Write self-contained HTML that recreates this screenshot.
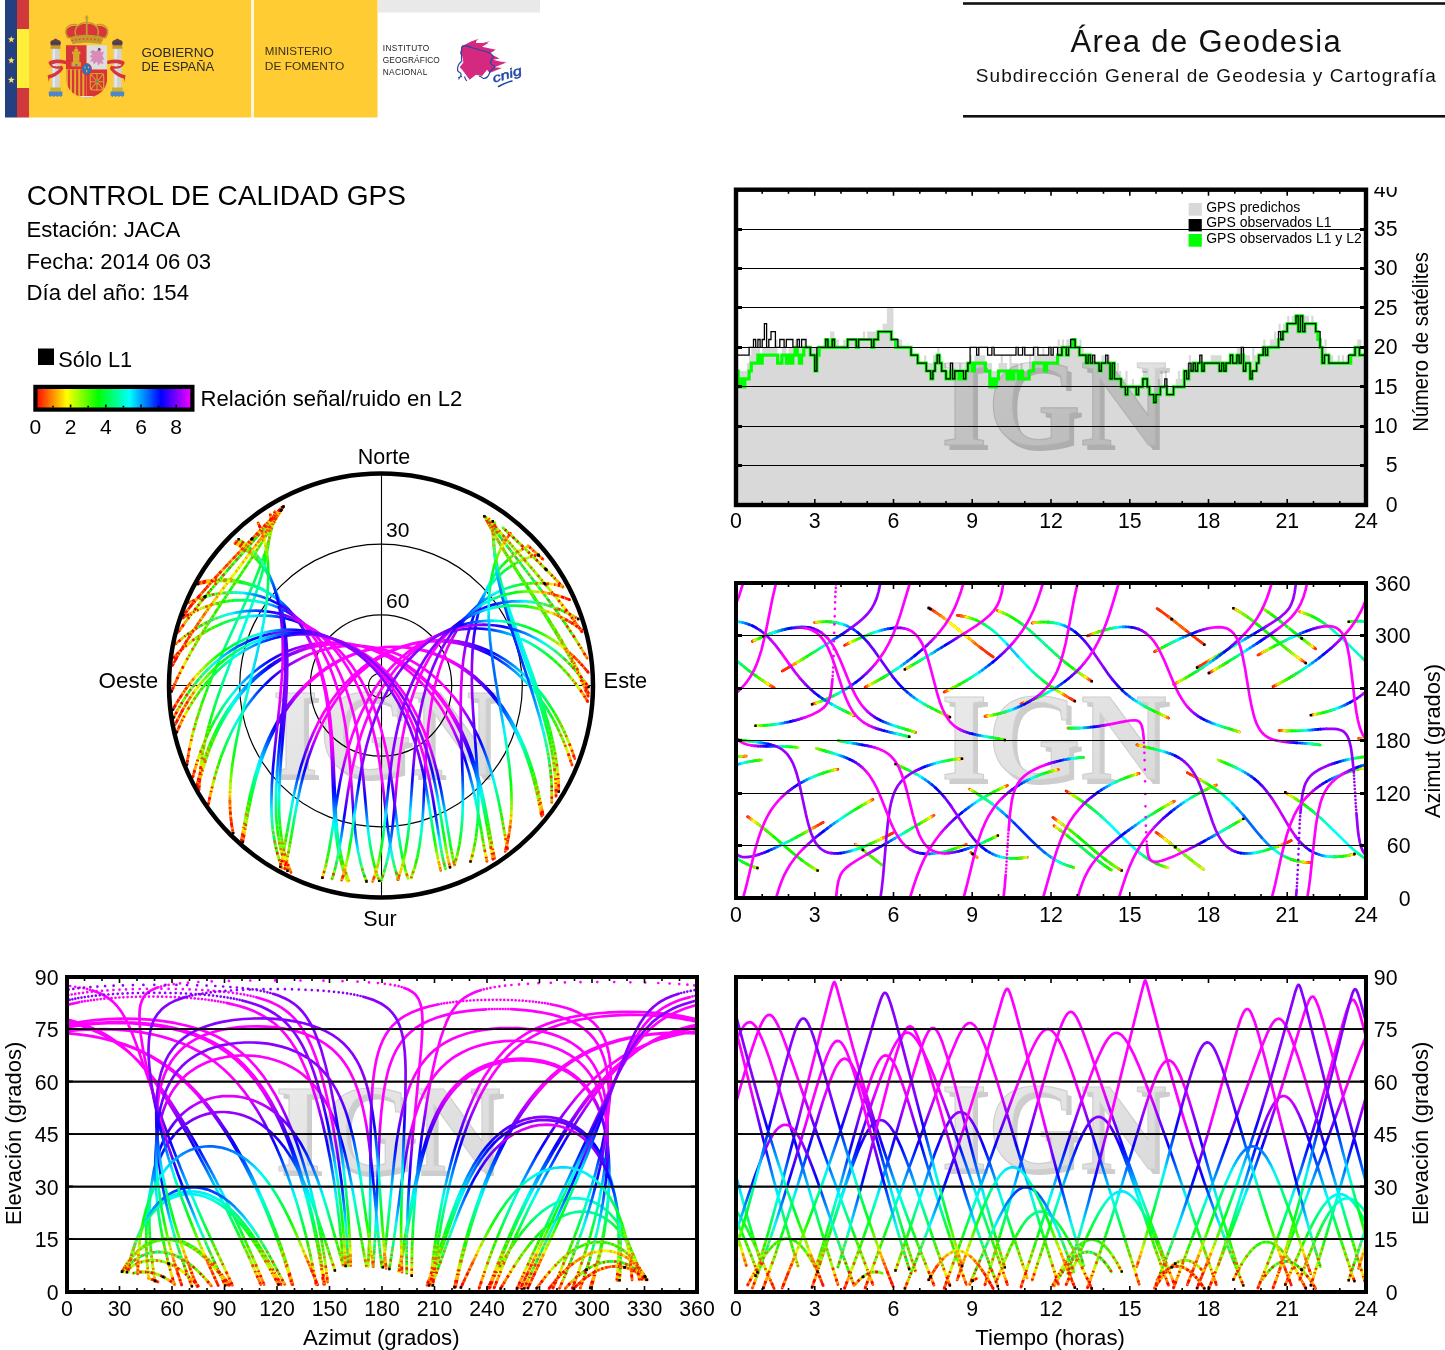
<!DOCTYPE html>
<html><head><meta charset="utf-8"><title>Control de calidad GPS</title>
<style>html,body{margin:0;padding:0;background:#fff}svg{display:block}text{font-family:"Liberation Sans",sans-serif}</style>
</head><body>
<svg width="1445" height="1350" viewBox="0 0 1445 1350">
<rect width="1445" height="1350" fill="#fff"/>
<defs>
<linearGradient id="wg" x1="0" x2="1" y1="0" y2="1"><stop offset="0" stop-color="#ececec"/><stop offset=".5" stop-color="#e2e2e2"/><stop offset="1" stop-color="#d8d8d8"/></linearGradient><g id="ign" font-size="124" font-weight="bold" text-anchor="middle"><text x="4.5" y="45.5" style="font-family:'Liberation Serif',serif;fill:#cdcdcd" textLength="226" lengthAdjust="spacingAndGlyphs">IGN</text><text x="0" y="40.5" style="font-family:'Liberation Serif',serif;fill:url(#wg)" stroke="#d0d0d0" stroke-width="1.2" textLength="226" lengthAdjust="spacingAndGlyphs">IGN</text></g>
<linearGradient id="cb" x1="0" x2="1" y1="0" y2="0"><stop offset="0.0000" stop-color="#ff0000"/><stop offset="0.0500" stop-color="#ff4000"/><stop offset="0.1000" stop-color="#ff8000"/><stop offset="0.1500" stop-color="#ffbf00"/><stop offset="0.2000" stop-color="#ffff00"/><stop offset="0.2500" stop-color="#bfff00"/><stop offset="0.3000" stop-color="#80ff00"/><stop offset="0.3500" stop-color="#40ff00"/><stop offset="0.4000" stop-color="#00ff00"/><stop offset="0.4500" stop-color="#00ff40"/><stop offset="0.5000" stop-color="#00ff80"/><stop offset="0.5500" stop-color="#00ffbf"/><stop offset="0.6000" stop-color="#00ffff"/><stop offset="0.6500" stop-color="#00bfff"/><stop offset="0.7000" stop-color="#0080ff"/><stop offset="0.7500" stop-color="#0040ff"/><stop offset="0.8000" stop-color="#0000ff"/><stop offset="0.8500" stop-color="#4000ff"/><stop offset="0.9000" stop-color="#8000ff"/><stop offset="0.9500" stop-color="#bf00ff"/><stop offset="1.0000" stop-color="#ff00ff"/></linearGradient>
</defs>
<rect x="5" y="0" width="12.5" height="117.5" fill="#24407f"/>
<rect x="17" y="0" width="12.5" height="117.5" fill="#d0383c"/>
<rect x="17" y="29" width="12.5" height="59" fill="#ffee3a"/>
<polygon points="11.3,35.9 12.2,38.3 14.7,38.4 12.7,40.0 13.4,42.4 11.3,41.0 9.2,42.4 9.9,40.0 7.9,38.4 10.4,38.3" fill="#ffe25a"/>
<polygon points="11.3,56.9 12.2,59.3 14.7,59.4 12.7,61.0 13.4,63.4 11.3,62.0 9.2,63.4 9.9,61.0 7.9,59.4 10.4,59.3" fill="#ffe25a"/>
<polygon points="11.3,76.4 12.2,78.8 14.7,78.9 12.7,80.5 13.4,82.9 11.3,81.5 9.2,82.9 9.9,80.5 7.9,78.9 10.4,78.8" fill="#ffe25a"/>
<rect x="29" y="0" width="222.3" height="117.5" fill="#ffcc33"/>
<rect x="254" y="0" width="123.5" height="117.5" fill="#ffcc33"/>
<rect x="251.3" y="0" width="2.7" height="117.5" fill="#fff6d8"/>
<rect x="378" y="0" width="162" height="12.5" fill="#e9e9e9"/>
<g>
<rect x="51.6" y="48" width="8" height="42" fill="#cfd3d6"/>
<rect x="52.8" y="48" width="2.2" height="42" fill="#e6e8ea"/>
<rect x="50.6" y="45.6" width="10" height="3.2" fill="#c39a2c"/>
<rect x="50.3" y="87.5" width="10.6" height="4.2" fill="#cbb02e"/>
<path d="M48.8 91.5h13.6v4l-1.7 1.6-1.7-1.4-1.7 1.4-1.7-1.4-1.7 1.4-1.7-1.4-1.7 1.4-1.7-1.6z" fill="#4f86c6"/>
<path d="M51.2 45.6c-1.6-2.6-1-5 1.8-5.6l2.6-1.6 2.6 1.6c2.8 .6 3.4 3 1.8 5.6z" fill="#6b3f3a"/>
<path d="M51.1 42.3h9v1.6h-9z" fill="#33406e"/>
<rect x="113.4" y="48" width="8" height="42" fill="#cfd3d6"/>
<rect x="114.6" y="48" width="2.2" height="42" fill="#e6e8ea"/>
<rect x="112.4" y="45.6" width="10" height="3.2" fill="#c39a2c"/>
<rect x="112.1" y="87.5" width="10.6" height="4.2" fill="#cbb02e"/>
<path d="M110.6 91.5h13.6v4l-1.7 1.6-1.7-1.4-1.7 1.4-1.7-1.4-1.7 1.4-1.7-1.4-1.7 1.4-1.7-1.6z" fill="#4f86c6"/>
<path d="M113.0 45.6c-1.6-2.6-1-5 1.8-5.6l2.6-1.6 2.6 1.6c2.8 .6 3.4 3 1.8 5.6z" fill="#6b3f3a"/>
<path d="M112.9 42.3h9v1.6h-9z" fill="#33406e"/>
<path d="M48.4 62.5c3-3.4 10-3.6 17.6-1.8v3.6c-7-1.6-12-1.2-14.6 .8 2.2 1.8 8 1.6 10.6 .4l1.4 3.2c-3.2 5-9 8.6-14 9.8l-.6 3.4-1.2-6.6c5-1 9.6-3.6 12.2-6.8-5 .8-9.600-.8-11.4-6z" fill="#d8353a"/>
<path d="M124.800 62.5c-3-3.4-10-3.6-17.600-1.800v3.600c7-1.600 12-1.200 14.600.8-2.200 1.800-8 1.600-10.600.4l-1.400 3.200c3.200 5 9 8.600 14 9.800l.6 3.400 1.200-6.600c-5-1-9.600-3.600-12.200-6.800 5 .8 9.600-.8 11.400-6z" fill="#d8353a"/>
<clipPath id="sh"><path d="M66 45.200h41.200v33c0 11-9 19.300-20.600 19.300s-20.600-8.300-20.600-19.300z"/></clipPath>
<g clip-path="url(#sh)">
<rect x="66" y="45" width="20.700" height="24.500" fill="#d8353a"/>
<rect x="86.700" y="45" width="20.600" height="24.500" fill="#dcdddf"/>
<rect x="66" y="69.500" width="20.700" height="29" fill="#e5a82c"/>
<rect x="67.9" y="69.500" width="2.1" height="29" fill="#d8353a"/>
<rect x="72.0" y="69.500" width="2.1" height="29" fill="#d8353a"/>
<rect x="76.1" y="69.500" width="2.1" height="29" fill="#d8353a"/>
<rect x="80.2" y="69.500" width="2.1" height="29" fill="#d8353a"/>
<rect x="84.3" y="69.500" width="2.1" height="29" fill="#d8353a"/>
<rect x="86.700" y="69.500" width="20.600" height="29" fill="#d8353a"/>
<path d="M80 96h13v2h-13z" fill="#e8e8e8"/>
</g>
<path d="M71.500 66.500v-4.500h1.500v-8h-1v-2.500h2.200v-2.600h1.300v-2.200h1.400v2.200h1.300v2.600h2.200v2.500h-1v8h1.500v4.500z" fill="#d8a52e"/>
<circle cx="76.400" cy="65" r="1.1" fill="#3f6fb5"/>
<path d="M90 52l3-2 3 1.500 3-3.500 2.500 1-1 3.500 3.500-1-1.500 4 2 4.500-2.500-.5 1.500 4.500-3-1-2.500 2.500-1-4-3.500 3-.5-3.500-3 1 2-4-2.500-2 3-1.500z" fill="#d98ab8"/>
<path d="M98.500 47.800l2 .8-.8 2.200-1.800-.8z" fill="#55406a"/>
<g stroke="#d8a52e" stroke-width="1.1" fill="none"><rect x="90.300" y="73.500" width="13.400" height="16.500" rx="3"/><path d="M90.300 73.500l13.400 16.500M103.700 73.500l-13.400 16.500M97 73v17.500M90 81.700h14"/></g>
<circle cx="97" cy="81.500" r="1.300" fill="#3aa04a"/>
<ellipse cx="86.700" cy="69.200" rx="4.800" ry="5.800" fill="#2f6fc0" stroke="#d8353a" stroke-width=".8"/>
<path d="M85 66.500v2M88.400 66.500v2M86.700 70v2.400" stroke="#e6c23a" stroke-width="1"/>
<path d="M67.500 38c-5-7 1-13.500 9.500-12 3-3 16.500-3 19.500 0 8.500-1.500 14.500 5 9.500 12-11-3.400-27-3.400-38 0z" fill="#d8353a"/>
<g fill="none" stroke="#c39a2c" stroke-width="1.500"><path d="M69 38.500c-7-8-1.500-15.500 8-13.800"/><path d="M104.500 38.500c7-8 1.500-15.500-8-13.800"/><path d="M76 36c-3-7 2-13 10.500-13.500"/><path d="M97.500 36c3-7-2-13-10.500-13.500"/><path d="M86.700 16v21" stroke-width="1.800"/></g>
<path d="M69.500 37.200c11-3.400 23.500-3.400 34.500 0l-3.200 7c-9-2-19.100-2-28.100 0z" fill="#c39a2c"/>
<path d="M71.500 40.800c10-2.600 20.500-2.600 30.500 0" stroke="#e04040" stroke-width="1.300" fill="none" stroke-dasharray="1.600 2.200"/>
<path d="M84.900 17.800h3.600M86.700 15.300v4.500" stroke="#c39a2c" stroke-width="1.200"/>
</g>
<g fill="#2b2a29">
<text x="141.500" y="56.500" font-size="13" textLength="72.500" lengthAdjust="spacingAndGlyphs">GOBIERNO</text>
<text x="141.500" y="71" font-size="13" textLength="72.500" lengthAdjust="spacingAndGlyphs">DE ESPAÑA</text>
<text x="264.800" y="55.300" font-size="11.600" textLength="67.500" lengthAdjust="spacingAndGlyphs" fill="#3a3020">MINISTERIO</text>
<text x="264.800" y="70.300" font-size="11.600" textLength="79.500" lengthAdjust="spacingAndGlyphs" fill="#3a3020">DE FOMENTO</text>
<text x="382.800" y="50.800" font-size="8.300" textLength="46.500" lengthAdjust="spacing" fill="#222">INSTITUTO</text>
<text x="382.800" y="62.600" font-size="8.300" textLength="57" lengthAdjust="spacing" fill="#222">GEOGRÁFICO</text>
<text x="382.800" y="74.500" font-size="8.300" textLength="44.500" lengthAdjust="spacing" fill="#222">NACIONAL</text>
</g>
<path d="M462.2 46.1L469.6 42.3 476.500 39.9 475.9 43 488.300 43 482.100 46.700 495.800 49.800 489.600 53.500 499.500 58.500 493.300 59.800 505.100 62.900 494.500 67.200 502 67.900 489.600 72.900 487.100 69.700 482.100 76 475.900 74.700 469.600 79.700 465.900 74.700 462.200 69.700 459.700 67.200 463.400 62.300 462.200 56 460.300 52.300Z" fill="#d5297f"/>
<path d="M470 42l8.500-3.200-5 4.500zM478 44.500l12-3.500-9 5.500zM492 61.500l15 .5-13 4z" fill="#d5297f"/>
<path d="M462.500 46c-2.500 2.500 .5 4.500-1.800 7 2.200 2.500-.3 5 1.200 8-3 2.500-4.800 5.500-4.300 9.500 .8 2.200 3.200 1.200 3.500 3.800 .4 2.200-2.800 3.400-2.200 5.200M464.500 76.500c1 2.200 .5 3.500 2.500 4.200M462.500 46c3.500-1.500 5.500 1 8.500 1.200 3 1.500 6 1.200 9 2.800 3 .4 6 1.800 9 2.600 2.500 1.400 4 2.400 4.500 4.200-1.500 2-3.500 4-3 6.500 1 2.200 4 1.200 4.200 3.800-1.500 2.400-4.500 2.600-5 5.400-.8 3-3.200 5.800-6.200 6-1.800-.6-2.400-2.600-4.600-2.200" fill="none" stroke="#2348a6" stroke-width="1.200" stroke-linejoin="round"/>
<path d="M458.200 77.300l1.200.5M461.200 76l.6 1.200" stroke="#2348a6" stroke-width="1.100"/>
<text transform="translate(494,82.800) rotate(-17)" font-size="12.500" font-style="italic" fill="#2348a6" stroke="#2348a6" stroke-width=".45" textLength="30" lengthAdjust="spacingAndGlyphs">cnig</text>
<path d="M498.500 86.500c4.500-2.600 8.500-4.400 13.500-5.600" stroke="#2348a6" stroke-width="1.500" fill="none" stroke-linecap="round"/>
<rect x="963" y="2.200" width="482" height="2.600" fill="#111"/>
<rect x="963" y="115" width="482" height="2.600" fill="#111"/>
<text x="1206.3" y="52" font-size="31" text-anchor="middle" letter-spacing="1.37" fill="#111">Área de Geodesia</text>
<text x="1206.3" y="82" font-size="19" text-anchor="middle" letter-spacing="1.09" fill="#111">Subdirección General de Geodesia y Cartografía</text>
<text x="26.8" y="205" font-size="28.05" text-anchor="start" >CONTROL DE CALIDAD GPS</text>
<text x="26.5" y="236.5" font-size="22.15" text-anchor="start" >Estación: JACA</text>
<text x="26.5" y="268.5" font-size="22.15" text-anchor="start" >Fecha: 2014 06 03</text>
<text x="26.5" y="299.5" font-size="22.15" text-anchor="start" >Día del año: 154</text>
<rect x="38" y="348.5" width="16" height="16.5" fill="#000"/>
<text x="58.3" y="366.5" font-size="21.8" text-anchor="start" >Sólo L1</text>
<rect x="35.4" y="386.9" width="157" height="22.7" fill="url(#cb)" stroke="#000" stroke-width="4.2"/>
<path d="M53.0 407.6v-1.8M70.6 407.6v-3M88.2 407.6v-1.8M105.8 407.6v-3M123.4 407.6v-1.8M141.0 407.6v-3M158.6 407.6v-1.8M176.2 407.6v-3" stroke="#000" stroke-width="1.6"/>
<text x="35.4" y="433.8" font-size="21" text-anchor="middle" >0</text>
<text x="70.6" y="433.8" font-size="21" text-anchor="middle" >2</text>
<text x="105.80000000000001" y="433.8" font-size="21" text-anchor="middle" >4</text>
<text x="141.0" y="433.8" font-size="21" text-anchor="middle" >6</text>
<text x="176.20000000000002" y="433.8" font-size="21" text-anchor="middle" >8</text>
<text x="200.6" y="405.6" font-size="22.1" text-anchor="start" >Relación señal/ruido en L2</text>
<defs><linearGradient id="gl0" gradientUnits="userSpaceOnUse" x1="0" x2="0" y1="1292" y2="977"><stop offset="0.0000" stop-color="#ff0000"/><stop offset="0.0222" stop-color="#ff3900"/><stop offset="0.0444" stop-color="#ff9f00"/><stop offset="0.0611" stop-color="#faff00"/><stop offset="0.0778" stop-color="#aaff00"/><stop offset="0.0944" stop-color="#80ff00"/><stop offset="0.1111" stop-color="#55ff00"/><stop offset="0.1278" stop-color="#35ff00"/><stop offset="0.1444" stop-color="#15ff00"/><stop offset="0.1667" stop-color="#00ff0b"/><stop offset="0.1889" stop-color="#00ff2a"/><stop offset="0.2167" stop-color="#00ff55"/><stop offset="0.2444" stop-color="#00ff80"/><stop offset="0.2722" stop-color="#00ffb5"/><stop offset="0.3000" stop-color="#00ffea"/><stop offset="0.3278" stop-color="#00dfff"/><stop offset="0.3556" stop-color="#00aaff"/><stop offset="0.3833" stop-color="#007bff"/><stop offset="0.4111" stop-color="#004cff"/><stop offset="0.4389" stop-color="#0022ff"/><stop offset="0.4667" stop-color="#0800ff"/><stop offset="0.4944" stop-color="#3100ff"/><stop offset="0.5222" stop-color="#5900ff"/><stop offset="0.5556" stop-color="#8700ff"/><stop offset="0.5889" stop-color="#b500ff"/><stop offset="0.6222" stop-color="#e100ff"/><stop offset="0.6556" stop-color="#ff00ff"/><stop offset="0.6889" stop-color="#ff00ff"/><stop offset="0.7222" stop-color="#ff00ff"/><stop offset="0.7500" stop-color="#ff00ff"/><stop offset="0.7778" stop-color="#ff00ff"/><stop offset="1.0000" stop-color="#ff00ff"/></linearGradient><linearGradient id="gl1" gradientUnits="userSpaceOnUse" x1="0" x2="0" y1="1292" y2="977"><stop offset="0.0000" stop-color="#ff0000"/><stop offset="0.0222" stop-color="#ff9000"/><stop offset="0.0444" stop-color="#99ff00"/><stop offset="0.0611" stop-color="#4bff00"/><stop offset="0.0778" stop-color="#10ff00"/><stop offset="0.0944" stop-color="#00ff1d"/><stop offset="0.1111" stop-color="#00ff4d"/><stop offset="0.1278" stop-color="#00ff66"/><stop offset="0.1444" stop-color="#00ff80"/><stop offset="0.1667" stop-color="#00ffaa"/><stop offset="0.1889" stop-color="#00ffd4"/><stop offset="0.2167" stop-color="#00f4ff"/><stop offset="0.2444" stop-color="#00bfff"/><stop offset="0.2722" stop-color="#008eff"/><stop offset="0.3000" stop-color="#005fff"/><stop offset="0.3278" stop-color="#0033ff"/><stop offset="0.3556" stop-color="#0008ff"/><stop offset="0.3833" stop-color="#2100ff"/><stop offset="0.4111" stop-color="#4900ff"/><stop offset="0.4389" stop-color="#7000ff"/><stop offset="0.4667" stop-color="#9600ff"/><stop offset="0.4944" stop-color="#bc00ff"/><stop offset="0.5222" stop-color="#e100ff"/><stop offset="0.5556" stop-color="#ff00ff"/><stop offset="0.5889" stop-color="#ff00ff"/><stop offset="0.6222" stop-color="#ff00ff"/><stop offset="0.6556" stop-color="#ff00ff"/><stop offset="0.6889" stop-color="#ff00ff"/><stop offset="0.7222" stop-color="#ff00ff"/><stop offset="0.7500" stop-color="#ff00ff"/><stop offset="0.7778" stop-color="#ff00ff"/><stop offset="1.0000" stop-color="#ff00ff"/></linearGradient><linearGradient id="gl2" gradientUnits="userSpaceOnUse" x1="0" x2="0" y1="1292" y2="977"><stop offset="0.0000" stop-color="#ff0000"/><stop offset="0.0222" stop-color="#ff1700"/><stop offset="0.0444" stop-color="#ff2d00"/><stop offset="0.0611" stop-color="#ff3e00"/><stop offset="0.0778" stop-color="#ff4f00"/><stop offset="0.0944" stop-color="#ff7300"/><stop offset="0.1111" stop-color="#ff9f00"/><stop offset="0.1278" stop-color="#faff00"/><stop offset="0.1444" stop-color="#aaff00"/><stop offset="0.1667" stop-color="#71ff00"/><stop offset="0.1889" stop-color="#40ff00"/><stop offset="0.2167" stop-color="#0dff00"/><stop offset="0.2444" stop-color="#00ff1b"/><stop offset="0.2722" stop-color="#00ff44"/><stop offset="0.3000" stop-color="#00ff6f"/><stop offset="0.3278" stop-color="#00ff9f"/><stop offset="0.3556" stop-color="#00ffd4"/><stop offset="0.3833" stop-color="#00f4ff"/><stop offset="0.4111" stop-color="#00bfff"/><stop offset="0.4389" stop-color="#008eff"/><stop offset="0.4667" stop-color="#005fff"/><stop offset="0.4944" stop-color="#0033ff"/><stop offset="0.5222" stop-color="#0008ff"/><stop offset="0.5556" stop-color="#2900ff"/><stop offset="0.5889" stop-color="#5900ff"/><stop offset="0.6222" stop-color="#8700ff"/><stop offset="0.6556" stop-color="#8800ff"/><stop offset="0.6889" stop-color="#8800ff"/><stop offset="0.7222" stop-color="#8800ff"/><stop offset="0.7500" stop-color="#8800ff"/><stop offset="0.7778" stop-color="#8800ff"/><stop offset="1.0000" stop-color="#8800ff"/></linearGradient><linearGradient id="nl0" gradientUnits="userSpaceOnUse" x1="0" x2="0" y1="1292" y2="977"><stop offset="0.0000" stop-color="#ff0000" stop-opacity="1"/><stop offset="0.0556" stop-color="#ff0000" stop-opacity="1"/><stop offset="0.0889" stop-color="#ff2000" stop-opacity="0.8"/><stop offset="0.1333" stop-color="#ff6000" stop-opacity="0.45"/><stop offset="0.1889" stop-color="#ffa000" stop-opacity="0"/><stop offset="1.0000" stop-color="#ffa000" stop-opacity="0"/></linearGradient><linearGradient id="nl1" gradientUnits="userSpaceOnUse" x1="0" x2="0" y1="1292" y2="977"><stop offset="0.0000" stop-color="#ff8000" stop-opacity="1"/><stop offset="0.0556" stop-color="#ffd000" stop-opacity="0.9"/><stop offset="0.1111" stop-color="#e0ff00" stop-opacity="0.7"/><stop offset="0.1778" stop-color="#a0ff00" stop-opacity="0.4"/><stop offset="0.2444" stop-color="#60ff00" stop-opacity="0"/><stop offset="1.0000" stop-color="#60ff00" stop-opacity="0"/></linearGradient><radialGradient id="gr0" gradientUnits="userSpaceOnUse" cx="381" cy="685.5" r="212"><stop offset="0.0000" stop-color="#ff00ff"/><stop offset="0.2222" stop-color="#ff00ff"/><stop offset="0.2500" stop-color="#ff00ff"/><stop offset="0.2778" stop-color="#ff00ff"/><stop offset="0.3111" stop-color="#ff00ff"/><stop offset="0.3444" stop-color="#ff00ff"/><stop offset="0.3778" stop-color="#e100ff"/><stop offset="0.4111" stop-color="#b500ff"/><stop offset="0.4444" stop-color="#8700ff"/><stop offset="0.4778" stop-color="#5900ff"/><stop offset="0.5056" stop-color="#3100ff"/><stop offset="0.5333" stop-color="#0800ff"/><stop offset="0.5611" stop-color="#0022ff"/><stop offset="0.5889" stop-color="#004cff"/><stop offset="0.6167" stop-color="#007bff"/><stop offset="0.6444" stop-color="#00aaff"/><stop offset="0.6722" stop-color="#00dfff"/><stop offset="0.7000" stop-color="#00ffea"/><stop offset="0.7278" stop-color="#00ffb5"/><stop offset="0.7556" stop-color="#00ff80"/><stop offset="0.7833" stop-color="#00ff55"/><stop offset="0.8111" stop-color="#00ff2a"/><stop offset="0.8333" stop-color="#00ff0b"/><stop offset="0.8556" stop-color="#15ff00"/><stop offset="0.8722" stop-color="#35ff00"/><stop offset="0.8889" stop-color="#55ff00"/><stop offset="0.9056" stop-color="#80ff00"/><stop offset="0.9222" stop-color="#aaff00"/><stop offset="0.9389" stop-color="#faff00"/><stop offset="0.9556" stop-color="#ff9f00"/><stop offset="0.9778" stop-color="#ff3900"/><stop offset="1.0000" stop-color="#ff0000"/></radialGradient><radialGradient id="gr1" gradientUnits="userSpaceOnUse" cx="381" cy="685.5" r="212"><stop offset="0.0000" stop-color="#ff00ff"/><stop offset="0.2222" stop-color="#ff00ff"/><stop offset="0.2500" stop-color="#ff00ff"/><stop offset="0.2778" stop-color="#ff00ff"/><stop offset="0.3111" stop-color="#ff00ff"/><stop offset="0.3444" stop-color="#ff00ff"/><stop offset="0.3778" stop-color="#ff00ff"/><stop offset="0.4111" stop-color="#ff00ff"/><stop offset="0.4444" stop-color="#ff00ff"/><stop offset="0.4778" stop-color="#e100ff"/><stop offset="0.5056" stop-color="#bc00ff"/><stop offset="0.5333" stop-color="#9600ff"/><stop offset="0.5611" stop-color="#7000ff"/><stop offset="0.5889" stop-color="#4900ff"/><stop offset="0.6167" stop-color="#2100ff"/><stop offset="0.6444" stop-color="#0008ff"/><stop offset="0.6722" stop-color="#0033ff"/><stop offset="0.7000" stop-color="#005fff"/><stop offset="0.7278" stop-color="#008eff"/><stop offset="0.7556" stop-color="#00bfff"/><stop offset="0.7833" stop-color="#00f4ff"/><stop offset="0.8111" stop-color="#00ffd4"/><stop offset="0.8333" stop-color="#00ffaa"/><stop offset="0.8556" stop-color="#00ff80"/><stop offset="0.8722" stop-color="#00ff66"/><stop offset="0.8889" stop-color="#00ff4d"/><stop offset="0.9056" stop-color="#00ff1d"/><stop offset="0.9222" stop-color="#10ff00"/><stop offset="0.9389" stop-color="#4bff00"/><stop offset="0.9556" stop-color="#99ff00"/><stop offset="0.9778" stop-color="#ff9000"/><stop offset="1.0000" stop-color="#ff0000"/></radialGradient><radialGradient id="gr2" gradientUnits="userSpaceOnUse" cx="381" cy="685.5" r="212"><stop offset="0.0000" stop-color="#8800ff"/><stop offset="0.2222" stop-color="#8800ff"/><stop offset="0.2500" stop-color="#8800ff"/><stop offset="0.2778" stop-color="#8800ff"/><stop offset="0.3111" stop-color="#8800ff"/><stop offset="0.3444" stop-color="#8800ff"/><stop offset="0.3778" stop-color="#8700ff"/><stop offset="0.4111" stop-color="#5900ff"/><stop offset="0.4444" stop-color="#2900ff"/><stop offset="0.4778" stop-color="#0008ff"/><stop offset="0.5056" stop-color="#0033ff"/><stop offset="0.5333" stop-color="#005fff"/><stop offset="0.5611" stop-color="#008eff"/><stop offset="0.5889" stop-color="#00bfff"/><stop offset="0.6167" stop-color="#00f4ff"/><stop offset="0.6444" stop-color="#00ffd4"/><stop offset="0.6722" stop-color="#00ff9f"/><stop offset="0.7000" stop-color="#00ff6f"/><stop offset="0.7278" stop-color="#00ff44"/><stop offset="0.7556" stop-color="#00ff1b"/><stop offset="0.7833" stop-color="#0dff00"/><stop offset="0.8111" stop-color="#40ff00"/><stop offset="0.8333" stop-color="#71ff00"/><stop offset="0.8556" stop-color="#aaff00"/><stop offset="0.8722" stop-color="#faff00"/><stop offset="0.8889" stop-color="#ff9f00"/><stop offset="0.9056" stop-color="#ff7300"/><stop offset="0.9222" stop-color="#ff4f00"/><stop offset="0.9389" stop-color="#ff3e00"/><stop offset="0.9556" stop-color="#ff2d00"/><stop offset="0.9778" stop-color="#ff1700"/><stop offset="1.0000" stop-color="#ff0000"/></radialGradient><radialGradient id="nr0" gradientUnits="userSpaceOnUse" cx="381" cy="685.5" r="212"><stop offset="0.0000" stop-color="#ffa000" stop-opacity="0"/><stop offset="0.8111" stop-color="#ffa000" stop-opacity="0"/><stop offset="0.8667" stop-color="#ff6000" stop-opacity="0.45"/><stop offset="0.9111" stop-color="#ff2000" stop-opacity="0.8"/><stop offset="0.9444" stop-color="#ff0000" stop-opacity="1"/><stop offset="1.0000" stop-color="#ff0000" stop-opacity="1"/></radialGradient><radialGradient id="nr1" gradientUnits="userSpaceOnUse" cx="381" cy="685.5" r="212"><stop offset="0.0000" stop-color="#60ff00" stop-opacity="0"/><stop offset="0.7556" stop-color="#60ff00" stop-opacity="0"/><stop offset="0.8222" stop-color="#a0ff00" stop-opacity="0.4"/><stop offset="0.8889" stop-color="#e0ff00" stop-opacity="0.7"/><stop offset="0.9444" stop-color="#ffd000" stop-opacity="0.9"/><stop offset="1.0000" stop-color="#ff8000" stop-opacity="1"/></radialGradient><clipPath id="k2"><rect x="736" y="583" width="630" height="315"/></clipPath><clipPath id="k3"><rect x="67" y="977" width="630" height="315"/></clipPath><clipPath id="k4"><rect x="736" y="977" width="630" height="315"/></clipPath><clipPath id="kp"><circle cx="381" cy="685.5" r="212"/></clipPath><path id="a0" d="M736 1040.4L739.9 1032.3 743.4 1026.6 745 1024.7 746.5 1023.3 748 1022.5 749.3 1022.2 750.7 1022.3 752.2 1023 753.7 1024.3 755.2 1026 756.8 1028.3 758.5 1031.4 762.2 1039.5 765.5 1047.8 769.5 1058.9 778.9 1088.1 788.5 1119.9 818.9 1222.8 828.8 1255.2 837.9 1284.5M1273 1288L1313.1 1179.1 1352.2 1071 1360.1 1050.4 1366 1036.7M736 1102.5L744.5 1073.1 751.1 1051.7 756.3 1036.2 760.5 1025.7 762.5 1021.6 764.2 1018.7 766 1016.5 767.5 1015.3 769 1014.9 770.6 1015.2 772.1 1016.2 773.8 1018.2 776 1021.6 778.7 1026.9 781.7 1034.1 785.2 1043.2 791.8 1061.5 813.7 1124.3 827.7 1163.4 846.5 1214.4 872.9 1284.5M1310.9 1285.3L1321.4 1251.3 1332.8 1213 1366 1096.5M755.5 1275.7L768.4 1232.2 781.9 1183.2 797.7 1122.8 829 998.5 832.5 985.7 833.6 982.8 834.2 982.1 834.7 982.3 835.3 983.5 837.1 989 852.8 1047.2 864.6 1088.6 874 1119.7 883.4 1149 894.4 1181.2 906.2 1214 919.1 1247.8 934 1285.2M763.3 1288L775.4 1254.2 787.4 1217.9 798.8 1181.4 819.6 1112 823.9 1098.2 827.7 1087.2 832.5 1074.6 834.7 1069.7 836.6 1066 838.6 1063 840.6 1060.7 842.5 1059.3 844.3 1058.7 846.2 1059 848.2 1060.2 850.2 1062.3 852.4 1065.6 854.6 1069.8 856.8 1074.7 859.2 1080.9 861.8 1088.4 865.9 1101.5 871 1118.5 890.4 1188.2 899.4 1219.4 907.7 1247 915.6 1271.5M1052.8 1285.3L1058.7 1274.3 1063.7 1265.5 1068.5 1258 1072.9 1252.1 1077 1247.4 1081.2 1243.7 1085.1 1241.3 1087.1 1240.4 1089.1 1239.9 1091 1239.7 1093 1239.7 1095 1240.1 1096.9 1240.7 1098.9 1241.6 1100.9 1242.8 1104.8 1246.1 1108.8 1250.5 1112.9 1256.2 1117.3 1263.3 1121.7 1271.5M816.1 1266.5L823.7 1242.3 831.8 1215.1 840.6 1184.3 859.6 1115.5 864.6 1098.3 868.8 1085.1 871.4 1077.5 873.8 1071.3 876 1066.3 878.2 1062.1 880.2 1059.1 882.1 1056.9 884.1 1055.7 886.1 1055.4 887.8 1056 889.8 1057.5 891.5 1059.6 893.5 1062.6 895.5 1066.4 897.7 1071.3 902.2 1083.5 906 1094.6 910.1 1107.8 930.7 1176.8 942.1 1213.5 954.1 1249.9 966.3 1284.4M1233.4 1279.6L1238.2 1270.1 1242.8 1262.1 1247.2 1255.5 1251.6 1250.1 1255.8 1246.2 1257.9 1244.7 1259.9 1243.6 1261.9 1242.8 1263.8 1242.2 1265.8 1242 1268 1242.1 1270 1242.5 1271.9 1243.1 1273.9 1244.1 1276.1 1245.4 1280.5 1249.1 1284.8 1253.9 1289.4 1260 1294.5 1267.8 1299.7 1276.8 1305.8 1288.3M812.1 1287.3L825.9 1245 862.7 1130.4 872.9 1099.8 881.2 1076.5 885.4 1065.7 889.3 1056.2 892.8 1048.7 895.9 1043 899 1038.3 901.8 1035.1 904.4 1033.3 905.8 1032.8 907.1 1032.6 908.4 1032.7 909.7 1033.2 912.3 1034.9 915.2 1037.9 918.2 1042.3 921.5 1048.1 925.2 1055.7 929.2 1064.6 933.8 1075.8 944 1102.8 957.6 1140.6 1007.5 1284.7M844.5 1288.4L853.2 1265.6 861.6 1242.7 869.7 1219.2 877.8 1194.5 890.4 1153.2 913.6 1072.6 917.6 1059.5 920.8 1049.3 924.3 1039.7 927.2 1033.6 928.5 1031.4 929.8 1029.7 931.1 1028.6 932.4 1028 934 1028.2 935.5 1029.2 937 1031 938.8 1034 940.5 1037.7 942.5 1042.8 946.9 1056.1 954.8 1084.3 974.4 1160.2 984.7 1198.6 995 1234.9 1004.8 1267.4M1156 1286.1L1159.5 1280.8 1162.8 1276.2 1166.1 1272.1 1169.1 1268.7 1172.2 1265.8 1175 1263.7 1178.1 1261.9 1180.9 1260.8 1183.8 1260.3 1186.6 1260.3 1189.5 1260.9 1192.3 1262 1195.2 1263.7 1198 1266 1200.8 1268.8 1203.7 1272.1M865.1 1288.1L904 1181.9 939.9 1082.9 950.4 1055 956.7 1039.9 959.3 1034.5 961.8 1030.1 963.9 1026.9 965.9 1024.8 967.9 1023.4 969.8 1023 970.9 1023.1 972 1023.5 974.2 1025.2 976.4 1028 978.8 1032 981.4 1037.4 984.3 1044.2 987.6 1052.9 991.1 1062.9 996.8 1080.3 1003.5 1102.2 1039.2 1222.1 1049.2 1255.1 1058.4 1284.3M944.2 1288.4L999.8 1132.5 1013.6 1094.8 1023.4 1069.2 1027.6 1059 1031.3 1050.5 1034.6 1043.8 1037.7 1038.2 1040.3 1034.3 1042.9 1031.4 1045.3 1029.7 1046.6 1029.3 1047.7 1029.1 1048.8 1029.2 1050.1 1029.6 1051.4 1030.4 1052.8 1031.5 1055.4 1034.6 1058 1038.7 1060.8 1044.2 1064.1 1051.5 1067.6 1060.2 1071.6 1070.8 1078.8 1091.8 1087.5 1118.9 1123 1233.3 1139.2 1284.3M984.9 1284.9L995.2 1251.5 1006.4 1213.7 1018 1173.1 1042.9 1084.1 1049 1063 1053.8 1047.1 1059.3 1030.7 1061.7 1024.4 1063.7 1019.9 1065.7 1016.2 1067.4 1013.7 1069.2 1012.2 1070.7 1011.8 1072 1012.1 1073.3 1013 1074.6 1014.4 1076.2 1016.7 1079.4 1023.2 1083.4 1032.9 1090.2 1051.8 1113.8 1121 1128 1161.1 1147.5 1213.8 1174.4 1284.5M1021 1287.1L1034.4 1246.2 1071.3 1131.5 1081.8 1100.3 1090.4 1076.6 1094.5 1065.8 1098.5 1056.5 1102 1049 1105.2 1042.9 1108.1 1038.6 1110.9 1035.4 1112.5 1034.2 1113.8 1033.5 1115.1 1033 1116.4 1032.9 1117.7 1033.1 1119 1033.5 1121.7 1035.2 1124.5 1038.3 1127.6 1042.7 1130.8 1048.6 1134.6 1056.2 1138.5 1065.1 1143.1 1076.4 1153.4 1103.4 1166.7 1140.6 1216.4 1284.7M747.6 1285.2L753.5 1274.1 758.8 1264.9 763.6 1257.3 767.9 1251.3 772.3 1246.3 776.5 1242.6 780.4 1240.1 782.4 1239.3 784.3 1238.8 786.3 1238.5 788.3 1238.6 790.2 1238.9 792.2 1239.5 794.2 1240.5 796.2 1241.7 800.3 1245.2 804.5 1249.9 808.6 1255.8 813 1263 817.6 1271.8M1087.5 1287.9L1099.3 1254.7 1111.2 1219 1122.3 1183.2 1142.9 1114.7 1147.5 1100.2 1151.2 1089.2 1156 1076.6 1158.2 1071.8 1160.4 1067.6 1162.3 1064.6 1164.3 1062.3 1166.3 1060.9 1168 1060.4 1170 1060.6 1172 1061.8 1173.9 1063.8 1176.1 1067 1178.3 1071.1 1180.7 1076.5 1185.8 1090.2 1190.1 1103.8 1195.2 1120.8 1214.4 1189.5 1223.4 1220.6 1231.5 1247.3 1239.3 1271.7M1173.5 1288L1216.2 1173.2 1231.5 1130.9 1254.2 1067 1262.1 1045.8 1267.3 1033.2 1269.5 1028.6 1271.5 1025 1273.5 1022.1 1275.2 1020.2 1277 1019 1278.5 1018.7 1279.4 1018.8 1280.5 1019.2 1282.4 1020.7 1284.6 1023.6 1286.8 1027.5 1289.2 1032.6 1291.8 1039.2 1298 1056.7 1303.7 1074.6 1310.7 1097.9 1347.6 1225 1356.6 1254.7 1365.1 1282.1M736 1176.1L749.1 1223.2 761.6 1265.6M1208.9 1288.5L1223.6 1251.4 1235.6 1220.2 1246.3 1191.5 1256.2 1164.1 1266.7 1133.5 1277 1102 1285.3 1075.5 1300.2 1026.3 1304.5 1012.4 1306.7 1006.1 1308.7 1001.2 1310.2 998.4 1311.5 997 1312.6 996.6 1313.7 997.1 1314.8 998.4 1315.9 1000.4 1318.8 1007.6 1322.5 1019.5 1331.2 1051.2 1354.4 1139.3 1366 1182.4M736 1030.3L742.1 1054.4 761.6 1133 773 1177.3 785.9 1224.7 792 1246 798.1 1266.4M970.7 1282L974 1279.8 977.1 1278.3M1257.9 1288.1L1269.8 1258.3 1280.5 1229.7 1290.5 1201.1 1300.4 1171.5 1308.2 1146.3 1316.1 1119.9 1325.5 1086.7 1342.8 1023.6 1346.3 1011.9 1348.9 1004.7 1350.7 1001.3 1351.6 1000.3 1352.2 999.9 1352.9 999.8 1353.8 1000.1 1354.6 1001 1355.5 1002.5 1357.5 1007 1359.7 1013.7 1362.5 1023.6 1366 1036.9M814.5 1280.6L845.8 1184.9 852.6 1165.4 858.5 1150 861.6 1142.9 864.6 1136.5 867.5 1131.3 870.3 1127 872.9 1123.9 875.6 1121.6 878.2 1120.3 880.6 1120 883 1120.5 885.4 1121.8 887.8 1123.9 890.4 1127 893.1 1130.9 895.7 1135.6 898.5 1141.4 901.6 1148.3 906.2 1159.9 911.2 1173.7 936.8 1249.3 943.6 1268.4 949.9 1285.4M1066.1 1284.7L1080.5 1251.1 1087.1 1236.4 1093.4 1223 1099.1 1212.4 1102 1207.7 1104.8 1203.5 1107.4 1200.1 1110.1 1197.2 1112.7 1194.9 1115.1 1193.2 1117.7 1192 1120.1 1191.4 1122.8 1191.4 1125.2 1192 1127.8 1193.3 1130.4 1195.1 1133 1197.6 1135.7 1200.7 1138.3 1204.4 1141.1 1208.9 1146.8 1219.5 1153.2 1233.5 1159.9 1250.3 1168 1272.1M736 1210.5L739.3 1215.3 742.8 1221.1 746.3 1227.5 750.2 1235.3 758.3 1252.7 774.1 1288.5M895.5 1270.5L906.6 1238.3 929.8 1167.8 935.3 1152.3 940.1 1139.9 942.9 1133.3 945.8 1127.4 948.4 1122.6 951 1118.6 953.7 1115.5 956.1 1113.5 958.5 1112.3 960.9 1112 963.3 1112.6 965.7 1114 968.1 1116.2 970.7 1119.5 973.3 1123.7 976.2 1129.1 979 1135.2 982.1 1142.5 987.6 1157 994.1 1176.1 1017.3 1248.1 1027.2 1277.9M1299.7 1279.9L1305.6 1264 1310.9 1250.6 1315.7 1239.1 1320.1 1229.4 1324.2 1221.2 1328.4 1214 1332.3 1208.3 1336 1204 1339.8 1200.9 1341.7 1199.7 1343.5 1198.9 1345.2 1198.5 1347 1198.3 1348.7 1198.3 1350.7 1198.8 1352.4 1199.4 1354.4 1200.5 1358.1 1203.4 1362.1 1207.6 1366 1212.9M736 1220.2L740.6 1229.8 745.6 1241.5 751.1 1255.3 757.4 1272.3M1032.2 1280.2L1064.6 1180.9 1071.3 1161.4 1077 1146.5 1080.1 1139.3 1083.2 1132.9 1086 1127.8 1088.6 1123.8 1091.2 1120.6 1093.9 1118.4 1096.5 1117.1 1098.9 1116.8 1101.3 1117.4 1103.7 1118.7 1106.1 1120.9 1108.8 1124.2 1111.4 1128.2 1114 1133 1116.8 1138.9 1119.7 1145.5 1124.1 1156.7 1129.1 1170.6 1154.9 1247.7 1161.9 1267.6 1168.5 1285.2M1285.3 1284.6L1303.2 1243.5 1308.7 1231.7 1313.5 1222.1 1318.3 1213.5 1322.9 1206.5 1327.1 1201.3 1329.2 1199.1 1331.2 1197.4 1333.4 1196 1335.6 1194.9 1337.8 1194.3 1339.8 1194.1 1341.7 1194.3 1343.9 1194.9 1345.9 1195.8 1348.1 1197.3 1350 1199 1352.2 1201.2 1356.6 1206.9 1361.2 1214.4 1366 1223.7M997 1279.8L1004 1262.2 1010.3 1247.6 1016.2 1235.7 1021.7 1226.5 1024.3 1222.7 1026.9 1219.5 1029.6 1216.8 1032 1214.8 1034.6 1213.1 1037 1212.1 1039.4 1211.6 1041.8 1211.6 1044.2 1212 1046.6 1213 1049 1214.4 1051.7 1216.5 1054.1 1218.8 1056.7 1221.8 1059.3 1225.2 1062.2 1229.4 1067.8 1238.9 1074 1250.6 1081 1265.2 1091.7 1288.5M1218.1 1265.6L1230.2 1229.2 1254.2 1152.3 1259.5 1136.6 1264.1 1124.1 1266.9 1117.1 1269.8 1110.9 1272.4 1106 1274.8 1102.2 1277.2 1099.3 1279.6 1097.2 1282 1096.2 1284.2 1096 1286.4 1096.7 1288.8 1098.4 1291 1100.7 1293.4 1104 1296 1108.5 1298.6 1113.8 1301.5 1120.4 1304.3 1127.6 1308.9 1140.2 1314.4 1156.6 1340 1237.5 1354.4 1281.1"/><path id="a1" d="M752.4 1288.1L759.8 1268.2 767.3 1247.4 774.5 1226.2 781.7 1204.1 794.8 1161.4 816.5 1087.4 823.3 1066 827.4 1054.8 830.9 1047.3 832.7 1044.5 834.2 1042.6 835.8 1041.4 837.3 1040.9 839 1041.1 840.8 1042.2 842.5 1044.2 844.5 1047.4 846.5 1051.5 848.4 1056.3 853.2 1070.3 857.2 1083.4 861.8 1099.8 881.2 1172.7 890.9 1207.7 900.3 1240.1 909.2 1269M1054.1 1285.9L1058.4 1278.5 1062.6 1272 1066.5 1266.5 1070.2 1262 1073.8 1258.5 1077.2 1255.6 1080.8 1253.5 1084 1252.3 1087.5 1251.9 1090.8 1252.3 1094.1 1253.4 1097.4 1255.4 1100.7 1258 1104.2 1261.7 1107.7 1266.1 1111.4 1271.7M837.9 1267.2L847.8 1234.7 858.3 1197.5 868.6 1159 888.2 1082.8 896.1 1054.5 900.5 1041 902.2 1036.5 904 1032.6 905.8 1029.5 907.3 1027.6 908.8 1026.6 910.3 1026.4 911.4 1026.7 912.8 1027.8 914.1 1029.4 915.4 1031.5 918.2 1037.6 921.7 1047.2 925 1057.4 928.9 1070.6 951.7 1149.9 964.6 1192 972.7 1216.8 980.8 1240.3 989.1 1263.2 997.8 1286.2M1262.3 1279.8L1265.8 1274.8 1269.1 1270.7 1272.4 1267.4 1275.4 1264.9 1278.7 1263 1281.8 1261.8 1284.8 1261.3 1288.1 1261.5 1291.2 1262.3 1294.5 1263.9 1297.8 1266.2 1301 1269.1 1304.5 1272.8 1308 1277.2 1311.8 1282.4 1315.7 1288.5M904.9 1288.4L919.8 1251 932.2 1218.6 943.6 1187.8 954.1 1157.8 965 1124.8 975.5 1091.2 984.7 1060.2 1002.2 999.1 1003.8 994.5 1005.1 991.3 1006.2 989.4 1007 988.8 1007.7 989 1008.3 989.7 1009.9 992.8 1011.8 998.7 1014.7 1008.5 1022.6 1038.3 1046.6 1132.3 1057.6 1173.8 1070.9 1222.3 1083.6 1265.7M1067.8 1273.6L1074.6 1251.1 1081.4 1227.7 1088.4 1202.5 1095.6 1175.6 1111.4 1114.2 1141.3 993 1144.2 982.4 1144.8 980.7 1145.3 980.4 1145.9 981.4 1147.2 985.7 1161.9 1041.7 1173.3 1082.9 1183.1 1116.5 1193.2 1148.8 1204.3 1182.4 1216.2 1215.6 1228.8 1249.1 1243.3 1285.4M855.2 1284.4L858.7 1280.5 862.2 1277.3 865.7 1274.8 869 1273.1 872.3 1272.1 875.6 1271.8 878.8 1272.2 882.1 1273.3M1154.5 1288.3L1163.7 1265 1172.4 1241.8 1180.7 1218.5 1188.6 1195.3 1198.2 1165.4 1208.1 1132.8 1217.2 1100.7 1232.6 1045.4 1237.6 1028.3 1240.4 1019.8 1242.8 1013.9 1243.9 1011.9 1245 1010.3 1246.1 1009.4 1247 1009 1248.1 1009.2 1249.4 1010.3 1250.5 1011.8 1251.8 1014.4 1254.7 1021.8 1258.4 1034 1265.2 1059.4 1285.5 1140.6 1297.1 1185.3 1308.9 1228.2 1320.3 1266.6M736 1232.8L747.6 1197.4 755.5 1174.5 762 1157.1 765.1 1149.9 767.9 1143.7 770.8 1138.3 773.4 1134 776 1130.4 778.7 1127.6 781.3 1125.8 783.7 1124.9 786.1 1124.8 788.5 1125.4 790.7 1126.8 793.1 1128.9 795.3 1131.5 797.7 1135 800.1 1139.1 802.7 1144.2 808.2 1156.5 812.3 1167 817.2 1180.2 841.4 1250.9 848 1269.2 854.1 1285.4M969.6 1284.6L985.4 1247.5 991.7 1233 998.1 1219.4 1003.8 1208.6 1006.6 1203.8 1009.4 1199.5 1012.1 1196.1 1014.7 1193.1 1017.3 1190.7 1019.7 1189.1 1022.3 1187.8 1024.8 1187.3 1027.4 1187.3 1029.8 1187.9 1032.4 1189.2 1035 1191.1 1037.7 1193.6 1040.3 1196.8 1043.1 1200.8 1046 1205.5 1048.8 1210.7 1051.9 1216.9 1058.2 1231.2 1065.2 1248.9 1073.8 1272.1M1348.7 1280.3L1366 1227.5"/><path id="a2" d="M736 1249.7L745 1218.8 754.6 1183.7 764.2 1146.8 783 1072.9 790.7 1044.8 794.8 1031.7 796.6 1027.1 798.1 1023.7 799.7 1021.1 801 1019.5 802.5 1018.5 803.8 1018.5 804.9 1019 806 1020 808.2 1023.4 810.8 1029.4 813.7 1037.3 820.2 1058.9 843 1139.2 850.2 1163.3 857.2 1185.8 865.7 1211.8 874.5 1237 883.4 1261.5 893.1 1286.5M1157.1 1279.9L1160.2 1276.1 1163 1273.1 1165.8 1270.7 1168.7 1268.7 1171.5 1267.3 1174.2 1266.5 1177 1266.2 1179.8 1266.4 1182.7 1267.2 1185.5 1268.5 1188.4 1270.3 1191.4 1272.7 1194.5 1275.7 1197.6 1279.2 1200.8 1283.4 1204.3 1288.4M1358.6 1268.4L1366 1243.9M782.2 1288.1L796.8 1251.2 808.8 1220 819.8 1190.5 829.8 1162.2 840.8 1129.9 851.3 1097.1 860 1068.4 874.5 1019.2 878.6 1005.6 880.6 999.8 882.1 996.1 883.4 993.8 884.1 993.1 884.8 992.8 885.6 993 886.5 993.8 887.4 995.2 888.5 997.6 890.9 1004.5 894.2 1015.6 901.6 1043.1 924.8 1132.4 937.2 1179.3 949.9 1225 962 1266M928.7 1279.8L932.9 1272.5 937 1266.1 941 1261 944.7 1257 948.4 1254 952.1 1252 954.1 1251.4 955.8 1251 957.6 1250.9 959.6 1251 963.3 1251.9 967 1253.8 970.9 1256.8 974.9 1260.8 979 1265.8 983.4 1272 988 1279.3 993.2 1288.5M1136.8 1266.6L1145.3 1239 1154.5 1207.4 1163.9 1173.2 1183.1 1101.4 1187.9 1084.3 1191.9 1071.3 1196.5 1058 1198.7 1052.8 1200.6 1048.8 1202.6 1045.7 1204.3 1043.7 1206.1 1042.7 1207.8 1042.4 1209.4 1043 1210.9 1044.2 1212.4 1046 1214.2 1048.8 1215.9 1052.2 1217.9 1056.7 1222.1 1067.9 1229.1 1089.9 1250.3 1162.4 1263 1203.7 1270 1225.2 1277 1245.8 1284 1265.6 1291.2 1285M736 1230.7L746.3 1265.7M1197.1 1288.1L1212.2 1250.3 1225.1 1216.6 1236.9 1184.2 1247.9 1152.4 1258.8 1118.6 1269.5 1083.4 1279.2 1049.9 1295.1 992.3 1297.1 986.6 1297.8 985.4 1298.4 984.8 1298.8 984.9 1299.5 985.6 1300.6 988.2 1304.3 1000.9 1343.2 1153.5 1355.1 1197.8 1366 1236.7M736 1015.6L748.5 1062.3 758.1 1096.9 767.7 1129.7 777.6 1161.2 787.8 1192.1 798.6 1222.3 810.2 1253.1 823.1 1285.5M1278.9 1272.1L1285.5 1250.4 1292.1 1227.6 1298.8 1203.2 1305.8 1177.1 1320.1 1121.6 1345.4 1018.6 1349.6 1002.7 1352.2 994 1353.5 990.8 1354.6 989.3 1355.1 989.2 1355.7 989.4 1356.8 990.9 1358.1 994.1 1359.9 999.6 1366 1022M957.2 1279.9L968.8 1246.2 977.1 1223.2 984.3 1205 990.6 1191 993.7 1185.2 996.8 1180 999.6 1175.9 1002.4 1172.6 1005.3 1170 1007.9 1168.4 1010.5 1167.4 1013.2 1167.3 1015.6 1167.7 1018.2 1168.9 1020.8 1170.8 1023.4 1173.4 1026.1 1176.6 1028.9 1180.7 1032 1185.8 1035 1191.5 1040.5 1202.9 1046.8 1217.6 1067.4 1269.3 1074.8 1287.5M1187.3 1284.8L1197.1 1259.4 1219.4 1199 1225.3 1184.2 1230.4 1172.7 1233.4 1166.5 1236.3 1161.3 1239.1 1156.7 1241.8 1153.1 1244.4 1150.3 1246.8 1148.3 1249.4 1146.9 1251.8 1146.3 1254.4 1146.5 1257.1 1147.5 1259.7 1149.3 1262.5 1152.1 1265.4 1155.8 1268.2 1160.3 1271.1 1165.5 1274.1 1171.8 1280.5 1186.7 1287.9 1206.6 1296.2 1230.6 1310.7 1273.9"/><path id="b0" d="M655.2 1040.4L665.1 1036.2 674.9 1032.7 685.7 1029.5 696 1027.2M67.5 1026.9L80.5 1024.7 92.6 1023.3 107.1 1022.4 120 1022.2 133 1022.5 147.5 1023.6 159.6 1025.2 172.5 1027.6 182.9 1030.2 193.8 1033.6 203.5 1037.4 212.3 1041.6 221.2 1046.6 229 1052 236.8 1058.2 243.8 1064.7 251.2 1072.8 257.8 1081 264.2 1090.2 270.3 1100.2 276.3 1111.1 281.9 1122.9 287.4 1135.5 292.9 1149.6 298 1164.5 302.9 1180.1 307.7 1197.2 311.9 1214.1 315.8 1231.5 319.3 1249.5 322.2 1267.1 324.6 1284.5M489.7 1288L498.2 1265.4 507.8 1242.3 518.5 1218.5 529.8 1195.2 542 1171.9 554.2 1150.2 566.2 1130.2 578.2 1112 588.4 1098.1 598.6 1085.3 603.9 1079.3 609 1074 613.8 1069.2 618.9 1064.6 624.3 1059.9 629.4 1056 634.9 1052 639.9 1048.8 646.2 1045.1 652 1042 658.2 1039 663.8 1036.7M477 1102.5L480.7 1094.9 484.4 1088.1 488.3 1081.3 492.1 1075.4 496.3 1069.5 500.2 1064.4 504.5 1059.4 509.1 1054.5 514.2 1049.7 519 1045.7 524.2 1041.8 529 1038.6 534.2 1035.6 539.8 1032.6 545.9 1029.8 552.5 1027.2 559.7 1024.7 567.6 1022.5 576.1 1020.4 583.5 1019 593.2 1017.5 601.3 1016.5 612 1015.6 620.8 1015.1 629.7 1014.9 640.9 1015 649.7 1015.3 660.4 1016 668.7 1016.8 678.6 1018.2 687.8 1019.8 696.4 1021.6M68 1022L74.3 1023.7 81.6 1025.9 88.3 1028.3 94.5 1030.9 100.3 1033.5 106.6 1036.8 112.4 1040.3 117.7 1043.8 123.4 1047.9 128.7 1052.2 133.5 1056.5 138.7 1061.5 144 1067.1 149 1072.8 154.2 1079.1 159.1 1085.4 165 1093.6 171 1102.5 177 1111.9 183.6 1122.5 197.5 1146.5 212.6 1174.2 227.4 1203.2 241.3 1231.9 253.3 1258.5 264.1 1284.5M432.8 1285.3L434.1 1272.7 435.7 1259.2 437.5 1246.3 439.6 1233.1 441.9 1219.8 444.6 1206.3 447.4 1193.4 450.5 1180.5 453.7 1168.2 457 1156.6 460.5 1145 464.2 1134.2 467.8 1124.1 471.8 1114.1 475.9 1104.9 479.9 1096.5M411.7 1275.7L412 1250.3 413.2 1223 415.3 1194.5 418.3 1164.2 422.2 1133 426.6 1103.8 431.2 1077.6 433.8 1065.4 436.2 1054.8 440.4 1039.1 444.6 1026.9 446.7 1021.6 449.1 1016.4 451.5 1012.1 453.8 1008.7 456.4 1005.2 458.7 1002.7 461.5 1000.1 464.7 997.6 468.8 995.1 472.1 993.5 476 991.8 480.8 990.2M483.7 989.4h0M486.9 988.7h0M490.5 987.9h0M494.7 987.1h0M499.4 986.4h0M505 985.7h0M511.4 985h0M519 984.4h0M528 983.8h0M538.5 983.2h0M550.8 982.8h0M564.9 982.4h0M580.5 982.2h0M597.3 982.1h0M614.2 982.1h0M630.4 982.3h0M645.2 982.6h0M658.3 983h0M669.6 983.5h0M679.2 984.1h0M687.4 984.7h0M694.3 985.4h0M70.2 986h0M75.3 986.8h0M79.7 987.5h0M83.6 988.2h0M87 989h0M90 989.8h0M92.6 990.5L99.2 992.9 104.1 995.3 109.2 998.6 113.1 1001.9 117 1006 120.8 1010.9 124.3 1016.6 128 1023.9 132.3 1033.6 137.1 1046.4 163.3 1122.5 172.1 1146.4 181 1169.2 191 1193.6 201.8 1218.7 213.5 1244.5 232.4 1285.2M590.2 1288L593.6 1276.6 596.7 1264.9 599.4 1253.6 601.8 1242 603.9 1230.8 605.7 1219.3 607.1 1208.3 608.1 1197.1 608.8 1186.4 609.1 1176.3 609.1 1166.1 608.7 1156.6 608 1147.8 606.9 1138.9 605.4 1130.9 603.6 1122.8 601.4 1115.6 599.1 1109.2 596.4 1102.9 593.1 1096.8 589.8 1091.6 586 1086.5 581.7 1081.7 577.4 1077.8 572.7 1074.1 567.6 1070.7 561.9 1067.6 555.8 1064.9 549.3 1062.7 543.4 1061.1 536.1 1059.8 529.7 1059.1 522.1 1058.7 515.6 1058.9 509.1 1059.4 502.7 1060.4 496.4 1061.8 490.4 1063.5 484.7 1065.6 478.4 1068.4 473.3 1071.2 467.8 1074.7 463.4 1078 458.7 1082.1 454.3 1086.5 450.4 1091.1 446.3 1096.5 442.5 1102.2 439.6 1107.3 436.5 1113.2 433.7 1119.2 431.1 1125.4 428.5 1132.4 426.2 1139.4 421.4 1156 417.8 1171 414.1 1188.2 402.8 1249.1 398.3 1271.5M228.3 1285.3L220.5 1275.1 213.5 1266.6 206.4 1259.3 199.5 1253.2 196 1250.5 192.4 1248.1 188.7 1245.9 185.4 1244.2 181.7 1242.6 178.3 1241.5 174.9 1240.6 171.6 1240 167.8 1239.7 164.4 1239.7 161.1 1240 157.8 1240.6 154.5 1241.5 151.3 1242.7 148.2 1244.2 144.7 1246.1 141.7 1248.2 138.5 1250.8 135.7 1253.4 132.7 1256.5 127.2 1263.3 122.1 1271.5M366.4 1266.5L362.5 1245.8 351.9 1185.9 348.3 1167.7 344.5 1151.8 342.1 1143 339.7 1135.1 337.4 1128 334.7 1120.9 332.1 1114.8 329.3 1108.7 326.1 1102.7 323.1 1097.6 319.2 1091.9 315.5 1087.1 311.4 1082.5 307 1078.1 302.1 1074 297.5 1070.7 291.7 1067.2 286.4 1064.5 279.8 1061.7 273.8 1059.7 267.5 1058 260.9 1056.7 254.2 1055.9 247.4 1055.5 240.6 1055.5 233.9 1055.9 227.2 1056.7 219.8 1058.2 213.7 1059.9 207.1 1062.3 201.8 1064.7 196 1067.8 190.8 1071.3 186 1075.1 181.8 1079.2 178 1083.5 174.1 1088.6 170.8 1093.9 167.9 1099.4 165.1 1105.7 162.8 1112.1 160.6 1119.4 158.8 1127.5 157.4 1135.6 156.3 1144.5 155.6 1153.3 155.2 1162.9 155.2 1172.4 155.5 1182.5 156.3 1193.2 157.4 1204.5 158.8 1215.5 160.6 1227 162.7 1238.3 165.2 1249.9 167.9 1261.3 171 1273 174.4 1284.4M646.4 1279.6L643.8 1274.7 641.3 1270.5 638.7 1266.5 635.9 1262.8 633.1 1259.3 630.1 1256.1 627 1253.2 623.8 1250.6 620.4 1248.3 617 1246.4 613.5 1244.8 610.3 1243.7 607.1 1242.8 603.4 1242.2 599.7 1242 596 1242.1 592.7 1242.5 588.9 1243.3 585.2 1244.4 581.5 1245.9 577.8 1247.6 574.2 1249.7 570.6 1252 567.1 1254.7 559.8 1260.9 552.4 1268.5 544.7 1277.6 536.7 1288.3M454.5 1287.3L457.9 1271.3 461.6 1255.8 465.7 1240.2 470.3 1224.5 475.2 1209.5 480.2 1195.1 485.7 1180.6 491.4 1167 497.3 1154 503.3 1141.8 509.5 1130.4 515.8 1119.8 522.2 1110 529.2 1100.4 535.8 1092.2 542.9 1084.2 550.2 1077.1 557.4 1070.7 565.4 1064.6 573.2 1059.3 581.8 1054.3 590.3 1050 599.5 1046.1 608.3 1043 619 1039.9 629.1 1037.5 639.9 1035.5 651.2 1034.1 662.8 1033.1 673.2 1032.7 685.1 1032.7 697 1033.3M68.4 1033.4L78.5 1034.3 88.2 1035.7 97.5 1037.3 107.6 1039.6 116 1041.9 124.9 1044.9 133.2 1048.1 141 1051.6 149.1 1055.7 156.6 1060.1 163.6 1064.6 170.8 1069.9 177.5 1075.3 184.3 1081.4 191.2 1088.2 197.7 1095.2 204.7 1103.4 211.3 1111.8 218.3 1121.5 224.9 1131.3 231.5 1141.8 238 1153 244.2 1164.3 250.3 1176.3 256.4 1188.9 262.4 1202.2 268 1215.6 273.4 1228.9 278.5 1242.9 283.4 1256.9 287.8 1270.8 292 1284.7M572.3 1288.4L577.5 1274.9 582.2 1261.4 586.5 1248.2 590.5 1235.2 593.9 1222.5 597.2 1209.3 599.9 1196.6 602.2 1184.1 604.1 1172.1 605.7 1159.8 606.7 1148.1 607.3 1136.8 607.5 1126.2 607.2 1116.3 606.4 1107 605.1 1097.8 603.6 1090.1 601.7 1083.2 599.3 1076.3 596.6 1070.4 593.4 1064.5 589.9 1059.5 585.9 1054.6 581.2 1049.9 576.4 1046.1 571 1042.5 564.9 1039.2 558 1036.2 550.3 1033.6 543.2 1031.7 535.6 1030.2 527.6 1029.1 517.5 1028.2 508.9 1028 500.2 1028.2 491.7 1028.8 483.4 1029.9 474 1031.7 466.7 1033.5 458.7 1036.2 452.5 1038.8 445.9 1042.2 440 1045.9 434.8 1049.8 430.2 1054 425.5 1059.1 421.4 1064.3 417.8 1069.8 414.7 1075.4 412 1081 409.3 1087.6 406.9 1094.3 404.6 1101.9 402.6 1109.5 400.8 1118 399 1127.3 396.4 1143.4 394 1162.7 386.6 1236.4 382.9 1267.4M198.4 1286.1L193.6 1281.1 188.6 1276.5 183.6 1272.3 178.8 1268.9 174 1266 169.4 1263.8 164.4 1262 159.8 1260.9 155.2 1260.3 150.6 1260.3 146.1 1260.8 141.6 1261.9 137.2 1263.6 132.9 1265.8 128.7 1268.6 124.4 1272.1M488.6 1288.1L493.4 1275 498.5 1261.9 503.8 1248.8 509.7 1235.1 515.9 1221.3 522.1 1208.2 528.9 1194.4 535.6 1181.3 542.7 1168 549.8 1155.4 556.9 1143.3 563.9 1131.8 571 1120.9 577.6 1111.2 584.2 1102.1 590.7 1093.7 596.7 1086.5 602.6 1079.9 608.2 1073.9 614.3 1068.1 620.2 1062.9 625.9 1058.3 632 1053.9 638.6 1049.5 644.8 1045.9 651.6 1042.3 658.9 1038.9 665.7 1036.2 673 1033.6 680.9 1031.2 689.4 1029.1 696.8 1027.5M68.4 1027.2L81.3 1025.2 93.3 1023.9 107.6 1023.1 120.4 1023 133.1 1023.4 147.2 1024.6 159 1026.2 171.7 1028.6 181.9 1031.2 192.5 1034.6 202.1 1038.4 210.8 1042.6 219.5 1047.6 227.3 1052.9 235.1 1059.1 242.7 1066.2 250 1074.2 256.6 1082.4 263 1091.5 269.1 1101.5 275 1112.3 280.7 1124 286.2 1136.6 291.7 1150.6 296.9 1165.5 301.8 1181 306.7 1198 310.9 1214.8 314.8 1232.2 318.3 1249.4 321.3 1267 323.7 1284.3M479.1 1288.4L483.5 1274.9 488.2 1261.4 493.2 1247.8 498.6 1234.3 504.3 1220.7 510.3 1207.2 516.4 1194.2 522.8 1181.3 529.3 1169.1 536 1156.8 542.8 1145.3 549.6 1134.3 556.4 1124 563.2 1114.4 570 1105.5 576.7 1097.2 582.9 1090.2 589.5 1083.2 595.9 1077 602.2 1071.4 609 1065.9 615.6 1061.1 622.6 1056.5 629.4 1052.5 636.8 1048.7 644.7 1045.1 652.1 1042.1 660.1 1039.3 668.6 1036.9 677.7 1034.6 687.4 1032.7 696.1 1031.4M67.6 1031.2L79.7 1030 92.3 1029.3 105.1 1029.2 116.3 1029.6 128.8 1030.6 140.8 1032.2 152.2 1034.3 162.9 1036.9 172.7 1039.9 181.9 1043.3 191.3 1047.5 199.9 1052 207.7 1056.8 215.5 1062.5 223.4 1069 230.5 1075.8 237.5 1083.4 244.4 1091.8 251.1 1101.2 257.3 1110.6 263.7 1121.7 269.5 1132.8 275.5 1145.5 281 1158.2 286.5 1172.4 291.8 1187.4 296.9 1203 301.4 1218.6 305.7 1234.7 309.6 1251.5 313.1 1268 316 1284.3M430.4 1284.9L432.1 1266.6 434.4 1247.9 437.2 1228.7 440.6 1209.2 444.4 1190.1 448.7 1171.6 453.2 1154.4 458.1 1138 463.1 1123 468.2 1109.7 473.6 1097.2 479.3 1085.7 485 1075.7 491 1066.7 497.2 1058.6 504.4 1050.6 511.2 1044.3 519 1038.3 527.1 1033.1 536.4 1028.3 545.8 1024.4 556.5 1020.8 568.8 1017.7 580.5 1015.5 595.7 1013.5 609.6 1012.4 624.1 1011.8 641.1 1012 655.3 1012.8 670.8 1014.4 683 1016.3 695.8 1019M67.5 1019.5L74 1021.3 81.4 1023.7 86.9 1025.7 93.3 1028.4 99.1 1031.2 104.4 1034 109.3 1037 114.8 1040.6 119.7 1044.3 125.1 1048.7 130 1053.1 134.5 1057.5 139.3 1062.7 144.3 1068.5 149 1074.3 153.9 1080.8 159.3 1088.5 164.9 1096.9 177.1 1116.6 190.9 1140.9 206.3 1169.5 222.4 1201 236.8 1230.6 249.5 1258.2 260.7 1284.5M455.5 1287.1L458.9 1271.1 462.7 1255.7 466.9 1240.2 471.5 1224.5 476.4 1209.5 481.5 1195.2 487.1 1180.8 492.8 1167.2 498.7 1154.3 504.8 1142.2 511 1130.9 517.3 1120.3 523.7 1110.6 530.7 1101 537.3 1092.8 544.4 1084.9 551.6 1077.7 558.8 1071.4 566.7 1065.3 574.5 1060 583 1055 591.4 1050.8 600.4 1046.9 609.1 1043.7 619.7 1040.5 629.7 1038.1 640.3 1036.1 651.4 1034.5 663 1033.5 674.8 1033 685.2 1032.9 696.9 1033.4M68.4 1033.5L78.5 1034.4 88.2 1035.6 97.6 1037.2 107.8 1039.5 116.2 1041.7 125.2 1044.6 133.6 1047.7 142.4 1051.6 150.6 1055.7 158.1 1060.1 165.1 1064.6 172.3 1069.9 179 1075.3 185.9 1081.4 192.8 1088.2 199.3 1095.2 206.4 1103.4 212.9 1111.8 219.5 1120.9 226.1 1130.7 232.7 1141.3 238.9 1151.9 245.4 1163.8 251.6 1175.8 257.6 1188.5 263.6 1201.9 269.2 1215.3 274.5 1228.7 279.7 1242.8 284.5 1256.8 288.9 1270.8 292.9 1284.7M229.7 1285.2L222 1274.9 214.6 1266 207.3 1258.3 200.3 1252.1 196.8 1249.4 193.2 1246.9 189.5 1244.8 186.2 1243.1 182.4 1241.5 179.1 1240.3 175.3 1239.4 171.9 1238.8 168.1 1238.5 164.8 1238.6 161.1 1239 157.7 1239.6 154.5 1240.6 151.3 1241.8 148.1 1243.4 144.7 1245.4 141.7 1247.5 138.5 1250.2 135.7 1252.9 132.7 1256.1 129.8 1259.6 127 1263.4 121.9 1271.8M591.1 1287.9L594.4 1276.5 597.3 1265.4 600 1254 602.4 1242.4 604.4 1231.2 606.1 1219.7 607.4 1208.7 608.4 1198.2 609 1187.5 609.3 1177.4 609.3 1167.3 608.8 1157.7 608.1 1148.9 606.9 1140.1 605.4 1132.1 603.5 1124.1 601.4 1116.9 599.1 1110.5 596.3 1104.3 593 1098.2 589.7 1093 585.9 1088 581.6 1083.2 577.4 1079.3 572.7 1075.6 567.6 1072.2 562.1 1069.2 556.1 1066.5 549.6 1064.3 543.8 1062.8 536.7 1061.4 530.5 1060.7 523 1060.4 516.6 1060.5 510.2 1061 503.9 1062 497.8 1063.3 491.8 1065 486.2 1067 479.9 1069.8 474.9 1072.5 469.4 1076 465 1079.3 460.3 1083.3 456 1087.6 452 1092.1 447.9 1097.5 444.1 1103.1 441.1 1108.2 438 1114.1 435.2 1120.1 432.6 1126.2 429.9 1133.1 427.5 1140.1 422.7 1156.6 419 1171.6 415.1 1189.5 403.7 1249.4 399.1 1271.7M494.1 1288L504.3 1262.3 516 1235.3 529.1 1207.7 543.3 1179.8 558 1152.8 565.3 1140.1 572.3 1128.5 579.2 1117.4 585.8 1107.6 592.2 1098.3 598.2 1090.3 603.6 1083.5 609.3 1076.7 614.9 1070.6 620.3 1065.2 625.4 1060.3 631 1055.6 637 1050.9 642.7 1046.9 648.9 1043 654.7 1039.8 660.9 1036.6 667.7 1033.6 675.1 1030.8 681.7 1028.6 688.9 1026.5 696.5 1024.7M68.1 1024.3L81.6 1021.8 94.3 1020.2 107.9 1019.1 121.9 1018.7 136.1 1018.9 150 1019.7 163.3 1021.2 175.7 1023.2 187.1 1025.8 197.5 1028.8 206.8 1032.1 216.4 1036.3 224.9 1040.9 233.4 1046.3 241.6 1052.7 248.9 1059.3 255.9 1066.9 262.7 1075.3 269.1 1084.7 274.9 1094.2 280.8 1105.3 286.5 1117.4 291.9 1130.2 297 1143.9 302 1159 307 1175.7 311.6 1193 315.6 1210.2 319.3 1227.9 322.6 1246.1 325.4 1263.9 327.6 1282.1M333.2 1176.1L336.6 1199.2 339.4 1221.7 341.6 1244.4 343.1 1265.6M517 1288.5L531.9 1255.8 567.7 1180 604.9 1100 611.8 1086.1 617.6 1074.8 623.2 1064.7 628.4 1056.1 635.3 1045.9 642.3 1037.1 646.3 1032.8 650 1029.2 654.1 1025.6 657.7 1022.7 661.7 1019.9 666.2 1017.1 671.1 1014.4 675.3 1012.4 685 1008.5 690.6 1006.7 696.9 1004.9M69.2 1004.4L79.2 1002.2M82 1001.7h0M84.8 1001.2h0M87.8 1000.8h0M90.9 1000.3h0M94 999.9h0M97.3 999.5h0M100.7 999.1h0M104.3 998.7h0M107.9 998.4h0M111.6 998.1h0M115.5 997.8h0M119.4 997.5h0M123.4 997.3h0M127.6 997.1h0M131.8 997h0M136 996.8h0M140.3 996.7h0M144.7 996.7h0M149 996.6h0M153.4 996.6h0M157.8 996.7h0M162.1 996.7h0M166.4 996.8h0M170.7 997h0M174.9 997.1h0M179.1 997.3h0M183.1 997.6h0M187.1 997.8h0M191 998.1h0M194.7 998.4h0M198.4 998.8h0M202 999.1h0M205.4 999.5h0M208.7 1000h0M211.9 1000.4h0M215 1000.9h0M218 1001.3h0M220.9 1001.8h0M223.7 1002.4h0M226.4 1002.9L238.3 1005.8 244.4 1007.6 249.8 1009.6 254.8 1011.6 259.2 1013.7 263.2 1015.9 267.9 1018.8 272.2 1021.8 276 1024.8 279.4 1027.9 283.2 1031.9 286.6 1035.8 289.7 1039.8 292.5 1043.9 295.6 1048.7 298.4 1053.6 301.3 1059.4 306.8 1071.8 312.1 1086 317 1101.9 321.7 1119.4 326.3 1139.3 330.5 1160.6 334.2 1182.4M388.7 1030.3L385.4 1035.3 382.7 1040.4 380.2 1046.5 378.2 1052.6 376.4 1059.6 374.9 1067.6 373.6 1076.5 372.5 1086.3 371.5 1101.3 370.9 1119 370.5 1139.9 370.3 1192.9 370 1217.7 369.2 1243.7 368.1 1266.4M158.1 1282L153 1279.8 148.3 1278.3M552.9 1288.1L559.9 1272.2 566.3 1257.1 572.1 1242.7 577.5 1228.5 582.6 1214.4 587.2 1200.5 591.4 1186.9 595.5 1172.8 599 1159 602.2 1145.6 604.8 1132.5 607 1119.9 608.8 1107.7 610 1096.1 610.7 1085.1 610.8 1075.6 610.6 1067.6 609.8 1059.5 608.8 1053.1 607.2 1046.6 605.3 1040.9 602.8 1035.3 600 1030.6 597.1 1026.6 593.5 1022.8 589.1 1019 583.6 1015.4 578.3 1012.6 572 1009.9 566.4 1008 557.9 1005.7 550.5 1004.2M547.8 1003.7h0M545 1003.2h0M542.1 1002.8h0M539.1 1002.4h0M536 1002h0M532.9 1001.6h0M529.6 1001.3h0M526.2 1001h0M522.7 1000.7h0M519.2 1000.5h0M515.6 1000.3h0M511.9 1000.1h0M508.1 1000h0M504.3 999.9h0M500.5 999.8h0M496.7 999.8h0M492.8 999.8h0M489 999.8h0M485.2 999.9h0M481.4 1000h0M477.6 1000.1h0M473.9 1000.3h0M470.3 1000.5h0M466.7 1000.8h0M463.2 1001h0M459.8 1001.4h0M456.5 1001.7h0M453.3 1002.1h0M450.2 1002.5h0M447.1 1002.9h0M444.2 1003.3h0M441.4 1003.8h0M438.7 1004.3L428.9 1006.5 420.5 1008.9 411.9 1012.3 404.9 1015.9 401.4 1018.1 398.2 1020.5 393 1025.2 390.8 1027.7 388.2 1031 384.5 1036.9M617.9 1280.6L619.2 1263.4 619.6 1246.7 619.2 1230.5 617.9 1214.9 616.9 1207.4 615.7 1200 614.3 1193.4 612.7 1186.8 610.9 1180.4 609 1174.6 606.9 1169 604.5 1163.6 601.9 1158.3 599.3 1153.8 596.2 1148.9 593.2 1144.8 589.9 1141 586.4 1137.3 582.6 1134 578.6 1130.9 574.5 1128.2 570.6 1126.1 566 1124.1 561.9 1122.6 557 1121.3 552.7 1120.6 547.6 1120.1 543.2 1120 539.3 1120.2 534.9 1120.7 530.4 1121.6 526.1 1122.8 522.4 1124.1 518.2 1125.8 514 1127.9 510 1130.2 506.2 1132.8 502.4 1135.6 498.8 1138.6 494.9 1142.3 491.6 1145.8 488 1149.9 481.3 1158.8 475.6 1167.6 470.1 1177.5 464.8 1188.3 459.4 1200.6 454.9 1211.8 450.1 1224.9 434.8 1269 428.9 1285.4M281.1 1284.7L267.3 1259.3 262 1250.1 257.1 1242.2 252 1234.4 247 1227.5 242.1 1221.3 237.1 1215.5 231.8 1210.2 226.7 1205.7 221.4 1201.7 215.9 1198.3 210.4 1195.6 205.1 1193.6 199.8 1192.2 194.5 1191.5 188.8 1191.4 183.5 1192 178 1193.4 172.6 1195.5 167.4 1198.4 162.4 1201.9 157.7 1206 153 1211.2 148.9 1216.5 144.9 1222.7 141.2 1229.5 137.7 1237.2 134.6 1245.3 131.9 1253.8 129.5 1262.5 127.5 1272.1M543.4 1210.5L536.8 1216 530.4 1222.3 524 1229.6 517.3 1238.5 510.9 1247.9 504.2 1258.6 497 1271.1 487.4 1288.5M334.9 1270.5L318.1 1219.1 312.8 1204.3 307.9 1191.5 302.4 1178.9 296.6 1167.2 290.9 1157.2 284.9 1148.2 278.3 1139.9 274.5 1135.8 271 1132.3 267.3 1129.1 263.5 1126.1 259.5 1123.4 255.4 1120.9 251.1 1118.6 246.7 1116.7 242.2 1115.1 238.3 1114 233.6 1113 228.9 1112.3 224.2 1112 220.2 1112 215.5 1112.4 210.9 1113.1 206.4 1114.1 201.3 1115.7 197.1 1117.5 193 1119.5 189.1 1121.9 184.8 1124.9 181.3 1127.7 177.5 1131.3 174 1135.2 170.8 1139.3 167.8 1143.6 164.7 1148.7 162.2 1153.4 159.6 1158.9 157.4 1164.5 155.4 1170.2 153.6 1176.1 151.9 1182.7 150.5 1189.4 149.2 1196.2 148.2 1203.7 147.4 1211.2 146.4 1227 146.2 1243.3 146.9 1260.1 148.6 1277.9M639.4 1279.9L636.5 1266.9 633 1255 629 1244.2 626.8 1239.1 624.3 1234.1 621.7 1229.4 619.2 1225.4 616.3 1221.2 613.5 1217.6 610.5 1214.3 607.4 1211.3 604.2 1208.6 600.9 1206.1 597.4 1204 593.9 1202.2 590.2 1200.7 586.5 1199.6 582.7 1198.8 578.9 1198.3 575 1198.3 571.2 1198.5 567.3 1199.1 563.4 1200.1 559.6 1201.4 555.8 1203 552 1204.9 547.9 1207.4 544.3 1209.9 540.3 1212.9M147.2 1220.2L144 1225.1 140.9 1230.8 138 1236.8 135.3 1243.1 133 1249.7 130.7 1257 128.7 1264.6 126.9 1272.3M616.9 1280.2L618.3 1262.4 618.9 1245.6 618.5 1228.7 617.3 1213 616.4 1205.6 615.2 1198.1 613.9 1191.4 612.4 1184.8 610.6 1178.3 608.5 1171.9 606.4 1166.2 604 1160.8 601.4 1155.4 598.8 1150.9 595.6 1146 592.5 1141.8 589.2 1137.9 585.7 1134.2 581.9 1130.8 577.8 1127.8 573.5 1125 569.6 1122.9 564.9 1120.9 560.7 1119.4 555.7 1118.1 551.3 1117.4 546.1 1116.9 541.6 1116.8 537.7 1117.1 533.1 1117.7 528.6 1118.6 524.1 1119.8 520.4 1121.2 516.1 1123 511.9 1125.1 507.9 1127.5 503.9 1130.1 500.2 1133 496.5 1136.1 492.6 1139.9 489.3 1143.4 485.7 1147.7 482.2 1152.1 479 1156.7 473.3 1165.6 467.8 1175.7 462.6 1186.6 457.2 1199.1 452.9 1210.4 448.3 1223 433 1268.2 427 1285.2M278.5 1284.6L267.1 1263.9 258.6 1249.3 250.4 1236.8 242.7 1226.3 238.4 1221.3 234.4 1216.9 230.2 1212.8 226.4 1209.3 222.4 1206.2 218.3 1203.3 214.1 1200.8 209.9 1198.7 205.1 1196.8 200.8 1195.5 196.4 1194.6 192 1194.2 187.2 1194.2 182.9 1194.7 178.6 1195.6 174.5 1197 170.4 1198.8 166.4 1201 162.6 1203.6 158.6 1206.9 155.1 1210.3 151.5 1214.4 148.1 1218.8 144.9 1223.7M642 1279.8L639.8 1271.9 637.3 1264.3 634.4 1257 631.5 1250.5 628.3 1244.4 624.9 1238.6 621.1 1233.3 617.1 1228.5 612.9 1224.2 608.7 1220.8 604 1217.6 599.5 1215.3 594.8 1213.5 590.1 1212.2 585.2 1211.6 579.9 1211.6 575 1212.2 570.1 1213.3 565.2 1215 560.3 1217.3 555.6 1220 550.9 1223.2 546 1227.1 541.2 1231.5 536.6 1236.2 532.1 1241.3 527.4 1247.2 522.5 1253.7 517.9 1260.5 512.7 1268.4 500.6 1288.5M343.2 1265.6L327.1 1209.1 322 1192.8 317.3 1179.3 312 1166 306.3 1153.6 300.5 1143 294.3 1133.5 290.8 1128.7 287.4 1124.7 283.4 1120.3 279.6 1116.6 275.6 1113.2 271.5 1110 267.1 1107.1 262.5 1104.5 257.7 1102.2 252.8 1100.2 247.7 1098.6 243.3 1097.5 238 1096.6 232.7 1096.1 228.2 1096 222.9 1096.2 217.6 1096.8 212.5 1097.8 207.5 1099.2 202.1 1101.2 197.5 1103.3 193.1 1105.8 189 1108.5 184.5 1112 180.9 1115.3 177.1 1119.3 173.6 1123.6 170.4 1128.1 167.5 1132.8 164.6 1138.4 162.2 1143.4 159.9 1149.3 157.9 1155.2 155.9 1162 154.2 1168.8 152.8 1176.4 151.6 1184.1 150.7 1191.7 150 1199.4 149.6 1207.8 149.4 1216.2 149.4 1225.2 149.7 1234.1 150.3 1243.6 152.2 1262.3 155 1281.1"/><path id="b1" d="M580.3 1288.1L584.5 1275.9 588.5 1263.4 592.1 1251.1 595.4 1238.5 598.3 1226.2 600.8 1214.3 603 1202 604.7 1190.2 606.1 1178.8 607.1 1167.3 607.6 1156.3 607.8 1145.9 607.5 1136.1 606.8 1126.3 605.7 1117.2 604.2 1108.9 602.3 1101.4 600 1094 597.4 1087.4 594.6 1081.6 591.2 1076 587.3 1070.6 583.3 1066 578.8 1061.6 573.6 1057.5 568.6 1054.2 562.2 1050.8 556 1048.1 549.3 1045.8 542.2 1043.9 534.5 1042.4 527.9 1041.6 519.7 1041 511.4 1040.9 504.4 1041.2 496.2 1042.1 489.6 1043.1 482 1044.9 474.8 1047 468.1 1049.6 462 1052.5 456.3 1055.7 451.1 1059.2 446.4 1062.9 441.5 1067.5 437.1 1072.4 433.2 1077.4 429.2 1083.4 426.1 1088.8 423 1095 420.2 1101.4 417.8 1107.9 415.3 1115.2 413.2 1122.6 411 1130.8 408.9 1139.9 405.9 1155.6 402.8 1174.4 393.5 1242.3 389.4 1269M211.4 1285.9L205.1 1278.5 199.2 1272.3 193.5 1267.1 187.7 1262.5 181.7 1258.7 176 1255.8 170.2 1253.6 164.7 1252.4 158.9 1251.9 153.2 1252.3 147.9 1253.4 142.4 1255.5 137.4 1258.2 132.2 1261.9 127.3 1266.4 122.7 1271.7M381.9 1267.2L380.1 1252.3 378.3 1235.4 373.2 1180.5 371.2 1160.7 368.9 1142.1 366.5 1126 364.7 1116.6 362.9 1108.1 361 1100.5 358.7 1092.9 356.4 1086.2 353.7 1079.5 351 1073.8 348 1068.2 344.4 1062.7 340.3 1057.4 335.5 1052.3 330.9 1048.1 325.6 1044.1 319.6 1040.4 312.8 1037 306.5 1034.4 298.2 1031.7 290.7 1029.9 282.6 1028.3 274.1 1027.2 265.4 1026.6 256.4 1026.3 247.5 1026.5 238.8 1027.2 230.4 1028.3 222.5 1029.7 215.1 1031.5 207 1034.1 201 1036.6 194.5 1039.9 188.8 1043.4 183.8 1047.2 179.5 1051.2 175.2 1056 171.5 1061 168.1 1066.9 165.2 1072.8 162.7 1079.7 160.7 1086.6 159 1094.3 157.7 1103.6 156.9 1112.9 156.5 1122.8 156.6 1133.5 157.2 1144.7 158.2 1156.6 159.8 1168.9 161.7 1180.9 164 1193.4 166.8 1206.3 170 1219.4 173.7 1232.8 177.6 1245.9 181.9 1259.1 186.7 1272.6 191.9 1286.2M646.6 1279.8L642.3 1275.1 637.8 1271 633.1 1267.6 628.5 1265.1 623.5 1263.1 618.7 1261.9 613.4 1261.3 608.1 1261.5 602.8 1262.4 597.5 1264 592.2 1266.3 587 1269.3 581.6 1273.1 576.2 1277.5 570.6 1282.7 565.2 1288.5M524.2 1288.4L556 1219.8 570.8 1187.2 579.4 1167.4 588.1 1146.8 611.7 1089 618.7 1072.1 626.5 1054.9 630.3 1047.2 633.7 1041.1 638.8 1032.6 644.4 1024.8 647.7 1021 650.6 1017.9 656.7 1012.5 663.1 1007.9 667 1005.7 671.4 1003.5 676.5 1001.3 680.5 999.8 689.8 997.1M692.5 996.4h0M695.3 995.8h0M68.4 995.1h0M71.7 994.5h0M75.2 993.9h0M79 993.3h0M83 992.8h0M87.3 992.2h0M91.8 991.7h0M96.7 991.3h0M102 990.8h0M107.5 990.4h0M113.4 990h0M119.5 989.7h0M126 989.4h0M132.8 989.2h0M139.7 989h0M146.9 988.9h0M154.1 988.8h0M161.4 988.8h0M168.6 988.9h0M175.8 989h0M182.8 989.2h0M189.6 989.4h0M196.1 989.7h0M202.3 990h0M208.2 990.4h0M213.8 990.8h0M219 991.3h0M224 991.8h0M228.6 992.3h0M232.9 992.8h0M236.9 993.4h0M240.7 994h0M244.2 994.6h0M247.5 995.3h0M250.6 995.9h0M253.5 996.6h0M256.2 997.3L261.2 998.7 267.5 1000.8 272.9 1003.1 277.6 1005.4 281.5 1007.7 286.1 1010.9 290 1014.1 293.4 1017.4 297 1021.5 300.2 1025.7 303 1029.9 306 1034.9 309 1040.9 311.7 1046.8 314.4 1053.7 316.9 1060.5 319.9 1070 322.6 1079.4 325.2 1089.7 327.8 1100.8 332.9 1125.5 337.5 1153.2 341.5 1182 344.7 1211.5 346.9 1239.1 348.2 1265.7M406.8 1273.6L406.6 1254.1 406.9 1233 407.7 1210.5 409 1186.3 410.6 1162.3 412.8 1135.9 421.2 1048.7 422.2 1032.6 422.5 1021.1 422.2 1014 421.4 1007.8 420.3 1003.4 418.5 999 416.2 995.5 414.6 993.8 412.5 992.1 408.3 989.5 404.2 987.9M401.6 987h0M398.6 986.2h0M394.9 985.4h0M390.4 984.6h0M384.8 983.8h0M377.9 983.1h0M369 982.4h0M357.5 981.7h0M342.5 981.2h0M323.5 980.7h0M300.5 980.5h0M275.1 980.4h0M250.3 980.5h0M228.9 980.9h0M211.7 981.4h0M198.3 982h0M188 982.7h0M180 983.4h0M173.7 984.1h0M168.6 984.9h0M164.5 985.7h0M161.1 986.5h0M158.3 987.3L153.8 989 150.6 990.6 148.1 992.3 145.4 994.8 143.5 997.4 141.8 1000.8 140.5 1005 139.8 1009.2 139.5 1014.3 139.5 1020.1 139.9 1026.8 140.7 1034.3 141.9 1042.5 143.5 1052.2 147.8 1072.8 153.8 1097.3 161 1123 168.9 1148.1 177.9 1174 187.2 1198.6 197.9 1224.5 209.9 1252 225.2 1285.4M174.9 1284.4L169.5 1280.5 164.1 1277.3 158.7 1274.8 153.5 1273.1 148.3 1272.1 143.1 1271.8 138 1272.2 133 1273.3M559.5 1288.3L566.3 1272.4 572.7 1256.4 578.4 1241.2 583.7 1226 588.5 1210.9 592.9 1196 596.7 1181.3 600.1 1166.8 603 1152.6 605.3 1138.7 607.1 1125.3 608.2 1113.1 608.8 1101.5 608.8 1090.5 608.1 1080.2 606.9 1070.7 605.4 1063.5 603.3 1056.4 600.8 1050.1 597.5 1043.8 593.8 1038.5 589.8 1034 585.1 1029.7 579.2 1025.5 573.4 1022.3 566.6 1019.2 558.5 1016.4 551.2 1014.4 540.8 1012.3 531.6 1010.9 521.6 1009.9 511 1009.2M508.3 1009.1h0M505.5 1009.1h0M502.8 1009h0M500.1 1009h0M497.3 1009h0M494.6 1009.1h0M491.9 1009.1h0M489.1 1009.2h0M486.4 1009.3L478.4 1009.8 468.3 1010.8 461.1 1011.8 452.2 1013.4 444.2 1015.4 437.1 1017.5 430.7 1019.9 425.1 1022.5 420.1 1025.2 414.7 1028.7 410.1 1032.5 406.1 1036.3 402.7 1040.3 399.2 1045.2 396.2 1050.1 393.4 1056 391.3 1061.2 389.2 1067.2 387.5 1073.3 386.1 1079.4 384.7 1086.4 383.4 1094.3 381.3 1111.9 380 1127.6 379 1145.7 376.5 1208.7 375.5 1231.3 374.3 1250 373 1266.6M620.1 1232.8L618.9 1219.3 616.9 1206 614.4 1194.1 611.1 1182.6 607.2 1172.1 602.8 1162.7 597.8 1154.5 594.9 1150.4 592.2 1147 588.8 1143.3 585.7 1140.3 582.4 1137.5 579 1135 575.3 1132.7 571.6 1130.6 567.7 1128.9 563.7 1127.4 559.6 1126.3 555.4 1125.4 551.1 1124.9 546.8 1124.7 543.1 1124.8 538.7 1125.2 534.4 1125.9 530.1 1126.9 523 1129.4 516 1132.7 509.4 1136.8 502.7 1142 496.4 1147.9 490.5 1154.4 484.7 1161.9 479.4 1170 474.4 1178.4 469.6 1187.7 464.8 1197.8 460.1 1208.7 452.1 1229.4 437.6 1269.8 431.8 1285.4M284.8 1284.6L270.6 1257.8 265.4 1248.5 260.2 1239.9 255.2 1232 250.2 1224.9 245.3 1218.5 240.2 1212.6 234.9 1207.1 229.4 1202.1 224 1198 218.5 1194.5 212.9 1191.7 207.6 1189.6 201.7 1188.1 196.3 1187.3 190.5 1187.3 184.7 1188 179.1 1189.4 173.6 1191.7 168.3 1194.6 163 1198.6 158.3 1202.9 153.6 1208.2 149.2 1214.2 145.2 1220.6 141.7 1227.6 138.2 1235.5 135.2 1243.7 132.5 1252.9 130.2 1262.4 128.2 1272.1M619.6 1280.3L620.4 1266.4 620.7 1253.1 620.5 1240.3 619.7 1227.5"/><path id="b2" d="M384.3 1249.7L382.2 1224.2 378.7 1172.1 377 1151.1 374.9 1129.7 372.4 1111.5 370.7 1102 368.8 1093.4 366.8 1085.7 364.4 1078 361.9 1071.2 359.3 1065.4 356.2 1059.7 352.6 1054 348.4 1048.6 343.3 1043.3 338.3 1039 332.4 1034.9 325.6 1031.1 319.1 1028.2 311.9 1025.6 303.8 1023.3 294.9 1021.4 285.3 1019.9 275.1 1018.9 264.6 1018.4 254 1018.5 243.5 1019 233.5 1020 222.4 1021.9 215.6 1023.4 207.8 1025.7 200.9 1028.3 194.7 1031.1 189.3 1034.1 184.6 1037.3 179.7 1041.4 175.5 1045.6 172 1049.9 168.5 1055.1 165.7 1060.4 163.1 1066.6 161 1072.8 159.3 1079.8 158 1086.9 157 1094.7 156.3 1104.1 156.2 1113.4 156.4 1124.1 157.1 1134.7 158.3 1145.9 159.8 1157.6 161.8 1169.7 164.3 1182.3 167.2 1195.3 170.4 1207.9 173.9 1220.8 177.8 1233.3 182.2 1246.8 186.8 1259.8 191.8 1273 197.2 1286.5M646 1279.9L641.8 1276.1 637.7 1273.1 633.6 1270.7 629.3 1268.7 624.9 1267.3 620.5 1266.5 616 1266.2 611.4 1266.5 606.9 1267.3 602.3 1268.6 597.8 1270.4 593 1272.9 588.2 1276 583.5 1279.5 578.6 1283.7 573.7 1288.4M386.2 1268.4L383.8 1243.9M520.7 1288.1L571.1 1179.6 584.2 1150.2 606.5 1099.2 613.9 1082.9 619 1072 623.4 1063.2 627.8 1055.1 631.7 1048.4 638.1 1038.6 644.6 1030.4 651 1023.6 654.3 1020.6 657.9 1017.7 662 1014.8 665.5 1012.6 673.6 1008.3 678.3 1006.3 683.8 1004.2 694.6 1001M67.1 1000.4L69.7 999.8M72.4 999.3h0M75.3 998.7h0M78.3 998.1h0M81.5 997.6h0M84.8 997.1h0M88.3 996.6h0M92 996.1h0M95.8 995.7h0M99.8 995.2h0M104 994.8h0M108.4 994.5h0M113 994.1h0M117.7 993.8h0M122.6 993.6h0M127.6 993.3h0M132.7 993.1h0M138 993h0M143.3 992.9h0M148.8 992.8h0M154.2 992.8h0M159.7 992.8h0M165.1 992.9h0M170.5 993h0M175.7 993.1h0M180.9 993.3h0M186 993.5h0M190.9 993.8h0M195.7 994.1h0M200.3 994.4h0M204.7 994.8h0M209 995.2h0M213.1 995.6h0M217 996.1h0M220.7 996.6h0M224.2 997.1h0M227.6 997.6h0M230.8 998.2h0M233.9 998.7h0M236.8 999.3h0M239.6 999.9h0M242.2 1000.5L249.4 1002.5 255.7 1004.5 261.1 1006.6 265.9 1008.8 270.1 1011 275.1 1014 279.4 1017.1 284 1021 288.1 1025 291.6 1029.1 295.3 1034 298.6 1038.9 302 1044.7 305 1050.6 308 1057.3 310.8 1064 313.9 1072.5 316.9 1081.8 319.9 1092 322.9 1103 325.7 1114.8 328.3 1126.6 333.3 1153.2 337.8 1181.7 341.4 1210.3 344 1238.7 345 1252.9 345.6 1266M647 1279.8L642.3 1272.9 637.2 1266.7 631.8 1261.5 628.9 1259.2 626 1257.2 623 1255.5 620 1254 616.9 1252.8 614.1 1252 611.2 1251.4 608 1251 604.7 1250.9 601.5 1251 595.3 1252 592 1252.9 588.8 1254.1 582.3 1257.2 575.6 1261.5 569.1 1266.7 562.7 1272.7 555.9 1280.1 549 1288.5M373.4 1266.6L369.5 1241.9 360.3 1176.5 357.2 1157.8 353.9 1141.3 351.8 1132.3 349.6 1124.1 347.4 1116.7 345 1109.4 342.5 1103 339.7 1096.6 336.6 1090.4 333.5 1085.1 329.6 1079.1 325.7 1074.1 321.4 1069.3 317.2 1065.3 311.9 1061 306.8 1057.5 301.2 1054.3 295.2 1051.4 288.7 1048.8 281.7 1046.6 274.3 1044.9 267.8 1043.7 259.8 1042.8 253.1 1042.5 244.9 1042.5 236.9 1043 229.1 1044 221.6 1045.4 214.6 1047.3 208 1049.6 202 1052.2 196.4 1055.1 191.4 1058.3 186.2 1062.3 181.6 1066.6 177.5 1071.1 173.5 1076.5 170.1 1082.1 167.2 1087.8 164.5 1094.3 162.3 1101 160.3 1108.5 158.7 1116.7 157.4 1125.8 156.6 1134.8 156.2 1144.6 156.2 1155 156.6 1165.3 157.4 1176.2 158.6 1187.6 160.2 1199.5 162.1 1211.2 164.5 1223.2 167.2 1235.6 170.3 1247.7 173.7 1260.1 177.6 1272.7 181.7 1285M349.3 1230.7L350.2 1248.9 350.7 1265.7M527.9 1288.1L558.8 1221.3 568.8 1198.8 578 1177.4 586.9 1155.7 595.7 1133.1 623.5 1058.4 629.6 1043.6 635.3 1031.8 639.7 1023.8 644 1017.4 648.5 1011.8 653.3 1007 658.4 1003 662.1 1000.7 665 999.1 672 996 678.7 993.7M681.3 993h0M684.2 992.3h0M687.3 991.6h0M690.7 990.9h0M694.5 990.2h0M68.7 989.5h0M73.3 988.9h0M78.4 988.2h0M84.1 987.6h0M90.4 987.1h0M97.4 986.6h0M105.1 986.1h0M113.6 985.7h0M122.9 985.4h0M132.9 985.1h0M143.4 984.9h0M154.3 984.8h0M165.4 984.8h0M176.4 984.9h0M187.1 985.1h0M197.2 985.3h0M206.6 985.6h0M215.3 986h0M223.2 986.5h0M230.4 987h0M236.9 987.6h0M242.7 988.2h0M247.9 988.8h0M252.6 989.4h0M256.9 990.1h0M260.7 990.8h0M264.2 991.5h0M267.4 992.3h0M270.3 993h0M273 993.8L277.7 995.3 281.7 996.9 285.2 998.5 289.6 1000.9 293.3 1003.3 296.5 1005.8 299.2 1008.3 302.4 1011.7 305.1 1015.1 307.4 1018.5 310 1022.7 312.3 1027 314.7 1032.2 316.8 1037.4 321.1 1049.5 325.7 1066 330.2 1085.1 334.6 1107.6 338.7 1132.5 342.4 1158.6 345.5 1185.7 348 1212 349.6 1236.7M156.5 1015.6L154.5 1018.8 152.7 1023 151.3 1027.1 150.3 1031.2 149.4 1036.2 148.9 1041.1 148.6 1046.9 148.5 1052.6 148.8 1059.1 149.3 1066.3 151.1 1082.2 153.9 1099.2 157.9 1118 162.7 1137.6 168.2 1157.1 174.5 1177.2 181.3 1197.2 189 1217.5 197.5 1238.8 207.1 1260.9 218.2 1285.5M402 1272.1L401.5 1257.7 401.2 1242.1 401.1 1225.3 401.4 1207.2 402.4 1172.9 405.1 1105.7 405.6 1081.7 405.6 1070.1 405.3 1060.3 404.7 1051.3 403.8 1043.3 403 1038 402 1033.5 400.8 1029.1 399.6 1025.6 398.1 1022.1 396.3 1018.6 394.1 1015.2 392.1 1012.6 389.7 1010.1 386.9 1007.6 383.5 1005.2 380.9 1003.5 376.2 1001.2 372.5 999.6 368.2 998.2 363.2 996.7M360.5 996h0M357.5 995.3h0M354.3 994.7h0M350.8 994h0M347.1 993.4h0M343 992.8h0M338.7 992.3h0M334 991.8h0M329 991.3h0M323.6 990.8h0M317.9 990.4h0M311.8 990.1h0M305.5 989.8h0M298.8 989.5h0M292 989.3h0M284.9 989.2h0M277.8 989.2h0M270.6 989.2h0M263.5 989.2h0M256.5 989.4h0M249.7 989.6h0M243.1 989.8h0M236.9 990.1h0M231 990.5h0M225.4 990.9h0M220.1 991.4h0M215.2 991.8h0M210.7 992.4h0M206.4 992.9h0M202.5 993.5h0M198.8 994.1h0M195.5 994.7h0M192.3 995.4h0M189.4 996.1h0M186.7 996.7L179.8 998.9 174.2 1001.1 169.7 1003.4 164.9 1006.6 161.2 1009.8 157.7 1013.8 155 1017.9 153.1 1022M632.1 1279.9L631 1267 629.4 1254.9 627.3 1243.7 624.7 1232.7 621.6 1222.6 618 1213 613.9 1204.5 609.7 1197 604.5 1189.7 599.2 1183.6 596.1 1180.7 593.4 1178.4 587.5 1174.3 584 1172.4 580.8 1170.9 577.6 1169.7 574.3 1168.7 571 1168 567.6 1167.5 564.2 1167.3 560.8 1167.3 554.4 1168 548 1169.5 541.8 1171.8 535.2 1175.2 528.9 1179.3 522.8 1184.2 516.6 1190.2 510.7 1196.8 505.2 1203.9 500 1211.4 494.8 1219.7 489.2 1229.5 484.2 1238.8 478.9 1249.4 460.9 1287.5M317.6 1284.8L298.3 1238.7 293.2 1227.3 288.5 1217.1 283.1 1206.5 277.6 1196.8 272.4 1188.5 266.8 1180.6 260.8 1173.2 254.4 1166.5 248 1160.9 241.2 1156.1 234.1 1152.1 227.3 1149.3 223.5 1148.1 219.8 1147.3 212.7 1146.4 208.8 1146.3 205 1146.5 201.3 1147 197 1147.8 193.4 1148.9 189.8 1150.3 186.4 1151.9 182.5 1154 179.3 1156.1 175.7 1158.8 172.8 1161.4 169.5 1164.6 166.5 1168.1 163.6 1171.8 160.9 1175.7 158.3 1179.7 153.8 1188.4 149.7 1198.2 146.1 1209.1 143.3 1220.4 141 1232.6 139.2 1245.6 138.1 1259.4 137.7 1273.9"/><path id="c0" d="M363.7 646.5L370.1 648.1 376.5 650.2 382.7 652.6 388.9 655.3 394.9 658.4 400.7 661.9 406.4 665.6 412 669.7 417.3 674 422.9 679 427.8 683.9 433 689.5 437.5 694.9 442.1 701 446.5 707.3 450.7 713.8 454.3 720 457.9 726.8 461.1 733.3 464.2 740.4 467.1 747.5 469.8 754.8 474.9 770.5 478.8 785.2 482.3 801 485.3 816.4 490.8 847.5 493.1 859.4M197 785.1L199.3 775.9 202 766.6 204.8 758 207.7 750 210.8 742.1 214.3 734.3 218 726.7 222 719.2 226.3 712 230.6 705.5 235.2 699.2 240 693.1 245 687.3 250.3 681.8 255.8 676.6 261.6 671.7 267.5 667.2 273.7 663 280 659.2 286 656 292.7 652.9 299.4 650.3 306.3 648.1 312.8 646.4 319.8 645 326.4 644.2 333.6 643.7 340.2 643.6 346.8 643.9 353.9 644.7 360.9 645.9 367.9 647.5M312.4 734.8L317.8 723.5 323.8 712.5 330.2 702.5 337.2 693 344.7 684.1 352.4 676.2 361.1 668.7 369.8 662.2 378.8 656.6 388.3 651.7 398.1 647.8 408.1 644.7 418.3 642.6 423.7 641.8 428.6 641.4 438.4 641.2 443.3 641.4 448.8 641.9 458.6 643.4 468.7 646 478.7 649.5 488.4 653.8 497.8 659.1 506.8 665.1 515.5 672 523.6 679.5 531.3 687.7 538.8 697 545.7 706.8 552 717.2 557.6 728 562.9 739.7 567.8 752.3 572 765.1M280.3 866.9L282.2 858.8 284.1 848.9 292.4 802.4 294.8 790.6 297.3 779.8 301 766.2 305 753.8 309.4 742.1 314.4 730.5M322.4 877.8L325.8 865.6 328.8 851.3 331.2 837.3 337.7 795.4 340 782.2 342.4 770.6 345.5 757.9 348.7 746.4 352.4 734.9 356.4 724.3 361.9 711.6 367.9 700 374.5 688.9 381.5 679 389.2 669.7 393.4 665.1 397.4 661.1 402 657 406.2 653.4 410.6 650.1 415.1 647 420.7 643.5 425.9 640.6 431.7 637.8 437.1 635.6 443.1 633.5 448.8 631.8 454.4 630.5 460.2 629.5 466.5 628.8 472.3 628.5 478.2 628.5 484 628.9 490.4 629.6 496.2 630.6 502.1 631.9 507.8 633.6 513.5 635.6 519.2 637.9 524.8 640.5 530.8 643.6 536.1 646.8 541.4 650.3 546.6 654.1 552 658.6 556.9 662.9 562 667.9 566.6 672.7 571.4 678.3 575.6 683.6 580 689.6 583.8 695.3 587.8 701.7M197.9 584L206.4 582.2 214.8 581.1 223 580.7 231.1 581.1 239 582.1 247.1 583.9 254.4 586.3 262 589.6 268.8 593.3 275.6 597.9 282.1 603.1 288.1 608.9 293.8 615.3 299.3 622.6 304.1 630.1 308.8 638.5 311.8 644.9 314.9 652 317.6 659.4 320.1 667 322.3 674.8 324.4 683.3 326.3 692 327.9 700.9 330.3 718.9 332.2 739 333.4 759.7 335.5 808.4 336.4 822.1 337.5 833.8 339.5 847.4 341.9 859.5 345.1 870.7 348.9 881.1M588.4 693.3L583.2 681.3 576.9 668.3 569.9 655 561.8 640.8 554.1 628 545.2 613.7 515 567.4 503.8 549.8 493.2 532.2 484.4 516.4M411.1 878L414.5 868.1 417.2 857.9 419.4 846.3 421.2 833.2 422.3 822.1 423.2 809.5 425.5 762.1 426.8 742.1 428.7 722 431.3 704 433 694.5 434.9 685.8 437.1 677.3 439.3 669.5 441.9 661.9 444.7 654.5 447.7 647.3 451.1 640.5 455.8 632.1 460.7 624.6 466.3 617.3 472 610.9 478.2 605.1 484.7 599.9 491.6 595.4 498.4 591.7 506 588.5 513.4 586.1 521.5 584.3 529.4 583.3 537.5 583 545.8 583.4 554.1 584.5 562.6 586.4M282.5 507.2L273.1 524.2 261.1 543.7 249.1 562 216.4 610.8 207.3 625 199 638.3 190.8 652.4 183.6 665.7 177.2 678.6 171.6 691.3M242.8 842L247.8 813.8 251.6 795.5 256 778 258.5 769.6 261 761.7 263.8 753.9 266.9 746.1 270.2 738.5 273.6 731.5 277.2 724.7 281.1 718 285.2 711.4 289.6 705.1 294.3 699 299.2 693.1 304.3 687.5 309.7 682.2 315.4 677.2 320.8 672.9 326.8 668.5 332.6 664.8 339 661.1 345.1 658.1 351.8 655.2 358.2 652.8 365.1 650.7 371.6 649.2 378.2 648 384.9 647.2 392.1 646.8 398.7 646.8 405.4 647.2 412.6 648 419.1 649.2 426.2 650.9 432.6 652.9 439.5 655.4 445.7 658.1 452.3 661.4 458.7 665.1 464.9 669.2 470.9 673.6 476.8 678.4 482.3 683.5 487.7 688.9 492.8 694.5 497.7 700.5 502.3 706.6 506.6 713 510.7 719.6 514.8 726.9 518.6 734.4 522.1 742 525.4 749.7 528.5 758.1 531.4 766.6 534 775.1 536.4 784.2 538.6 793.3 543 814.6M182.5 618.2L191.6 613 200.9 608.6 210.3 605.2 215.1 603.8 220.3 602.5 229.7 600.9 234.4 600.4 239.6 600.2 248.8 600.4 253.3 600.8 258.3 601.6 262.7 602.5 267.5 603.7 271.8 605 276.5 606.8 285.1 610.7 293.4 615.6 301.2 621.2 308.6 627.6 315.5 634.8 322.2 643.1 327.2 650.2 332.1 658.3 336.4 666.2 340.5 675 344.2 684.1 347.7 694.1 350.8 704.4 353.6 714.9 355.7 724.3 357.6 734.4 359.3 744.6 360.9 756 363.2 776.9 367.4 823.1 368.6 834.1 370 843.8 371.8 854.3 374 863.9 376.4 872.8 379.2 880.9M582 631.9L575.2 622.2 567.7 612.1 559.6 601.7 550.9 591 534.6 571.6 501.9 534.1 488.6 518.6M198 787.2L200.3 778 202.9 768.7 205.7 760.1 208.7 751.5 212 743 215.4 735.3 219.1 727.6 222.8 720.7 227.1 713.4 231.3 706.9 235.8 700.5 240.6 694.4 245.6 688.6 250.8 683 256.3 677.8 261.6 673.2 267.5 668.6 273.6 664.3 279.9 660.4 285.8 657.1 292.5 653.9 298.7 651.4 305.5 649 312 647.2 319 645.7 325.6 644.7 332.7 644 339.3 643.8 345.9 644 353 644.6 359.6 645.6 366.6 647 372.5 648.6 378.9 650.7 385.1 653.2 391.2 656 397.2 659.1 403 662.6 408.7 666.4 414.2 670.4 419.6 674.8 424.7 679.5 429.7 684.4 434.8 690 439.3 695.4 443.9 701.5 448.3 707.8 452.5 714.3 456.1 720.5 459.4 726.8 462.6 733.2 465.8 740.3 468.7 747.5 471.4 754.7 474.1 762.6 476.5 770.5 480.4 785.2 484.1 801.5 486.9 816.4 492.3 847 494.6 858.4M208.4 804.3L210.5 794.1 212.8 784.4 215.2 775.2 217.8 766.6 220.6 758.1 223.8 749.7 227 741.9 230.5 734.2 234.3 726.7 238 719.9 242.4 712.7 246.7 706.3 251.3 700.1 256.1 694.1 261.2 688.4 266.6 682.9 272.1 677.8 277.9 673 283.9 668.5 289.6 664.7 296 661 302.5 657.6 309.2 654.6 315.5 652.2 322.5 650.1 329.5 648.3 336.6 647 343.2 646.2 350.4 645.8 357.1 645.8 363.7 646.1 370.8 647 377.4 648.2 383.9 649.7 390.3 651.6 397.2 654.1 403.4 656.8 409.4 659.8 415.4 663.1 421.6 667.1 427.2 671.1 433.1 675.8 438.3 680.4 443.7 685.6 448.5 690.8 453.5 696.6 458.2 702.6 462.6 708.9 466.5 714.9 470.4 721.5 474.1 728.3 477.6 735.3 480.7 742.3 483.9 750.1 486.8 757.9 489.4 765.7 494 781.5 498.2 798.9 501.6 816 507.5 849.2M284.8 869L286.8 860.5 288.9 850.1 295.2 813.6 297.9 799.2 300.6 786.2 303.6 774.3 307.8 759.5 312.7 745.5 317.9 732.8 323.9 720.4 327.6 713.6 331.2 707.5 335.1 701.5 339.2 695.7 343.5 690.2 348 684.8 352.7 679.7 357.3 675.2 362.4 670.6 367.2 666.6 372.6 662.5 377.8 659 383.6 655.5 389 652.6 395 649.8 400.6 647.5 407.4 645.1 413.7 643.4 420.1 642 426.6 641 433.7 640.3 440.2 640.1 446.8 640.3 453.3 640.8 459.8 641.7 466.3 643.1 472.7 644.8 479.5 647 485.7 649.5 491.8 652.3 497.8 655.4 504.2 659.2 509.9 663.1 515.4 667.2 520.7 671.7 526.3 676.8 531.3 681.9 536.4 687.6 541.4 693.6 546 699.9 550.4 706.4 554.6 713.1 558.5 720.1 562.1 727.2 565.5 734.4 568.8 742.3 571.9 750.4 574.7 758.6M241.4 840.6L246.3 813.4 250.2 794.5 254.6 777 257.2 768.6 259.7 760.7 262.6 752.9 265.7 745.2 269.1 737.5 272.5 730.6 276.1 723.8 280 717.1 284.2 710.6 288.6 704.3 293.3 698.2 298.3 692.4 303.5 686.8 308.9 681.6 314.6 676.6 320 672.3 326.1 668 331.9 664.3 338.3 660.7 344.5 657.7 351.2 654.9 357.6 652.6 364.5 650.6 371.1 649.1 377.7 648 384.3 647.2 391.5 646.8 398.2 646.9 404.8 647.4 412 648.3 418.6 649.5 425.6 651.3 432 653.3 438.9 655.9 445.1 658.6 451.6 662 458 665.7 464.2 669.9 470.2 674.3 476 679.2 481.6 684.3 486.9 689.7 491.9 695.4 496.8 701.4 501.3 707.6 505.6 714 509.7 720.7 513.7 728 517.5 735.5 521 743.1 524.2 750.8 527.3 759.2 530.1 767.7 532.7 776.2 535.1 785.3 537.4 794.9 541.7 816.2M588.2 696.3L582.8 683.6 576.7 670.6 569.8 657.3 561.8 643 554.2 630.2 545.7 616.4 515.2 568.7 503.8 550.6 493.1 532.4 484.3 516.1M198.9 582.5L207.3 580.8 215.7 579.9 223.9 579.6 231.9 580.1 239.7 581.3 247.3 583.2 254.6 585.7 262.1 589 268.8 592.8 275.6 597.5 282 602.8 288 608.7 293.5 615.1 298.7 622.1 303.4 629.6 308 638.1 311 644.5 314 651.6 316.5 658.5 318.9 666.1 321.1 673.9 323.1 681.9 324.9 690.6 326.5 699.4 329 718 330.8 738.1 331.9 758.3 333.8 807.6 334.7 821.4 335.8 833.1 337.7 846.7 340.3 859.4 343.4 870.6 347.2 881M192.8 777.1L195.2 768.3 197.9 759.6 200.9 751 204 743 207.4 735.2 210.8 728 214.7 720.5 218.7 713.7 222.8 707 227.3 700.6 232 694.5 236.9 688.5 242.1 682.9 247.6 677.5 253.2 672.5 258.6 668.2 264.7 663.8 270.5 660.1 276.9 656.5 282.9 653.4 289.6 650.6 295.9 648.3 302.8 646.2 309.3 644.7 316.4 643.5 322.9 642.8 329.5 642.5 336.1 642.5 342.6 642.9 349.7 643.8 356.2 645.1 363.2 646.8 369 648.6 375.2 651 381.3 653.7 387.4 656.7 392.7 659.8 398.5 663.4 404 667.4 409.4 671.7 414.6 676.2 419.6 681 424.4 686.1 429.4 691.9 433.7 697.4 438.2 703.6 442.1 709.6 446.1 716.2 449.6 722.5 452.8 728.8 458.7 741.9 464.1 756.4 468.8 771.6 472.5 785.8 475.8 801 478.7 815.9 484.2 847.6 487 861.4M443.7 803.9L450.6 846 452.6 856.6 454.5 865.3M176.7 732.2L182.7 719.1 186.2 712.5 189.6 706.6 193.2 700.8 197 695.2 200.9 689.8 205.1 684.5 209.4 679.5 213.8 674.7 218.5 670.1 222.8 666.1 227.7 662 232.8 658.1 238 654.5 242.8 651.5 248.2 648.4 253.8 645.6 259.4 643.1 264.5 641.1 270.3 639.2 275.6 637.8 281.4 636.5 286.8 635.6 292.2 634.9 298.1 634.5 303.5 634.5 309.4 634.7 314.7 635.2 320.6 636 326.4 637.2 332.1 638.7 337.3 640.3 342.4 642.1 347.4 644.3 352.8 646.9 357.6 649.5 362.8 652.7 367.4 655.8 372.4 659.4 376.7 663 381.4 667.1 385.5 671.1 389.9 675.6 394.1 680.4 398.1 685.4 401.9 690.5 405.6 695.8 412.4 706.9 418.4 718.5 424 731.1 429.1 744.5 433.6 758.8 437.5 773.7 441 789.7 444.4 808.3M378.6 721.3L381.4 730.5 383.8 739.9 386.1 749.9 388.3 760.5 390.3 772.3 392.2 784.6 397.8 829.3 400.4 846.3 402 855.6 403.8 863.6 405.8 871.3 408 878.4M542.9 559.3L528 545.8M173.5 657.7L180 651.1 186.4 645.4 193.4 639.9 200.6 634.8 208 630.3 215.6 626.4 223.3 623.1 231 620.3 238.9 618.2 246.8 616.7 254.6 615.8 262.5 615.5 270.2 615.8 277.9 616.7 285.5 618.2 293.4 620.5 300.7 623.2 307.7 626.4 314.5 630.2 321.1 634.6 327.5 639.4 333.9 645.1 339.7 650.9 345.5 657.5 351 664.6 356.1 672.1 360.9 680 365.2 688.2 369.3 696.7 373.2 706 376.7 715.5 380 725.8M236.1 541.5L240.4 544 244.9 547.1 249.1 550.5 253.1 554.1 256.9 558.1 260.4 562.3 263.6 566.8 266.6 571.5 269.4 576.5 272 581.7 274.2 587.1 276.5 593.2 278.3 599 280 605.5 281.4 612.2 282.7 619.2 284.2 631.2 285.1 644.3 285.5 658.4 285.2 673.4 284.5 687.5 283.4 702.9 278.5 754.4 277.1 772.8 276.1 791.6 276 807.7 276.3 817.1 277 825.9 277.9 833.9 279.2 842 280.9 849.9 282.8 857.1 285 864.3 287.5 870.8M556 796.3L555.9 788.6 555.6 780.2 554.8 771.8 553.8 763.5 552.4 754.6 550.8 745.7 548.7 736.2 546.3 726.8 541.8 710.5 535.9 691.9 530.1 674.6 515.4 632.8 508.8 612.7 503.1 593.6 498.8 576.8 495.8 561.6 494.7 554.2 494 547.5 493.5 540.9 493.2 534.4 493.3 528.1 493.6 521.9M224 679.4L217.8 696.7 212.8 712.2 208.6 726.7 205.3 739.9 202.7 752.7 200.8 765.6 199.6 777.9 199.1 789.7M470.5 861.6L472.1 856.2 473.6 850.1 474.8 843.9 476 837.2 477.5 823.4 478.3 808.2 478.3 793.4 477.7 777.1 476.6 760.1 473 710.5 472.2 695.1 471.8 681 471.9 665.3 472.5 651.2 473.7 638 475.6 625.4 477.2 617.9 478.8 611.2 480.9 604.2 483.1 598 485.5 591.9 488.2 586.2 491.2 580.7 494.2 575.8 497.8 570.9 501.3 566.5 505.4 562.2 509.4 558.4 514 554.7 518.5 551.6 523.2 548.8 528.2 546.4M270.3 514.3L270.4 520.9 270.2 528.2 269.6 535.2 268.6 542.8 267.3 550.6 265.7 558.6 263.7 567.2 261.3 576 256.3 592.3 249.7 611.4 222.2 684.2M498.3 571.4L495.6 557.9 493.7 544.9 492.8 532.8 492.6 526.9 492.8 521.2M234.8 543.2L239.2 545.6 243.8 548.5 248.2 551.8 252.3 555.3 256.2 559.1 259.8 563.2 263.2 567.6 266.7 572.6 269.6 577.5 272.4 583 274.8 588.4 277.2 594.4 279.3 600.7 281.1 607.2 282.6 613.9 283.9 620.8 285.7 633.4 286.8 646.5 287.3 660.6 287.1 676.2 286.6 690.3 285.6 705.7 281.2 757.2 279.9 775.5 279.1 794.2 279.1 810.3 279.5 819.1 280.2 827.8 281.2 835.8 282.5 843.8 284.2 851.6 286.2 858.9 288.5 866 291 872.4M558.7 791.6L558.6 783.8 558.1 776.1 557.2 767.7 556.1 759.4 554.7 751.1 552.9 742.2 550.7 732.7 548.2 723.3 543.4 707 537.3 688.4 531.3 671.2 515.9 628.8 508.5 607.1 505 596.1 502 585.9 499.5 576.4 497.4 567.1M274.8 511.6L273.9 518 272.7 524.5 269.4 538.3 265 553.1 259.3 568.8 253.8 582.7 247.3 598 223.6 650.3 215.1 669.7 207.6 688.1 201.4 704.9 196.3 720.6 192.1 736 189 750.9 186.9 764.8M454.3 865.4L457.2 855.2 459.5 844.3 461.1 832.5 462.3 819.4 462.8 806.1 462.9 790.7 462.5 773.8 460.8 722.2 460.7 705.5 461 690.3 461.9 673.4 463.5 658.2 465.8 644.1 467.4 637 469 630.6 471.3 622.9 473.9 615.4 476.8 608.2 479.9 601.8 483.3 595.8 487 590 491 584.6 495.3 579.6 499.9 574.9 504.8 570.6 510 566.8 515.1 563.6 520.9 560.6 526.5 558.2 532.4 556.3 538.4 554.7"/><path id="c1" d="M188.7 602.6L197.7 599 206.6 596.1 215.6 594 224.9 592.8 233.7 592.4 242.8 592.8 251.7 594.1 260.3 596.3 268.7 599.3 276.7 603.1 284.3 607.7 291.5 613 298.3 619 305.1 626.1 311 633.4 316.8 641.7 321 648.7 324.8 656.1 328.4 663.7 331.8 672.2 334.9 681 337.7 690 340.3 699.7 342.5 709.7 344.3 719.2 345.9 728.8 348.6 749.9 350.4 770.4 353.8 817.2 355 829.5 356.2 839.8 358.1 851.5 360.5 862.4 363.2 872.4 366.5 881.5M587.1 658.4L580.8 647.6 573.5 635.9 565.4 623.8 556.8 611.4 539.7 588.4 501.3 538.4 485.6 517M381.1 880.8L383.9 872.7 386.3 863.9 388.4 854.7 390.2 844.3 391.6 834.6 392.9 823.6 397.1 778.1 399.5 757.2 401.1 745.8 402.9 735 404.9 724.9 407 715.5 409.7 705 412.9 694.8 416.5 684.8 420.2 675.7 424.4 666.9 428.7 658.9 433.6 650.9 438.7 643.8 445.5 635.5 452.4 628.4 459.8 622 467.7 616.4 476 611.6 484.6 607.6 489.3 605.9 493.6 604.6 502.4 602.6 507.4 601.8 511.9 601.4 521.1 601.1 526.3 601.4 531 601.8 540.4 603.4 545.6 604.7 550.3 606.1 559.7 609.5 569 613.8 578.2 619M282.9 506.9L268 524.5 228.6 569 210.8 589.8 201.6 601.1 193 612 185.1 622.6 178.2 632.3M173.9 717.4L177.4 710.7 181.1 704.1 185 697.8 189.2 691.6 193.6 685.7 198.2 679.9 202.9 674.5 207.5 669.7 212.7 664.8 217.5 660.5 223 656.2 228.2 652.5 234 648.7 239.4 645.6 245.4 642.6 251 640 257.2 637.7 262.9 635.8 269.2 634.1 275.1 633 281 632.1 287.4 631.5 293.3 631.3 299.7 631.5 305.5 632 311.8 632.9 317.6 634 323.8 635.7 329.4 637.5 335.4 639.8 341.3 642.5 347.1 645.5 351.8 648.3 356.9 651.6 361.8 655.2 366.6 659 370.8 662.8 375.3 667.1 379.6 671.6 383.8 676.3 387.8 681.3 391.6 686.4 398.7 697.1 405.4 709 411.3 721.4 416.1 733.1 420.2 744.9 424.2 758.1 427.7 772 430.2 784.1 432.8 797.7 441.1 849.2 443.2 859.7 445.4 868.8M332 879L334 872.6 335.8 865.9 339 850.5 341.5 835.4 347.8 792.6 350.1 779.3 352.4 767.7 355.2 755.5 358.1 744.4 361.3 734.1 364.9 723.9 369.8 711.7 375.2 700.4 381.2 689.6 387.8 679.3 394.7 670.2 402.1 661.7 410.1 653.9 418.6 646.9 423.9 643.2 428.9 640 434 637.1 439.3 634.5 444.6 632.2 450.1 630.2 455.6 628.5 461.2 627.1 466.9 626 472.6 625.3 478.4 624.8 484.2 624.7 490 625 495.8 625.5 501.6 626.4 507.4 627.6 513.2 629.1 519 631 524.6 633.1 530.2 635.6 535.8 638.4 541.2 641.5 546.6 644.8 551.8 648.5 556.9 652.4 561.9 656.7 566.7 661.1 571.4 665.8 575.9 670.8 580.3 676 584.5 681.4 588.5 687M563 587.2L551.5 575 538.3 561.7 523.5 547.3 503 527.7M175.6 644L184.5 636.5 189.3 633 194.2 629.7 199.1 626.6 204.2 623.8 209.2 621.3 214.4 619.1 224.2 615.5 229.5 614 234.7 612.8 239.9 611.9 245.2 611.2 250.4 610.8 255.6 610.7 260.7 610.8 265.8 611.3 270.9 612 275.9 612.9 280.9 614.1 285.7 615.6 290.5 617.3 295.7 619.5 300.3 621.8 304.8 624.3 309.2 627 313.9 630.2 318.1 633.4 322.1 636.8 326 640.5 330.2 644.7 336.7 652 342.7 660 348.2 668.5 353.4 677.4 358.3 687.3 362.7 697.6 366.6 708.2 370.2 719.6 372.9 729.5 375.4 740.1 377.7 751.4 379.7 763.3 382.8 785.7 388.1 831 390.9 849.6 392.5 857.8 394.3 865.8 396.3 873 398.4 879.6M261.5 561.5L265.7 568.2 269.6 575.8 272.8 583.4 275.6 591.9 278 600.9 279.8 610.2 281.3 620.4 282.2 631 282.7 641.3 282.8 652.4 282.6 664.3 281.9 677.1 279.8 702.3 274.8 748.9 273.1 766.8 271.8 785.6 271.4 801.9 271.5 811.4 272 820.8 272.8 829.6 274 837.6 275.5 845.6 277.4 853.6 279.5 860.8 282.1 868M551.7 802.7L551.8 795 551.7 786.6 551.2 778.3 550.4 770 549.2 761.1 547.8 752.3 545.9 742.8 543.8 733.4 539.4 716.5 533.9 697.8 528.2 679.9 514.3 637.8 507.8 617 502.5 597.9 498.4 580.5 496.9 572.2 495.6 564.2 494.8 556.8 494.2 549.5 493.9 542.5 493.9 535.6 494.3 528.8 494.9 522.8M238.6 539.3L241.9 541.6 245.5 544.3 249 547.2 252.2 550.3 255.3 553.6 258.2 557.1 261 560.7 263.5 564.6"/><path id="c2" d="M376.7 869L378.5 862.1 380.1 854.4 381.6 846.1 383 837.1 385 820.7 389.4 778 392.4 755.4 394.1 745.3 395.9 735.7 397.8 726.9 400 718.1 403.3 706.5 406.9 695.8 411 685.4 415.3 675.9 420.1 666.8 425 658.6 430.6 650.4 436.4 643.2 443.7 635.4 451.1 628.7 455.1 625.5 459.3 622.5 467.6 617.4 472.1 615.1 476.7 613 485.7 609.8 490.6 608.4 495 607.4 500 606.6 504.5 606 509.6 605.7 514.3 605.6 519.5 605.8 524.1 606.2 529.4 606.9 534.1 607.7 539.3 608.9 544 610.3 553.9 613.8 563.1 618.1 572.7 623.5 581.6 629.5M281.7 507.5L266.9 523.3 232.4 559.4 216 577 198.5 596.8 190.9 605.9 183.5 615.3M372.7 881.4L375.5 873.4 377.8 865.1M175.3 724.5L178.9 717.1 182.4 710.5 186.2 704 190.1 697.7 194.3 691.7 198.7 685.8 203.4 680.2 208.2 674.8 213.2 669.7 218.4 664.9 223.8 660.4 228.8 656.5 234.5 652.6 239.8 649.3 245.8 646 251.3 643.3 257.5 640.7 263.7 638.4 270 636.6 275.9 635.2 282.3 634.1 288.2 633.4 294.1 633 300.5 633 306.4 633.3 312.8 634 318.6 634.9 324.9 636.4 330.5 638 336.6 640.1 342.6 642.6 348.5 645.5 353.3 648.1 358.5 651.3 363.5 654.7 368.4 658.4 373.2 662.4 377.8 666.5 382.2 671 386.5 675.6 390.6 680.4 394.5 685.5 398.3 690.7 402.2 696.5 405.6 702.1 409.1 708.3 415.2 720.6 420.1 732.1 424.6 744.5 428.7 757.7 432.4 772 434.8 783 437.1 794.4 439.5 808.4 445.7 846.6 447.8 857.7 450 867.3M283.6 506.5L274.3 520.2 263.6 535.1 220.6 592.1 203 616.4 194.1 629.4 185.8 642.2 178.7 654.1 172.3 665.6M397.7 879.7L400.9 870.4 403.5 860.9 405.6 850.5 407.5 838.8 408.7 828.4 409.9 816 413.1 769.8 414.9 749.3 417.4 728.7 418.9 719.1 420.6 710.2 422.7 700.2 425.1 691 427.7 681.9 430.7 673.1 434.1 664.6 437.5 656.9 441.3 649.5 445.4 642.4 451 633.9 456.8 626.5 463.1 619.7 469.8 613.5 476.9 608 484.4 603.2 492.3 599.2 500.1 596.2 508.6 593.8 516.9 592.2 525.4 591.5 534.1 591.5 542.9 592.3 551.8 594 560.8 596.5 569.7 599.7M435.7 847.3L438.2 859.8 440.7 870.4M173 709.6L176.7 703 180.4 697.1 184.5 690.9 188.5 685.4 193 679.6 197.4 674.5 201.9 669.7 206.6 665 211.4 660.7 216.4 656.5 221.5 652.7 226.7 649.1 232.1 645.8 237.5 642.8 243.1 640.1 248.7 637.6 254.4 635.5 260.1 633.8 265.9 632.3 271.8 631.1 277.6 630.3 283.5 629.8 289.4 629.6 295.2 629.8 301 630.3 306.8 631 312.6 632.2 318.2 633.6 323.8 635.3 329.4 637.4 334.8 639.7 340.6 642.6 345.3 645.3 350.4 648.5 354.9 651.7 359.7 655.4 364 659 368.5 663.2 372.5 667.2 376.7 671.8 380.8 676.6 384.7 681.7 388.4 686.9 391.9 692.2 398.5 703.4 404.6 715.7 409.8 727.8 414.2 740.2 418.3 753.4 422 767.8 424.8 780.5 427.4 794.9 434.2 837.8 436.5 851.3M401.2 669.2L405.8 663.4 410.6 658 415.6 652.8 420.8 648 426.2 643.5 431.4 639.7 437.3 635.9 442.8 632.8 448.9 629.8 454.7 627.3 461.1 625.1 467.2 623.5 473.8 622.1 480 621.3 486.2 620.8 492.5 620.7 499.3 621 505.7 621.7 512.5 623 518.8 624.5 525.6 626.6 531.8 628.9 537.9 631.6 543.9 634.7 549.9 638.1 555.7 641.9 561.4 646 567.4 650.9 572.8 655.7 578 660.8 583 666.2 588.2 672.4M341.7 880.2L343.6 874.2 345.5 867.5 348.6 853.2 351.4 836.5 357 796 360.1 776.3 362.1 765.2 364.3 755.2 366.5 745.9 369.1 736.6 372.3 726.2 375.9 716 379.8 706.6 384 697.5 388.6 688.6 393.4 680.6 398.5 673 403.9 665.7M258.1 522.9L261.1 529.8 263.6 537.2 265.5 544.9 267 553.4 267.9 562.2 268.3 571.4 268.2 581.5 267.6 591.8 266.6 601.8 265.2 612.1 263.4 623.2 261.1 635 255.7 659.2 244.2 705.5 239.8 724.2 235.7 744.2 232.8 761.6 231.5 771.6 230.6 781.6 230.1 790.9 229.9 799.6 230.1 808.3 230.7 817 231.7 825 233.1 833.1M505.2 851.4L507.1 843.8 508.7 836.1 509.9 828.3 510.8 820 511.4 811.5 511.6 802.5 511.4 792.7 510.9 783 509.4 766.4 506.8 747.2 503.9 728.6 495.5 680.1 491.7 654.4 490.2 641.2 489.3 629.5 488.7 618 488.7 607.3 489.1 595.9 490.3 585 492.1 574.5 494.4 565 497.5 556 501.1 548 505.5 540.2 510.5 533.3"/></defs>
<use href="#ign" x="385" y="734.5" style="mix-blend-mode:multiply"/>
<path d="M169 685.5H593M381.5 473.5V897.5" stroke="#000" stroke-width="1.1"/>
<circle cx="381" cy="685.5" r="141.3" fill="none" stroke="#000" stroke-width="1.2"/>
<circle cx="381" cy="685.5" r="70.7" fill="none" stroke="#000" stroke-width="1.2"/>
<circle cx="381" cy="685.5" r="12.4" fill="none" stroke="#000" stroke-width="1.1"/>
<g clip-path="url(#kp)" fill="none" stroke-width="2.7" stroke-linecap="round" stroke-linejoin="round"><use href="#c0" stroke="url(#gr0)"/><use href="#c1" stroke="url(#gr1)"/><use href="#c2" stroke="url(#gr2)"/></g><g clip-path="url(#kp)" fill="none" stroke-width="2.7"><use href="#c0" stroke="url(#nr1)" stroke-dasharray="1.6 2.6 1 4.4 2.3 3.1 1.2 6.3 1.8 2.2" stroke-dashoffset="2"/><use href="#c0" stroke="url(#nr0)" stroke-dasharray="1.5 3.4 2.4 5.2 1.1 2.7 1.9 7.1 2.8 4.3" stroke-dashoffset="0"/><use href="#c1" stroke="url(#nr1)" stroke-dasharray="1.6 2.6 1 4.4 2.3 3.1 1.2 6.3 1.8 2.2" stroke-dashoffset="3"/><use href="#c1" stroke="url(#nr0)" stroke-dasharray="1.5 3.4 2.4 5.2 1.1 2.7 1.9 7.1 2.8 4.3" stroke-dashoffset="1"/><use href="#c2" stroke="url(#nr1)" stroke-dasharray="1.6 2.6 1 4.4 2.3 3.1 1.2 6.3 1.8 2.2" stroke-dashoffset="4"/><use href="#c2" stroke="url(#nr0)" stroke-dasharray="1.5 3.4 2.4 5.2 1.1 2.7 1.9 7.1 2.8 4.3" stroke-dashoffset="2"/></g><path d="M280.3 866.9h0M183.5 615.3h0M252.3 538.4h0M251.9 538.9h0M251.4 539.4h0M322.4 877.8h0M366.5 881.5h0M197.9 584h0M484.4 516.4h0M450 867.3h0M282.5 507.2h0M171.6 691.3h0M578.2 619h0M205.5 596.2h0M205.1 596.8h0M204.7 597.3h0M242.8 842h0M379.2 880.9h0M545.2 584.1h0M544.7 583.6h0M544.3 583.1h0M173.9 717.4h0M588.5 687h0M484.3 516.1h0M283.6 506.5h0M281.4 509.9h0M281 510.4h0M280.7 510.8h0M546.6 570h0M546.1 569.5h0M545.6 569h0M173 709.6h0M176.7 732.2h0M538.8 555.5h0M538.3 555.1h0M537.8 554.6h0M238.6 539.3h0M287.5 870.8h0M470.5 861.6h0M492.8 521.2h0M558.7 791.6h0M186.9 764.8h0M538.4 554.7h0M233.1 833.1h0" stroke="#000" stroke-width="2.4" stroke-linecap="square" fill="none"/>
<circle cx="381" cy="685.5" r="212" fill="none" stroke="#000" stroke-width="4.5"/>
<text x="384" y="464" font-size="21.5" text-anchor="middle" >Norte</text>
<text x="380" y="925.5" font-size="21.5" text-anchor="middle" >Sur</text>
<text x="158.3" y="687.5" font-size="22.4" text-anchor="end" >Oeste</text>
<text x="603.6" y="687.5" font-size="21.8" text-anchor="start" >Este</text>
<text x="386" y="537" font-size="21" text-anchor="start" >30</text>
<text x="386" y="607.7" font-size="21" text-anchor="start" >60</text>
<clipPath id="kq1"><rect x="0" y="187" width="1445" height="400"/></clipPath>
<g clip-path="url(#kq1)">
<path d="M736.0 363.1H738.2V371.0H746.9V363.1H749.1V355.2H751.3V347.4H760.1V355.2H762.2V347.4H775.4V339.5H777.6V355.2H781.9V347.4H786.3V355.2H788.5V347.4H795.1V339.5H797.2V347.4H803.8V339.5H806.0V347.4H823.5V339.5H830.1V331.6H834.4V339.5H838.8V347.4H843.2V339.5H862.9V331.6H865.1V339.5H867.2V331.6H882.6V323.7H886.9V307.9H893.5V339.5H902.2V347.4H913.2V355.2H919.8V363.1H924.1V355.2H926.3V363.1H932.9V355.2H937.2V347.4H939.4V355.2H941.6V363.1H946.0V371.0H950.4V363.1H952.6V371.0H959.1V363.1H961.3V371.0H965.7V363.1H970.1V355.2H972.2V363.1H974.4V355.2H985.4V363.1H991.9V371.0H998.5V363.1H1000.7V355.2H1002.9V363.1H1007.2V371.0H1009.4V355.2H1011.6V363.1H1018.2V371.0H1020.4V363.1H1022.6V371.0H1029.1V355.2H1031.3V363.1H1033.5V347.4H1035.7V355.2H1042.2V347.4H1044.4V355.2H1057.6V339.5H1059.8V347.4H1061.9V339.5H1064.1V347.4H1066.3V339.5H1075.1V347.4H1079.4V339.5H1081.6V347.4H1083.8V355.2H1090.4V363.1H1092.6V355.2H1094.8V363.1H1101.3V355.2H1110.1V363.1H1114.4V371.0H1116.6V363.1H1118.8V371.0H1121.0V378.9H1125.4V371.0H1127.6V386.8H1131.9V378.9H1134.1V386.8H1140.7V378.9H1142.9V371.0H1147.2V378.9H1149.4V386.8H1151.6V394.6H1153.8V386.8H1158.2V378.9H1160.4V371.0H1162.6V386.8H1164.8V371.0H1166.9V394.6H1169.1V386.8H1175.7V378.9H1177.9V371.0H1180.1V378.9H1182.2V371.0H1186.6V363.1H1188.8V355.2H1191.0V363.1H1199.8V355.2H1201.9V363.1H1210.7V355.2H1221.6V363.1H1230.4V355.2H1236.9V347.4H1243.5V355.2H1250.1V363.1H1252.2V347.4H1254.4V355.2H1263.2V339.5H1265.4V347.4H1269.8V339.5H1274.1V331.6H1276.3V339.5H1278.5V323.7H1280.7V331.6H1282.9V323.7H1287.2V315.8H1289.4V323.7H1291.6V315.8H1309.1V323.7H1311.3V315.8H1313.5V323.7H1315.7V331.6H1320.1V339.5H1322.2V347.4H1324.4V339.5H1326.6V355.2H1333.2V363.1H1337.6V355.2H1339.8V363.1H1341.9V355.2H1344.1V363.1H1346.3V355.2H1352.9V347.4H1357.2V339.5H1361.6V355.2H1366.0V363.1H1366.0V505.0H736.0Z" fill="#d9d9d9"/>
<use href="#ign" x="1054" y="404" style="mix-blend-mode:multiply"/>
<path d="M736.0 371.0H738.2V386.8H740.4V378.9H742.6V386.8H744.8V378.9H749.1V371.0H751.3V363.1H757.9V355.2H760.1V363.1H762.2V355.2H777.6V363.1H781.9V355.2H786.3V363.1H788.5V355.2H790.7V363.1H792.9V355.2H795.1V347.4H797.2V355.2H799.4V363.1H801.6V355.2H803.8V347.4H810.4V355.2H814.8V371.0H816.9V355.2H819.1V347.4H825.7V339.5H827.9V347.4H832.2V339.5H834.4V347.4H847.6V339.5H856.3V347.4H858.5V339.5H871.6V347.4H873.8V339.5H878.2V331.6H891.3V339.5H895.7V347.4H911.0V355.2H917.6V363.1H926.3V371.0H930.7V378.9H932.9V371.0H935.1V363.1H937.2V355.2H939.4V363.1H941.6V371.0H946.0V378.9H950.4V371.0H952.6V378.9H954.8V371.0H959.1V378.9H961.3V371.0H963.5V378.9H965.7V371.0H967.9V363.1H972.2V371.0H974.4V363.1H985.4V371.0H989.8V386.8H991.9V378.9H994.1V386.8H996.3V378.9H998.5V371.0H1007.2V378.9H1009.4V371.0H1011.6V378.9H1013.8V371.0H1018.2V378.9H1020.4V371.0H1022.6V378.9H1029.1V371.0H1033.5V363.1H1044.4V371.0H1046.6V363.1H1057.6V355.2H1061.9V347.4H1066.3V355.2H1068.5V347.4H1072.9V339.5H1075.1V347.4H1079.4V355.2H1086.0V363.1H1088.2V355.2H1090.4V363.1H1099.1V371.0H1101.3V363.1H1110.1V378.9H1112.2V363.1H1114.4V378.9H1121.0V386.8H1125.4V394.6H1127.6V386.8H1136.3V394.6H1138.5V386.8H1142.9V378.9H1147.2V386.8H1149.4V394.6H1153.8V402.5H1156.0V394.6H1160.4V386.8H1166.9V394.6H1173.5V386.8H1184.4V371.0H1186.6V378.9H1188.8V371.0H1193.2V363.1H1195.4V371.0H1197.6V363.1H1201.9V371.0H1204.1V363.1H1219.4V371.0H1221.6V363.1H1223.8V371.0H1226.0V363.1H1230.4V355.2H1232.6V363.1H1236.9V355.2H1239.1V363.1H1241.3V355.2H1243.5V371.0H1245.7V363.1H1250.1V378.9H1252.2V371.0H1256.6V363.1H1258.8V355.2H1263.2V347.4H1265.4V355.2H1267.6V347.4H1278.5V339.5H1282.9V331.6H1287.2V323.7H1296.0V315.8H1298.2V331.6H1300.4V315.8H1302.6V331.6H1304.8V323.7H1315.7V331.6H1317.9V339.5H1320.1V347.4H1322.2V363.1H1324.4V355.2H1328.8V363.1H1350.7V355.2H1355.1V347.4H1359.4V355.2H1366.0V371.0H1366.0" fill="none" stroke="#00ff00" stroke-width="3.2" stroke-linejoin="miter"/><path d="M736.0 355.2H749.1V347.4H753.5V339.5H755.7V347.4H757.9V339.5H760.1V347.4H762.2V339.5H764.4V323.7H766.6V347.4H768.8V339.5H771.0V331.6H775.4V347.4H779.8V339.5H784.1V347.4H786.3V339.5H792.9V347.4H797.2V339.5H799.4V347.4H801.6V339.5H806.0V347.4H810.4V355.2H814.8V371.0H816.9V347.4H825.7V339.5H827.9V347.4H832.2V339.5H834.4V347.4H847.6V339.5H856.3V347.4H858.5V339.5H871.6V347.4H873.8V339.5H878.2V331.6H891.3V339.5H897.9V347.4H911.0V355.2H917.6V363.1H926.3V371.0H930.7V378.9H932.9V371.0H935.1V363.1H937.2V355.2H939.4V363.1H941.6V371.0H946.0V378.9H950.4V363.1H952.6V378.9H954.8V371.0H963.5V378.9H965.7V371.0H967.9V363.1H970.1V347.4H976.6V355.2H978.8V347.4H987.6V355.2H991.9V347.4H994.1V355.2H1016.0V347.4H1018.2V355.2H1022.6V347.4H1024.8V355.2H1033.5V347.4H1037.9V355.2H1048.8V347.4H1051.0V355.2H1053.2V347.4H1057.6V355.2H1061.9V347.4H1066.3V355.2H1068.5V347.4H1070.7V339.5H1075.1V347.4H1079.4V355.2H1086.0V363.1H1088.2V355.2H1090.4V363.1H1092.6V355.2H1094.8V363.1H1099.1V371.0H1101.3V363.1H1105.7V355.2H1107.9V363.1H1110.1V378.9H1112.2V363.1H1114.4V378.9H1121.0V386.8H1125.4V394.6H1127.6V386.8H1136.3V394.6H1138.5V386.8H1142.9V378.9H1147.2V386.8H1149.4V394.6H1153.8V402.5H1156.0V394.6H1160.4V386.8H1164.8V378.9H1166.9V394.6H1173.5V386.8H1184.4V371.0H1186.6V378.9H1188.8V363.1H1191.0V371.0H1193.2V363.1H1195.4V371.0H1197.6V363.1H1199.8V355.2H1201.9V371.0H1204.1V363.1H1219.4V371.0H1221.6V363.1H1223.8V371.0H1226.0V363.1H1230.4V355.2H1232.6V363.1H1236.9V355.2H1239.1V363.1H1241.3V347.4H1243.5V371.0H1245.7V363.1H1250.1V378.9H1252.2V371.0H1256.6V363.1H1258.8V355.2H1263.2V347.4H1265.4V355.2H1267.6V347.4H1278.5V331.6H1280.7V339.5H1282.9V331.6H1287.2V323.7H1296.0V315.8H1298.2V331.6H1300.4V315.8H1302.6V331.6H1304.8V323.7H1315.7V331.6H1320.1V347.4H1322.2V363.1H1324.4V355.2H1328.8V363.1H1348.5V355.2H1355.1V347.4H1359.4V355.2H1366.0V371.0H1366.0" fill="none" stroke="#000" stroke-width="1.3"/>
<path d="M736 465H1366" stroke="#000" stroke-width="1" shape-rendering="crispEdges" transform="translate(0,.5)"/>
<path d="M736 465h6M1366 465h-6" stroke="#000" stroke-width="3" shape-rendering="crispEdges" transform="translate(0,.5)"/>
<path d="M736 426H1366" stroke="#000" stroke-width="1" shape-rendering="crispEdges" transform="translate(0,.5)"/>
<path d="M736 426h6M1366 426h-6" stroke="#000" stroke-width="3" shape-rendering="crispEdges" transform="translate(0,.5)"/>
<path d="M736 386H1366" stroke="#000" stroke-width="1" shape-rendering="crispEdges" transform="translate(0,.5)"/>
<path d="M736 386h6M1366 386h-6" stroke="#000" stroke-width="3" shape-rendering="crispEdges" transform="translate(0,.5)"/>
<path d="M736 347H1366" stroke="#000" stroke-width="1" shape-rendering="crispEdges" transform="translate(0,.5)"/>
<path d="M736 347h6M1366 347h-6" stroke="#000" stroke-width="3" shape-rendering="crispEdges" transform="translate(0,.5)"/>
<path d="M736 307H1366" stroke="#000" stroke-width="1" shape-rendering="crispEdges" transform="translate(0,.5)"/>
<path d="M736 307h6M1366 307h-6" stroke="#000" stroke-width="3" shape-rendering="crispEdges" transform="translate(0,.5)"/>
<path d="M736 268H1366" stroke="#000" stroke-width="1" shape-rendering="crispEdges" transform="translate(0,.5)"/>
<path d="M736 268h6M1366 268h-6" stroke="#000" stroke-width="3" shape-rendering="crispEdges" transform="translate(0,.5)"/>
<path d="M736 229H1366" stroke="#000" stroke-width="1" shape-rendering="crispEdges" transform="translate(0,.5)"/>
<path d="M736 229h6M1366 229h-6" stroke="#000" stroke-width="3" shape-rendering="crispEdges" transform="translate(0,.5)"/>
<path d="M814.8 189.7v6M814.8 505v-6M893.5 189.7v6M893.5 505v-6M972.2 189.7v6M972.2 505v-6M1051.0 189.7v6M1051.0 505v-6M1129.8 189.7v6M1129.8 505v-6M1208.5 189.7v6M1208.5 505v-6M1287.2 189.7v6M1287.2 505v-6M762.2 189.7v4M762.2 505v-4M788.5 189.7v4M788.5 505v-4M841.0 189.7v4M841.0 505v-4M867.2 189.7v4M867.2 505v-4M919.8 189.7v4M919.8 505v-4M946.0 189.7v4M946.0 505v-4M998.5 189.7v4M998.5 505v-4M1024.8 189.7v4M1024.8 505v-4M1077.2 189.7v4M1077.2 505v-4M1103.5 189.7v4M1103.5 505v-4M1156.0 189.7v4M1156.0 505v-4M1182.2 189.7v4M1182.2 505v-4M1234.8 189.7v4M1234.8 505v-4M1261.0 189.7v4M1261.0 505v-4M1313.5 189.7v4M1313.5 505v-4M1339.8 189.7v4M1339.8 505v-4" stroke="#000" stroke-width="1.6"/>
<rect x="736" y="189.7" width="630" height="315.3" fill="none" stroke="#000" stroke-width="4.4"/>
<text transform="translate(1397.5,511.9) scale(1,1.065)" font-size="21.3" text-anchor="end">0</text>
<text transform="translate(1397.5,472.48749999999995) scale(1,1.065)" font-size="21.3" text-anchor="end">5</text>
<text transform="translate(1397.5,433.075) scale(1,1.065)" font-size="21.3" text-anchor="end">10</text>
<text transform="translate(1397.5,393.66249999999997) scale(1,1.065)" font-size="21.3" text-anchor="end">15</text>
<text transform="translate(1397.5,354.25) scale(1,1.065)" font-size="21.3" text-anchor="end">20</text>
<text transform="translate(1397.5,314.8375) scale(1,1.065)" font-size="21.3" text-anchor="end">25</text>
<text transform="translate(1397.5,275.42499999999995) scale(1,1.065)" font-size="21.3" text-anchor="end">30</text>
<text transform="translate(1397.5,236.01250000000002) scale(1,1.065)" font-size="21.3" text-anchor="end">35</text>
<text transform="translate(1397.5,196.6) scale(1,1.065)" font-size="21.3" text-anchor="end">40</text>
</g>
<text transform="translate(736.0,528) scale(1,1.065)" font-size="21.3" text-anchor="middle">0</text>
<text transform="translate(814.75,528) scale(1,1.065)" font-size="21.3" text-anchor="middle">3</text>
<text transform="translate(893.5,528) scale(1,1.065)" font-size="21.3" text-anchor="middle">6</text>
<text transform="translate(972.25,528) scale(1,1.065)" font-size="21.3" text-anchor="middle">9</text>
<text transform="translate(1051.0,528) scale(1,1.065)" font-size="21.3" text-anchor="middle">12</text>
<text transform="translate(1129.75,528) scale(1,1.065)" font-size="21.3" text-anchor="middle">15</text>
<text transform="translate(1208.5,528) scale(1,1.065)" font-size="21.3" text-anchor="middle">18</text>
<text transform="translate(1287.25,528) scale(1,1.065)" font-size="21.3" text-anchor="middle">21</text>
<text transform="translate(1366.0,528) scale(1,1.065)" font-size="21.3" text-anchor="middle">24</text>
<text transform="translate(1427.5,342) rotate(-90) scale(1,1.1)" font-size="20.2" text-anchor="middle">Número de satélites</text>
<rect x="1188.6" y="203" width="13.2" height="12.7" fill="#d9d9d9"/><rect x="1188.6" y="219" width="13.2" height="12.4" fill="#000"/><rect x="1188.6" y="234" width="13.2" height="12.7" fill="#00ff00"/>
<text x="1206.2" y="211.8" font-size="14" text-anchor="start" >GPS predichos</text>
<text x="1206.2" y="227" font-size="14" text-anchor="start" >GPS observados L1</text>
<text x="1206.2" y="242.8" font-size="14" text-anchor="start" >GPS observados L1 y L2</text>
<use href="#ign" x="1054" y="738" style="mix-blend-mode:multiply"/>

<path d="M736 845H1366" stroke="#000" stroke-width="1" shape-rendering="crispEdges" transform="translate(0,.5)"/>
<path d="M736 793H1366" stroke="#000" stroke-width="1" shape-rendering="crispEdges" transform="translate(0,.5)"/>
<path d="M736 740H1366" stroke="#000" stroke-width="1" shape-rendering="crispEdges" transform="translate(0,.5)"/>
<path d="M736 688H1366" stroke="#000" stroke-width="1" shape-rendering="crispEdges" transform="translate(0,.5)"/>
<path d="M736 635H1366" stroke="#000" stroke-width="1" shape-rendering="crispEdges" transform="translate(0,.5)"/>
<g clip-path="url(#k2)" fill="none" stroke-width="2.7" stroke-linecap="round" stroke-linejoin="round"><path d="M822.2 773.4L822.6 773.2M834.4 769.9L834.9 769.8M835.8 769.7L836.6 769.5M837.1 769.4L837.5 769.3M1273 686.6L1274.3 686M1275.7 685.3L1276.1 685.1M1278.7 683.8L1279.2 683.5M1286.2 679.7L1286.6 679.5M1291.4 676.7L1291.8 676.4M1296.2 673.7L1296.7 673.5M870.8 800.6L871.2 800.4M872.1 799.9L872.9 799.5M1313.1 714.8L1313.5 714.7M881.7 838.6L882.1 838.4M882.6 838.2L883 838M883.9 837.6L884.3 837.4M884.8 837.1L885.2 836.9M886.5 836.3L886.9 836M887.8 835.6L888.7 835.2M889.6 834.7L890.4 834.3M891.3 833.8L891.8 833.6M892.2 833.4L893.1 832.9M1157.5 608.8L1158 609.1M1158.4 609.4L1158.8 609.7M1159.7 610.3L1160.6 610.9M1168 616.3L1168.5 616.7M1174.2 621.1L1174.6 621.4M1175 621.8L1175.9 622.5M1179.8 625.6L1180.3 626M1181.2 626.7L1182 627.4M1185.5 630.2L1186.4 630.8M1189.9 633.6L1190.3 634M1192.5 635.7L1193 636M1193.4 636.4L1194.3 637M1197.3 639.4L1197.8 639.7M1199.1 640.7L1199.5 641.1M1200 641.4L1200.4 641.7M1201.3 642.4L1202.2 643M1203 643.7L1203.9 644.3M1204.3 644.6h0M1358.6 738.4L1359 738.5M1360.8 738.8L1361.2 738.8M1362.1 739L1362.5 739.1M757.2 725.7L757.7 725.7M923.5 821.4L923.9 821.2M925.2 820.4L925.7 820.1M752.4 641.4L752.8 641.1M754.6 640.3L755 640.1M907.7 736.4L908.2 736.5M1054.1 825.8L1054.5 826.1M1060.2 830.3L1060.6 830.6M1089.1 853.5L1089.5 853.8M763.8 636.2L764.2 636M785.7 629L786.1 628.9M914.7 732.1L915.2 732.2M1053.2 817.7L1054.1 818.3M1054.5 818.6L1054.9 818.9M1056.2 819.8L1057.6 820.8M1065.4 826.6L1065.9 826.9M1093.9 850.2L1094.3 850.6M1110.5 863.3L1110.9 863.7M1121 870.1L1121.4 870.3M782.2 671.1L783 670.7M783.5 670.4L784.3 669.9M784.8 669.7L785.2 669.4M786.1 668.9L786.5 668.7M788.3 667.6L789.6 666.9M790 666.6L790.9 666.1M791.3 665.9L791.8 665.6M802.3 659.3L802.7 659.1M824.4 750.7L824.8 750.9M1238.2 611L1238.7 611.2M1245.7 615.7L1246.1 616M1274.1 638.5L1274.6 638.9M1288.6 650.4L1289 650.8M1290.3 651.8L1290.8 652.1M1301.2 659.9L1301.7 660.2M1305.2 662.7L1305.8 663.1M980.1 843.8L980.6 843.7M994.6 837.2L995 837M995.9 836.5L996.3 836.3M1262.8 608.5L1263.2 608.7M1299.9 636.9L1300.4 637.3M1310.9 645.4L1311.3 645.7M1313.5 647.3L1313.9 647.6M1314.4 647.9L1314.8 648.3M812.1 704.2L813.4 703.8M990.6 793.5L991.1 793.3M1004.2 786.9L1004.6 786.7M844.5 645.4L846.2 644.5M848.4 643.4L848.9 643.2M999.4 738.9L999.8 739M1156.9 832.9L1157.3 833.3M1158.2 833.9L1158.6 834.2M1159.9 835.2L1160.4 835.5M1164.3 838.5L1164.8 838.9M1166.1 839.9L1166.5 840.2M1170 843L1170.4 843.3M1170.9 843.7L1171.3 844M1177.9 849.3L1178.3 849.6M1195.4 863.2L1195.8 863.6M1198.9 865.9L1199.3 866.2M865.1 687.2L865.9 686.8M866.4 686.5L866.8 686.3M867.7 685.9L868.6 685.5M872.5 683.4L872.9 683.2M881.7 678.3L882.1 678.1M883 677.6L883.4 677.3M1052.3 771L1052.8 770.9M904.9 669.4L905.8 668.9M907.5 667.9L907.9 667.7M1067.6 759.2L1068.1 759.1M944.2 692L944.7 691.8M958.2 685.1L958.7 684.9M1135.9 774.4L1136.3 774.3M1136.8 774.1L1137.2 774M1138.1 773.8L1138.5 773.7M1138.9 773.5L1139.2 773.5M985.8 716.2L986.2 716.1M987.6 715.9L988 715.9M1005.5 711.9L1005.9 711.8M1170 803.5L1170.9 803.1M1171.8 802.6L1172.2 802.3M1173.1 801.9L1173.5 801.6M1023.7 702.9L1024.1 702.8M1028.5 701.3L1028.9 701.1M1035.9 698.3L1036.3 698.1M1202.2 791.6L1202.6 791.3M1213.1 786.4L1213.5 786.2M1068.3 728.1L1068.7 728.1M1078.8 728.1L1079.2 728.1M1214 835.7L1214.4 835.4M1233.7 824.4L1234.5 823.9M747.6 816.6L748 816.9M756.8 823.2L757.2 823.5M763.3 828.2L763.8 828.6M765.1 829.6L765.5 829.9M766.4 830.6L766.8 831M790 850.6L790.5 851M801 859.5L801.4 859.8M1087.5 635.9L1088.4 635.6M1089.3 635.2L1089.7 635.1M1096.7 632.5L1097.2 632.3M1097.6 632.2L1098 632M1099.3 631.6L1099.8 631.5M1111.6 628.3L1112 628.2M1238.9 731.8L1239.3 731.9M929.2 608.2L929.6 608.5M930.5 609L931.3 609.5M932.2 610.1L932.7 610.3M934 611.2L934.8 611.7M940.1 615.3L940.5 615.6M969 638.4L969.4 638.7M979.5 646.8L979.9 647.1M980.8 647.8L981.2 648.2M982.1 648.8L983 649.5M986 651.8L986.5 652.1M987.8 653.1L989.5 654.3M990 654.7L990.4 655M990.8 655.3L991.7 655.9M992.6 656.5L993 656.8M1137.2 744.9L1137.6 745M1138.1 745.2L1138.5 745.3M1145.5 747L1145.9 747.1M1278.1 846.2L1278.5 846M1286.4 842.8L1286.8 842.6M1287.2 842.4L1287.7 842.2M1288.6 841.8L1289 841.6M1290.3 841L1291.2 840.6M855.2 844.1L855.7 844.4M856.5 845.1L857 845.4M869.2 854.9L869.7 855.3M872.7 857.7L873.2 858M1154.5 651.7L1155.3 651.3M1156.7 650.6L1157.1 650.3M1157.5 650.1L1158 649.9M1161 648.2L1161.5 648M1308.5 743.6L1308.9 743.7M1176.1 683.1L1176.6 682.9M1177.9 682.2L1178.3 682M1196.2 671.6L1196.7 671.3M1348.5 771.8L1348.9 771.7M1364.7 767.8L1365.1 767.7M740.8 756.4L741.2 756.4M743.9 756.3L744.3 756.2M1197.6 667.3L1198 667M1198.4 666.8L1198.9 666.5M1199.8 666L1200.2 665.8M1200.6 665.5L1201.1 665.3M1203.2 664L1203.7 663.8M1205.9 662.5L1206.3 662.2M1208.5 661L1208.9 660.7M1365.1 756.8L1365.6 756.7M756.1 760.6L756.6 760.5M1208.9 673L1209.4 672.8M1211.1 671.8L1212 671.3M1219.9 666.7L1220.3 666.5M1224.7 663.9L1225.1 663.6M802.1 834.2L802.5 833.9M813.4 827.8L813.9 827.6M814.3 827.4L814.8 827.1M817.4 825.6L817.8 825.4M820.4 823.9L821.3 823.4M822.6 822.7L823.1 822.4M1280.2 730.6L1280.7 730.6M1281.6 730.7L1282 730.7M973.3 854.5L974.2 855.1M1258.8 654.6L1259.7 654.1M1260.1 653.9L1260.6 653.6M1264.1 651.7L1264.5 651.5M842.3 709.8L842.8 710M853.2 715.2L854.1 715.6M971.8 790.4L972.2 790.7M1050.6 856.9L1051 857.2M1353.1 621.3L1353.5 621.3M815 622.5L815.4 622.4M817.2 622.2L817.6 622.1M927.8 706.1L928.3 706.4M947.1 715.7L947.5 715.9M948.4 716.3L949.3 716.8M949.7 717L949.9 717.1M1066.1 790.9L1067 791.5M1072.2 794.7L1072.7 795M1156.2 863.4L1156.7 863.6M1165 866.9L1165.4 867M762.7 680.6L763.1 680.8M767.5 683.7L767.9 684M769.7 685.1L770.1 685.4M771.4 686.2L772.3 686.7M772.8 687L773.6 687.6M774.1 687.8h0M1010.5 858.3L1011 858.3M1026.7 857.3L1027.2 857.2M1299.7 611.8L1300.2 611.9M1033.1 622.9L1033.5 622.9M1035.2 622.6L1035.7 622.6M1157.8 712.9L1158.2 713.1M1160.8 714.4L1161.2 714.6M1163.4 715.6L1163.9 715.8M1167.8 717.7L1168.2 717.9M1289.2 794.7L1289.7 795M999.6 611.4L1000 611.6M1003.1 612.9L1003.5 613.1M1018.8 621.8L1019.3 622.2M1021.5 623.7L1021.9 624.1M1023.7 625.4L1024.1 625.8M1083.6 675.9L1084 676.2M1084.5 676.5L1084.9 676.8M1088.4 679.1L1088.8 679.4M1090.2 680.2L1090.6 680.5M1091 680.8L1091.7 681.2M1333.6 856.8L1334.1 856.8M1336.2 856.8L1336.7 856.8M1351.6 854.7L1352 854.6M1353.8 854.2L1354.2 854.1M958.5 615.6L958.9 615.6M959.8 615.7L960.2 615.8M961.5 616L962 616.1M1063.9 694.7L1064.3 695M1070.5 698.6L1071.3 699.1M1071.8 699.3L1072.2 699.6M1072.7 699.8L1073.1 700.1M1073.5 700.3L1074 700.6M1074.4 700.8L1074.8 701.1M1187.3 772.7L1187.7 772.9M1189.9 774.1L1190.3 774.4M1193 775.8L1193.8 776.2M1194.3 776.5L1194.7 776.7M1196 777.4L1196.5 777.7M1199.5 779.4L1200 779.6M1293.2 860L1293.6 860.1M1309.8 862.6L1310.7 862.7" stroke="#ff0000"/><path d="M823.1 773.1L823.5 773M831.8 770.6L832.2 770.5M837.5 769.3L837.9 769.2M1274.3 686L1275.7 685.3M1277.4 684.4L1277.8 684.2M1278.3 684L1278.7 683.8M1281.8 682.1L1282.2 681.9M1283.1 681.4L1283.5 681.2M1289.2 678L1289.7 677.7M1292.3 676.2L1292.7 675.9M858.1 807.8L858.5 807.5M865.5 803.5L865.9 803.2M866.4 803L866.8 802.8M870.3 800.8L870.8 800.6M871.2 800.4L871.6 800.1M872.9 799.5h0M1310.9 715.1L1311.8 715M1312.6 714.8L1313.1 714.8M1313.9 714.6L1314.4 714.6M1330.6 710.6L1331 710.5M1334.1 709.4L1334.3 709.4M869.4 844.3L869.9 844.1M875.6 841.5L876 841.3M886.1 836.5L886.5 836.3M886.9 836L887.8 835.6M888.7 835.2L889.6 834.7M890.4 834.3L891.3 833.8M891.8 833.6L892.2 833.4M893.1 832.9h0M1157.1 608.5L1157.5 608.8M1158 609.1L1158.4 609.4M1158.8 609.7L1159.7 610.3M1160.6 610.9L1168 616.3M1168.5 616.7L1169.3 617.3M1169.8 617.7L1170.2 618M1170.7 618.4L1171.1 618.7M1172 619.4L1172.4 619.7M1175.9 622.5L1176.8 623.2M1180.7 626.3L1181.2 626.7M1182.5 627.7L1183.3 628.4M1183.8 628.8L1184.2 629.1M1185.1 629.8L1185.5 630.2M1186.4 630.8L1189.9 633.6M1190.3 634L1192.5 635.7M1193 636L1193.4 636.4M1194.3 637L1197.3 639.4M1197.8 639.7L1199.1 640.7M1199.5 641.1L1200 641.4M1200.4 641.7L1201.3 642.4M1202.2 643L1203 643.7M1203.9 644.3L1204.3 644.6M1360.3 738.7L1360.8 738.8M1363.8 739.3L1364.2 739.3M759 725.6L759.4 725.6M759.8 725.6L760.3 725.6M905.1 832.3L905.5 832M922.2 822.2L922.6 821.9M925.7 820.1L926.1 819.9M927 819.4L927.8 818.9M930.5 817.3L930.9 817.1M931.8 816.6L932.2 816.3M932.7 816.1L934 815.3M752.8 641.1L753.7 640.7M755 640.1L755.5 639.9M759 638.4L759.4 638.2M778.2 631.2L778.7 631M1054.5 826.1L1054.9 826.4M1063.7 832.9L1064.1 833.2M1077.7 844.1L1078.1 844.4M1086.4 851.3L1086.9 851.7M1095.6 858.8L1096.1 859.1M1099.1 861.5L1099.6 861.8M1100 862.2L1100.4 862.5M1106.1 866.6L1106.6 866.9M1107 867.2L1107.4 867.5M1107.9 867.8L1108.3 868.1M763.3 636.4L763.8 636.2M764.2 636L765.5 635.5M766.4 635.1L767.7 634.6M769 634.1L769.5 634M772.1 633L772.5 632.9M775.6 631.8L776 631.7M778.2 631L778.7 630.8M783.5 629.5L783.9 629.4M903.3 728.6L903.8 728.7M908.2 730L908.6 730.2M912.1 731.2L912.5 731.4M914.3 731.9L914.7 732.1M915.6 732.3h0M1052.8 817.4L1053.2 817.7M1054.1 818.3L1054.5 818.6M1054.9 818.9L1055.8 819.5M1062.4 824.3L1062.8 824.6M1064.1 825.6L1064.6 825.9M1079 837.5L1079.4 837.9M1080.8 839L1081.2 839.4M1094.3 850.6L1094.8 850.9M1097.4 853.1L1097.8 853.5M1105.7 859.8L1106.1 860.1M1111.8 864.3L1112.2 864.6M1117.5 868L1117.9 868.3M1118.8 868.8L1119.2 869.1M1120.1 869.6L1120.6 869.8M783 670.7L783.5 670.4M784.3 669.9L784.8 669.7M785.2 669.4L786.1 668.9M786.5 668.7L788.3 667.6M789.6 666.9L790 666.6M796.2 663L797 662.5M802.7 659.1L803.2 658.8M959.8 758.9L960.2 758.8M819.1 749.2L819.6 749.3M826.1 751.2L826.6 751.4M961.3 846.3L961.8 846.2M963.5 845.5L963.9 845.3M965.7 844.6L966.3 844.3M1235.6 609.5L1236.1 609.7M1236.9 610.2L1237.8 610.7M1243.1 614L1243.5 614.2M1247.4 616.9L1247.9 617.2M1253.1 621.1L1253.6 621.5M1255.3 622.8L1255.8 623.2M1257.5 624.6L1257.9 624.9M1287.7 649.7L1288.1 650.1M1297.3 657.1L1298.2 657.7M1300.8 659.6L1301.2 659.9M1302.1 660.5L1305.2 662.7M841.9 741.3L842.3 741.4M997.6 835.7L997.8 835.6M1268 612L1268.4 612.3M1271.1 614.2L1271.5 614.5M1274.1 616.4L1274.6 616.7M1281.6 622.2L1282 622.5M1284.6 624.6L1285.1 625M1288.1 627.4L1288.6 627.8M1292.1 630.6L1292.5 631M1299.1 636.2L1299.5 636.6M1302.1 638.7L1303 639.4M1309.1 644.1L1309.6 644.4M1311.8 646L1312.2 646.3M1313.1 647L1313.5 647.3M1313.9 647.6L1314.4 647.9M1314.8 648.3L1315.7 648.9M813.4 703.8L814.8 703.4M816.5 702.8L816.9 702.7M833.1 696L833.6 695.8M999.4 789.1L999.8 788.9M1002.9 787.5L1003.3 787.3M1004.6 786.7L1005.1 786.5M1006.4 786L1007.5 785.5M846.2 644.5L847.1 644.1M848 643.6L848.4 643.4M1156 832.3L1156.9 832.9M1157.3 833.3L1158.2 833.9M1158.6 834.2L1159.1 834.6M1160.8 835.9L1161.2 836.2M1161.7 836.5L1163 837.5M1166.9 840.6L1167.4 840.9M1169.6 842.6L1170 843M1179.6 850.7L1180.1 851.1M1184.9 855L1185.3 855.3M1188.4 857.8L1188.8 858.1M1194.5 862.6L1194.9 862.9M1199.8 866.5L1200.6 867.1M865.9 686.8L866.4 686.5M866.8 686.3L867.2 686.1M876.4 681.3L876.9 681.1M877.8 680.6L878.2 680.3M881.2 678.6L881.7 678.3M884.8 676.5L885.2 676.3M886.5 675.5L886.9 675.2M1050.1 771.6L1050.6 771.5M1054.5 770.5L1054.9 770.4M1057.6 769.8L1058.4 769.6M905.8 668.9L906.6 668.4M907.9 667.7L908.4 667.4M910.6 666.2L911.4 665.6M919.8 660.8L920.2 660.5M927.2 656.3L927.6 656M932 653.4L932.4 653.1M1080.8 757.6L1081.2 757.6M944.7 691.8L946.4 691M946.9 690.8L947.3 690.6M950.8 688.9L951.2 688.7M952.1 688.3L953 687.8M953.9 687.4L954.3 687.2M955.6 686.5L956.1 686.3M964.8 681.4L965.2 681.2M1115.3 782.2L1116.2 781.8M1121.4 779.5L1121.9 779.3M1124.9 778.1L1125.4 777.9M1129.8 776.3L1130.6 776M1131.9 775.6L1132.4 775.4M1135.4 774.5L1135.9 774.4M1138.5 773.7L1138.9 773.5M984.9 716.3L985.8 716.2M986.7 716.1L987.1 716M988.9 715.7L989.3 715.7M993.2 715L993.7 714.9M996.3 714.3L996.8 714.2M998.5 713.8L998.9 713.7M1145.5 818.4L1145.9 818.1M1158.6 810.1L1159.1 809.9M1165.2 806.3L1165.6 806M1168.2 804.5L1168.7 804.3M1172.2 802.3L1172.6 802.1M1173.9 801.4L1174.4 801.2M1021 703.8L1023.7 702.9M1207.4 789L1207.8 788.8M1213.5 786.2L1214.4 785.8M1215.7 785.3L1216.4 785M1081 728L1081.4 728M1228.4 827.4L1228.8 827.2M1230.6 826.2L1231 825.9M1236.3 822.9L1236.7 822.6M1238.5 821.6L1238.9 821.4M1242.4 819.4L1243.3 818.9M748 816.9L749.3 817.9M750.2 818.5L751.1 819.1M752.4 820L753.3 820.7M759.4 825.2L759.8 825.5M761.6 826.9L762 827.2M764.7 829.2L765.1 829.6M789.2 849.9L789.6 850.2M813.2 868L813.7 868.3M1088.4 635.6L1089.3 635.2M1089.7 635.1L1090.2 634.9M1090.6 634.7L1091 634.6M1091.5 634.4L1091.9 634.2M1098.9 631.7L1099.3 631.6M1105.9 629.7L1106.3 629.5M1224.5 727.3L1224.9 727.4M1236.7 731.1L1237.2 731.2M1238.5 731.6L1238.9 731.8M928.7 608L929.2 608.2M929.6 608.5L930.5 609M931.3 609.5L932.2 610.1M932.7 610.3L934 611.2M934.8 611.7L935.7 612.3M936.6 612.9L937 613.2M941 615.9L941.4 616.2M954.1 626.1L954.5 626.4M956.3 627.9L957.2 628.6M958.5 629.7L958.9 630M962.4 632.9L962.8 633.3M967.2 636.9L967.7 637.3M968.5 638L969 638.4M972.5 641.2L972.9 641.6M973.3 641.9L974.2 642.7M974.7 643L975.5 643.7M979 646.5L979.5 646.8M979.9 647.1L980.8 647.8M981.2 648.2L982.1 648.8M983 649.5L986 651.8M986.5 652.1L987.8 653.1M989.5 654.3L990 654.7M990.4 655L990.8 655.3M991.7 655.9L992.6 656.5M993 656.8L993.2 657M1136.8 744.8L1137.2 744.9M1142.9 746.4L1143.3 746.5M1152.9 748.8L1153.4 748.9M1273.7 847.8L1274.1 847.6M1277.6 846.4L1278.1 846.2M1282.9 844.3L1283.3 844.1M1284.6 843.5L1286.4 842.8M1286.8 842.6L1287.2 842.4M1287.7 842.2L1288.6 841.8M1289 841.6L1290.3 841M1291.2 840.6h0M871.4 856.7L871.8 857M875.8 860.1L876.2 860.4M1155.3 651.3L1156.2 650.8M1165.4 645.9L1165.8 645.7M1167.2 645L1167.6 644.8M1174.2 641.5L1174.6 641.3M1173.5 684.4L1175.7 683.3M1176.6 682.9L1177 682.7M1185.3 678.1L1185.8 677.9M1194.5 672.7L1194.9 672.4M1202.4 667.7L1202.8 667.4M1345.4 772.9L1345.9 772.7M1346.8 772.4L1347.2 772.3M1355.9 769.7L1356.4 769.6M1358.6 769L1359 768.9M1361.6 768.4L1362.1 768.3M1363.4 768L1363.8 767.9M1364.2 767.8L1364.7 767.8M736.4 756.8L736.9 756.8M738.6 756.6L739.1 756.6M741.7 756.4L742.1 756.4M742.6 756.3L743 756.3M743.4 756.3L743.9 756.3M1197.1 667.5L1197.6 667.3M1198 667L1198.4 666.8M1198.9 666.5L1199.8 666M1200.2 665.8L1200.6 665.5M1201.1 665.3L1203.2 664M1203.7 663.8L1205.9 662.5M1206.3 662.2L1207.2 661.7M1210.7 659.7L1211.1 659.4M746.9 762.1L747.4 762M1209.4 672.8L1211.1 671.8M1212.9 670.8L1213.3 670.6M1213.8 670.3L1214.2 670.1M1215.1 669.5L1215.5 669.3M1219 667.3L1219.4 667M1223.4 664.7L1223.8 664.4M1226.4 662.8L1226.9 662.5M1227.3 662.3L1227.8 662M796.4 837.3L796.8 837M804.2 833L804.7 832.7M813.9 827.6L814.3 827.4M814.8 827.1L815.2 826.9M816.1 826.4L817.4 825.6M817.8 825.4L820.4 823.9M821.3 823.4L822.6 822.7M823.1 822.4h0M1278.9 730.5L1280.2 730.6M1280.7 730.6L1281.1 730.7M1282 730.7L1282.4 730.7M1285.1 730.8L1285.9 730.9M1287.7 730.9L1288.1 730.9M971.2 852.8L971.6 853.1M972.5 853.8L973.3 854.5M976.8 857.2L977.1 857.4M1257.9 655.1L1258.8 654.6M1259.7 654.1L1260.1 653.9M1261 653.4L1261.4 653.1M1265.4 651L1265.8 650.7M1266.2 650.5L1266.7 650.3M1271.1 647.9L1271.5 647.7M832.2 704.5L832.7 704.7M847.6 712.4L848 712.6M852.8 715L853.2 715.2M854.1 715.6h0M969.6 789.1L970.5 789.6M985.4 799.1L985.8 799.4M1055.4 859.9L1055.8 860.2M1073.3 867.3L1073.8 867.4M1350.9 621.5L1351.3 621.4M1364.5 621.5L1364.9 621.5M814.5 622.5L815 622.5M815.4 622.4L815.8 622.4M831.2 621.9L831.6 622M928.3 706.4L928.7 706.6M937.9 711.3L938.3 711.5M939.7 712.1L940.1 712.3M943.2 713.8L943.6 714M944 714.2L944.5 714.4M944.9 714.6L945.3 714.9M946.2 715.3L947.1 715.7M947.5 715.9L948 716.1M949.3 716.8L949.7 717M1067 791.5L1069.2 792.8M1074.8 796.4L1075.7 797M1089.7 806.8L1090.2 807.1M1091 807.8L1091.5 808.2M1101.1 816.2L1101.5 816.6M1166.7 867.4L1167.2 867.5M741.2 664.4L741.7 664.8M744.3 667L744.8 667.4M748.7 670.5L749.1 670.8M761.4 679.7L761.8 680M765.8 682.6L766.6 683.1M767.1 683.4L767.5 683.7M769.2 684.8L769.7 685.1M771 685.9L771.4 686.2M772.3 686.7L772.8 687M773.6 687.6L774.1 687.8M896.8 764.7L897.7 765.1M899.4 765.9L899.8 766.1M1018.8 858.2L1019.7 858.2M1020.6 858.1L1021 858.1M1021.9 858L1022.3 857.9M1023.2 857.8L1023.7 857.7M1302.3 612.5L1303.2 612.8M1303.7 612.9L1304.1 613.1M1305 613.4L1305.4 613.5M1308 614.5L1308.5 614.7M1362.7 658.4L1363.2 658.8M736.9 858.5L737.3 858.8M750 865.5L750.4 865.7M753.9 867L754.4 867.1M754.8 867.2L755.2 867.4M755.7 867.5L756.1 867.7M756.6 867.8L757 867.9M757.4 868h0M1032.2 623.1L1033.1 622.9M1033.9 622.8L1034.4 622.7M1034.8 622.7L1035.2 622.6M1035.7 622.6L1036.1 622.5M1048.4 622.2L1048.8 622.2M1145.5 706.8L1145.9 707M1159.9 714L1160.4 714.2M1164.8 716.2L1166.1 716.9M1168.2 717.9L1168.5 718M1285.3 792.3L1286.6 793.1M1287.9 793.9L1288.3 794.2M1303.7 804.4L1304.1 804.7M1307.6 807.3L1308 807.6M1312.8 811.4L1313.3 811.8M1358.3 853.6L1358.8 853.9M997.8 610.8L999.2 611.3M1059.5 657.6L1060 657.9M1062.6 660.2L1063 660.5M1064.8 662L1065.2 662.3M1068.7 665.1L1069.2 665.5M1081.4 674.4L1081.8 674.7M1085.3 677.1L1085.8 677.3M1089.3 679.6L1090.2 680.2M1090.6 680.5L1091 680.8M1225.1 762.9L1225.6 763M1349.4 855.1L1349.8 855.1M1350.7 854.9L1351.1 854.8M1352.9 854.4L1353.3 854.3M957.2 615.4L958.5 615.6M958.9 615.6L959.8 615.7M960.2 615.8L961.1 615.9M962.4 616.1L964.2 616.5M965.9 616.9L966.3 617M1050.3 686L1050.8 686.3M1051.7 686.9L1052.1 687.2M1052.5 687.5L1053 687.8M1055.2 689.3L1055.6 689.5M1062.2 693.7L1062.6 693.9M1063.5 694.4L1063.9 694.7M1064.3 695L1064.8 695.2M1065.2 695.5L1065.7 695.7M1067.4 696.8L1070.5 698.6M1071.3 699.1L1071.8 699.3M1072.2 699.6L1072.7 699.8M1073.1 700.1L1073.5 700.3M1074 700.6L1074.4 700.8M1187.7 772.9L1189.9 774.1M1190.3 774.4L1193 775.8M1196.5 777.7L1196.9 777.9M1197.3 778.1L1197.8 778.4M1200 779.6L1200.4 779.9M1291.4 859.4L1292.3 859.7M1303.7 862.2L1304.1 862.3M1307.2 862.5L1307.6 862.6M1308.9 862.6L1309.8 862.6M1310.7 862.7h0" stroke="#ff3300"/><path d="M819.1 774.5L819.6 774.3M834.9 769.8L835.3 769.8M836.6 769.5L837.1 769.4M1276.1 685.1L1276.5 684.9M1277 684.7L1277.4 684.4M1279.6 683.3L1280 683.1M1293.6 675.4L1294 675.1M860.7 806.2L861.1 806M869 801.6L869.9 801.1M871.6 800.1L872.1 799.9M1311.8 715L1312.6 714.8M1317.4 714L1317.9 713.9M1327.1 711.7L1327.5 711.5M872.5 842.9L872.9 842.7M878.6 840.1L879.1 839.9M880.8 839.1L881.2 838.9M883.4 837.8L883.9 837.6M884.3 837.4L884.8 837.1M885.2 836.9L886.1 836.5M1169.3 617.3L1169.8 617.7M1170.2 618L1170.7 618.4M1171.1 618.7L1172 619.4M1172.4 619.7L1174.2 621.1M1174.6 621.4L1175 621.8M1176.8 623.2L1179.8 625.6M1180.3 626L1180.7 626.3M1182 627.4L1182.5 627.7M1183.3 628.4L1183.8 628.8M1184.2 629.1L1185.1 629.8M1359 738.5L1360.3 738.7M756.8 725.7L757.2 725.7M921.3 822.7L921.7 822.4M928.3 818.6L928.7 818.3M931.3 816.8L931.8 816.6M932.2 816.3L932.7 816.1M756.8 639.3L757.2 639.1M759.8 638L760.3 637.8M764.7 636L765.1 635.8M766.4 635.3L766.8 635.1M768.6 634.5L769 634.3M891.5 732.6L892 732.7M899.4 734.4L899.8 734.5M900.7 734.7L901.2 734.8M1054.9 826.4L1055.4 826.7M1058.9 829.3L1059.3 829.6M1059.8 829.9L1060.2 830.3M1065 833.9L1065.4 834.2M1080.3 846.2L1080.8 846.6M1091.7 855.6L1092.1 856M1102.6 864.1L1103.1 864.4M1109.6 869L1110.1 869.3M765.5 635.5L766.4 635.1M769.5 634L769.9 633.8M772.5 632.9L773 632.7M780 630.5L780.4 630.3M782.6 629.7L783 629.6M784.3 629.3L784.8 629.2M898.1 727L898.5 727.1M906.4 729.5L906.8 729.6M915.2 732.2L915.6 732.3M1055.8 819.5L1056.2 819.8M1059.3 822L1059.8 822.3M1060.2 822.7L1060.6 823M1061.9 824L1062.4 824.3M1065 826.3L1065.4 826.6M1066.3 827.3L1066.8 827.6M1068.1 828.6L1068.5 829M1071.1 831L1071.6 831.4M1072.9 832.4L1073.3 832.8M1095.2 851.3L1095.6 851.7M1104.8 859.1L1105.2 859.5M1112.2 864.6L1112.7 864.9M1118.4 868.5L1118.8 868.8M1119.2 869.1L1120.1 869.6M790.9 666.1L791.3 665.9M791.8 665.6L793.5 664.6M794.8 663.8L795.3 663.5M795.7 663.3L796.2 663M803.6 658.5L804 658.3M955.8 759.2L956.3 759.2M958.9 758.9L959.3 758.9M960.7 758.8L962 758.7M820 749.5L820.4 749.6M823.9 750.6L824.4 750.7M831.4 752.8L831.8 752.9M955.6 848.4L956.1 848.2M957.8 847.6L958.2 847.5M958.7 847.3L959.1 847.1M963.9 845.3L965.7 844.6M1233.4 608.3L1234.3 608.8M1236.5 610L1236.9 610.2M1241.3 612.8L1241.8 613.1M1245.2 615.4L1245.7 615.7M1247 616.6L1247.4 616.9M1257.1 624.2L1257.5 624.6M1268.9 634L1269.3 634.4M1292.1 653.1L1292.5 653.5M1296.4 656.4L1297.3 657.1M1301.7 660.2L1302.1 660.5M987.6 840.5L988 840.3M991.1 838.9L991.5 838.7M993.7 837.6L994.1 837.4M997.2 835.9L997.6 835.7M1265.8 610.5L1266.2 610.8M1268.4 612.3L1268.9 612.6M1270.2 613.5L1270.6 613.8M1271.5 614.5L1271.9 614.8M1292.5 631L1292.9 631.3M1294.2 632.4L1294.7 632.7M1304.3 640.4L1304.8 640.7M1308.2 643.4L1308.7 643.7M1310 644.7L1310.4 645M814.8 703.4L816.1 703M822.2 700.8L822.6 700.6M994.6 791.4L995 791.2M997.6 789.9L998.1 789.7M1005.1 786.5L1006.4 786M847.1 644.1L848 643.6M848.9 643.2L849.3 643M850.2 642.6L850.6 642.4M851.9 641.7L852.4 641.5M861.1 637.6L861.6 637.4M993.7 737.9L994.1 738M996.8 738.4L997.2 738.5M997.6 738.6L998.1 738.7M1003.8 739.8L1004.2 739.9M1159.1 834.6L1159.9 835.2M1163 837.5L1163.4 837.9M1166.5 840.2L1166.9 840.6M1168.7 841.9L1169.1 842.3M1170.4 843.3L1170.9 843.7M1189.2 858.5L1189.7 858.8M1191.4 860.2L1191.9 860.5M1192.8 861.2L1193.2 861.6M1197.1 864.6L1197.6 864.9M1201.9 868.1L1202.4 868.4M1203.2 869L1203.7 869.3M867.2 686.1L867.7 685.9M873.8 682.7L874.2 682.5M874.7 682.3L875.1 682M1036.1 776.4L1036.6 776.2M1046.2 772.8L1046.6 772.6M1048.8 772L1049.2 771.9M1051.4 771.3L1051.9 771.2M1054.1 770.6L1054.5 770.5M1056.2 770.1L1057.6 769.8M911.4 665.6L911.9 665.4M946.4 691L946.9 690.8M947.3 690.6L948.6 690M959.6 684.4L960 684.2M1132.4 775.4L1132.8 775.3M1137.6 773.9L1138.1 773.8M986.2 716.1L986.7 716.1M988 715.9L988.4 715.8M1000.2 713.4L1000.7 713.3M1004.6 712.2L1005.1 712M1162.6 807.8L1163 807.5M1164.3 806.8L1164.8 806.5M1172.6 802.1L1173.1 801.9M1173.5 801.6L1173.9 801.4M1027.2 701.7L1027.6 701.6M1034.6 698.8L1035 698.6M1196 794.9L1196.5 794.6M1198.7 793.4L1199.1 793.2M1204.3 790.4L1204.8 790.2M1209.6 787.9L1210 787.7M1214.8 785.7L1215.7 785.3M1067.8 728.1L1068.3 728.1M1220.5 832L1221 831.7M1238.9 821.4L1239.3 821.1M749.3 817.9L750.2 818.5M751.5 819.4L752 819.7M755 821.9L755.5 822.2M808.4 864.9L808.8 865.2M810.2 866L810.6 866.3M814.1 868.5L814.5 868.8M816.7 870.1L817.2 870.3M817.6 870.5h0M1090.2 634.9L1090.6 634.7M1091 634.6L1091.5 634.4M1092.3 634.1L1093.2 633.7M1098 632L1098.5 631.9M1232.3 729.7L1232.8 729.9M1233.7 730.1L1234.1 730.3M1236.3 730.9L1236.7 731.1M1238 731.5L1238.5 731.6M935.7 612.3L936.6 612.9M937 613.2L940.1 615.3M940.5 615.6L941 615.9M942.3 616.9L943.2 617.5M943.6 617.8L944 618.2M950.6 623.2L951 623.6M951.9 624.3L952.3 624.6M958.9 630L959.3 630.4M964.6 634.8L965 635.1M965.5 635.5L965.9 635.9M974.2 642.7L974.7 643M975.5 643.7L979 646.5M1137.6 745L1138.1 745.2M1138.5 745.3L1138.9 745.4M1141.6 746L1142 746.1M1148.6 747.7L1149 747.8M1268 849.7L1268.4 849.5M1275 847.3L1275.4 847.2M1276.8 846.7L1277.2 846.5M1278.5 846L1278.9 845.9M1279.4 845.7L1279.8 845.5M1282.4 844.4L1282.9 844.3M1283.3 844.1L1284.6 843.5M867.9 853.9L868.3 854.2M874.9 859.4L875.3 859.8M876.2 860.4L876.7 860.8M1156.2 650.8L1156.7 650.6M1157.1 650.3L1157.5 650.1M1159.3 649.2L1159.7 648.9M1165.8 645.7L1166.3 645.5M1312.4 744L1312.8 744.1M1175.7 683.3L1176.1 683.1M1180.5 680.8L1180.9 680.6M1186.6 677.4L1187.1 677.1M1353.8 770.3L1354.2 770.1M1358.1 769.1L1358.6 769M1360.8 768.5L1361.2 768.4M742.1 756.4L742.6 756.3M743 756.3L743.4 756.3M745.2 756.2L746.3 756.2M1207.2 661.7L1208.5 661M1209.4 660.4L1209.8 660.2M1360.8 757.3L1361.2 757.2M752.6 761.1L753.1 761M759.2 760.2L759.6 760.2M1212 671.3L1212.9 670.8M1222.5 665.2L1223.4 664.7M1223.8 664.4L1224.2 664.1M1240 654.4L1240.2 654.3M806.9 831.5L807.3 831.3M809.1 830.3L809.5 830.1M809.9 829.8L810.8 829.3M811.7 828.8L812.1 828.6M815.2 826.9L816.1 826.4M1281.1 730.7L1281.6 730.7M1291.2 730.9L1291.6 730.9M970.7 852.4L971.2 852.8M971.6 853.1L972.5 853.8M974.2 855.1L974.7 855.5M976 856.5L976.4 856.8M1260.6 653.6L1261 653.4M1261.4 653.1L1261.9 652.9M1269.3 648.8L1269.8 648.6M1277.2 644.7L1277.6 644.4M1280.2 643.1L1280.7 642.9M1285.1 640.7L1285.5 640.4M834.9 705.9L835.3 706.2M839.7 708.4L840.1 708.7M848.9 713L849.3 713.2M973.1 791.2L973.6 791.5M974 791.8L974.4 792M981 796.2L981.4 796.5M983.6 797.9L984.1 798.2M991.5 803.4L991.9 803.8M1070.7 866.6L1071.1 866.7M1351.8 621.4L1352.2 621.4M1354.4 621.2L1354.8 621.2M1362.3 621.3L1362.7 621.3M829 621.8L829.4 621.8M829.8 621.8L830.3 621.9M942.7 713.6L943.2 713.8M944.5 714.4L944.9 714.6M948 716.1L948.4 716.3M1069.6 793.1L1070 793.4M1070.5 793.6L1071.3 794.2M1082.3 801.4L1082.7 801.7M1089.3 806.5L1089.7 806.8M1144.4 856.4L1144.8 856.8M1152.7 861.6L1153.2 861.9M1167.6 867.7L1168 867.8M768.8 684.5L769.2 684.8M770.1 685.4L771 685.9M900.7 766.5L901.6 766.9M904.2 768.1L904.7 768.3M1017.1 858.3L1017.5 858.3M1022.8 857.9L1023.2 857.8M1026.3 857.4L1026.7 857.3M1312 616.2L1312.4 616.4M1312.8 616.7L1313.3 616.9M1319 620L1319.4 620.2M756.1 867.7L756.6 867.8M757 867.9L757.4 868M1036.1 622.5L1036.6 622.5M1166.5 717.1L1167.8 717.7M1286.6 793.1L1287.9 793.9M1295.3 798.7L1295.8 798.9M1296.2 799.2L1296.7 799.5M1302.3 803.4L1302.8 803.7M1306.7 806.6L1307.2 807M1312 810.7L1312.4 811M1315.9 813.9L1316.3 814.3M997 610.5L997.8 610.8M1002.7 612.7L1003.1 612.9M1005.7 614.1L1006.2 614.3M1034.2 634.3L1034.6 634.7M1046 645.2L1046.4 645.7M1077.9 672L1078.3 672.3M1086.7 677.9L1088.4 679.1M1088.8 679.4L1089.3 679.6M1220.8 761L1221.2 761.2M1226.9 763.6L1227.3 763.8M1229.1 764.6L1229.5 764.7M1230.8 765.3L1231.2 765.5M1236.1 767.7L1236.5 768M1334.1 856.8L1334.5 856.8M1343.2 856.2L1343.7 856.1M1349.8 855.1L1350.2 855M1352 854.6L1352.4 854.5M1353.3 854.3L1353.8 854.2M1354.2 854.1L1354.4 854M961.1 615.9L961.5 616M962 616.1L962.4 616.1M964.6 616.6L965.5 616.8M968.5 617.5L969 617.7M971.2 618.3L971.6 618.5M1050.8 686.3L1051.2 686.6M1053.4 688.1L1053.8 688.4M1061.7 693.4L1062.2 693.7M1064.8 695.2L1065.2 695.5M1065.7 695.7L1067.4 696.8M1193.8 776.2L1194.3 776.5M1194.7 776.7L1196 777.4M1200.4 779.9L1200.8 780.1M1296.7 861L1297.1 861.1M1303.2 862.2L1303.7 862.2M1305 862.3L1305.8 862.4M1306.7 862.5L1307.2 862.5M1307.6 862.6L1308.9 862.6" stroke="#ff6600"/><path d="M833.1 770.2L833.6 770.1M1276.5 684.9L1277 684.7M1287 679.2L1287.5 679M1300.2 671.2L1300.6 671M854.6 809.9L855 809.7M868.6 801.8L869 801.6M1313.5 714.7L1313.9 714.6M1316.6 714.2L1317 714.1M1321.4 713.1L1321.8 713M746.1 740.7L746.5 740.8M872.1 843.1L872.5 842.9M879.9 839.5L880.4 839.3M882.1 838.4L882.6 838.2M883 838L883.4 837.8M1361.2 738.8L1362.1 739M756.3 725.7L756.8 725.7M758.5 725.7L759 725.6M773 724.7L773.4 724.6M920 823.5L920.4 823.2M922.6 821.9L923 821.7M926.1 819.9L926.5 819.6M929.2 818.1L929.6 817.8M930.9 817.1L931.3 816.8M753.7 640.7L754.2 640.5M757.2 639.1L758.1 638.8M762.9 636.7L763.3 636.5M896.8 733.8L897.2 733.9M908.2 736.5L908.6 736.6M1055.4 826.7L1056.2 827.4M1058 828.6L1058.9 829.3M1061.9 831.6L1062.4 831.9M1065.4 834.2L1065.9 834.6M1066.3 834.9L1066.8 835.3M1085.6 850.6L1086 850.9M1103.9 865.1L1104.4 865.4M1105.7 866.3L1106.1 866.6M769.9 633.8L770.3 633.6M773.4 632.5L773.8 632.4M778.7 630.8L779.1 630.7M781.3 630.1L781.7 630M897.2 726.7L897.7 726.8M906.8 729.6L907.3 729.8M1089.9 846.8L1090.4 847.2M1093.4 849.8L1093.9 850.2M1106.1 860.1L1106.6 860.5M1107.4 861.1L1107.9 861.4M1110.1 863L1110.5 863.3M1117.9 868.3L1118.4 868.5M1121.4 870.3L1121.7 870.5M793.5 664.6L794.8 663.8M795.3 663.5L795.7 663.3M801 660.1L801.4 659.8M953.7 759.5L954.1 759.5M959.3 758.9L959.8 758.9M960.2 758.8L960.7 758.8M816.5 748.4L816.9 748.6M817.4 748.7L817.8 748.8M958.2 847.5L958.7 847.3M960.9 846.5L961.3 846.3M1234.3 608.8L1234.8 609M1240 612L1240.4 612.3M1241.8 613.1L1242.2 613.4M1244.4 614.8L1244.8 615.1M1254.9 622.5L1255.3 622.8M1265.4 631.1L1265.8 631.4M1269.8 634.8L1270.2 635.2M1280.2 643.7L1280.7 644M1283.3 646.2L1283.8 646.6M1285.5 648L1285.9 648.3M1293.4 654.1L1294.2 654.8M1298.6 658L1299.1 658.3M1299.9 659L1300.8 659.6M838.4 740.6L838.8 740.7M983.2 842.5L984.1 842.1M985.8 841.3L986.2 841.1M1280.2 621.1L1280.7 621.5M1289.4 628.5L1289.9 628.8M1310.4 645L1310.9 645.4M1312.6 646.7L1313.1 647M816.1 703L816.5 702.8M820.9 701.3L821.3 701.1M824.8 699.7L825.2 699.6M998.9 789.3L999.4 789.1M1000.2 788.7L1000.7 788.5M849.3 643L849.8 642.8M863.8 636.5L864.2 636.3M1001.6 739.4L1002 739.5M1002.4 739.5L1002.9 739.6M1160.4 835.5L1160.8 835.9M1161.2 836.2L1161.7 836.5M1197.6 864.9L1198 865.2M868.6 685.5L869.4 685M871.2 684.1L871.6 683.9M887.8 674.6L888.2 674.4M1047.5 772.4L1047.9 772.2M1051 771.4L1051.4 771.3M906.6 668.4L907.1 668.2M911.9 665.4L912.3 665.1M918 661.8L918.4 661.5M926.3 656.8L926.8 656.5M1075.5 758.1L1075.9 758M951.2 688.7L951.7 688.5M956.9 685.8L957.4 685.6M964.4 681.7L964.8 681.4M1120.6 779.8L1121 779.6M1125.4 777.9L1125.8 777.7M1128.4 776.8L1128.9 776.6M1136.3 774.3L1136.8 774.1M1137.2 774L1137.6 773.9M987.1 716L987.6 715.9M990.2 715.5L990.6 715.4M992.8 715L993.2 715M1155.1 812.3L1155.6 812M1156.4 811.5L1156.9 811.2M1164.8 806.5L1165.2 806.3M1024.1 702.8L1024.5 702.7M1199.5 792.9L1200 792.7M1201.7 791.8L1202.2 791.6M1210.9 787.3L1211.3 787.2M1211.8 787L1212.7 786.6M1214.4 785.8L1214.8 785.7M1069.2 728.1L1069.6 728.1M1072.7 728.2L1073.1 728.2M1219.7 832.4L1220.1 832.2M1221.8 831.2L1222.3 830.9M1224 829.9L1224.5 829.7M1239.3 821.1L1239.8 820.9M751.1 819.1L751.5 819.4M755.9 822.6L756.8 823.2M767.3 831.3L767.7 831.7M772.5 835.7L773 836M790.9 851.3L791.3 851.7M806.2 863.4L806.7 863.7M809.7 865.7L810.2 866M811 866.6L811.5 866.9M1091.9 634.2L1092.3 634.1M1093.2 633.7L1093.7 633.6M1104.6 630L1105 629.9M1106.3 629.5L1106.8 629.4M1112 628.2L1112.5 628.1M1229.7 728.9L1230.2 729M1233.2 730L1233.7 730.1M1234.1 730.3L1234.5 730.4M941.4 616.2L942.3 616.9M943.2 617.5L943.6 617.8M944 618.2L945.8 619.5M951 623.6L951.5 623.9M953.2 625.4L953.7 625.7M968.1 637.7L968.5 638M970.3 639.5L972.5 641.2M972.9 641.6L973.3 641.9M1138.9 745.4L1140.2 745.7M1143.3 746.5L1143.8 746.6M1271.1 848.7L1271.5 848.6M1276.3 846.9L1276.8 846.7M1280.7 845.2L1282.4 844.4M858.3 846.4L858.7 846.7M863.1 850.1L863.5 850.5M867 853.2L867.5 853.6M873.6 858.4L874 858.7M877.5 861.5L878.8 862.5M1171.5 642.8L1172 642.6M1173.3 642L1174.2 641.5M1311.1 743.9L1311.5 743.9M1312.8 744.1L1313.3 744.1M1318.1 744.7L1318.5 744.8M1177 682.7L1177.9 682.2M1179.2 681.5L1179.6 681.3M1185.8 677.9L1186.2 677.6M1192.3 674L1192.8 673.8M1197.6 670.8L1198 670.5M1350.7 771.1L1351.1 771M1354.2 770.1L1355.1 769.9M1356.8 769.4L1357.2 769.3M1357.7 769.2L1358.1 769.1M1362.9 768.1L1363.4 768M1363.8 767.9L1364.2 767.8M744.3 756.2L745.2 756.2M1208.9 660.7L1209.4 660.4M1209.8 660.2L1210.2 659.9M1213.3 658.1L1213.8 657.8M1214.2 657.6L1214.6 657.3M1215.1 657.1L1215.5 656.8M1219.9 654.2L1220.3 653.9M1362.9 757L1363.4 757M750 761.5L750.4 761.5M754.4 760.8L754.8 760.8M756.6 760.5L757 760.5M1213.3 670.6L1213.8 670.3M1215.9 669L1216.4 668.8M1234.8 657.7L1235.2 657.4M805.6 832.2L806.4 831.8M811.2 829.1L811.7 828.8M812.1 828.6L813.4 827.8M1282.4 730.7L1284.2 730.8M782.4 746.5L782.8 746.5M974.7 855.5L976 856.5M976.4 856.8L976.8 857.2M1261.9 652.9L1262.8 652.4M1264.9 651.2L1265.4 651M1267.6 649.8L1268 649.5M1268.9 649.1L1269.3 648.8M1274.6 646L1275 645.8M1280.7 642.9L1281.1 642.6M1282.4 642L1282.9 641.7M850.6 713.9L851.1 714.1M970.5 789.6L970.9 789.9M971.4 790.1L971.8 790.4M975.3 792.6L975.8 792.8M986.7 800L987.1 800.3M988 800.9L988.4 801.2M992.4 804.1L992.8 804.4M1051.4 857.5L1051.9 857.8M1069.8 866.3L1070.2 866.4M825.9 621.7L826.3 621.7M838.2 623L838.4 623.1M924.3 704.2L924.8 704.4M930.9 707.7L931.8 708.2M939.2 711.9L939.7 712.1M940.5 712.5L941.4 713M945.8 715.1L946.2 715.3M1069.2 792.8L1069.6 793.1M1073.5 795.6L1074 795.9M1074.4 796.1L1074.8 796.4M1076.6 797.6L1077 797.9M1087.5 805.2L1088 805.5M1094.5 810.6L1095 811M1156.7 863.6L1157.1 863.8M1157.5 864L1158 864.2M1160.6 865.3L1161 865.5M755.2 675.4L755.7 675.7M759.6 678.5L760.1 678.8M764.9 682L765.3 682.3M768.4 684.3L768.8 684.5M915.2 773.6L915.6 773.9M1300.2 611.9L1301.5 612.3M1306.3 613.9L1306.7 614M1322.9 622.5L1323.3 622.8M1323.8 623.1L1324.2 623.4M1363.2 658.8L1364 659.6M736.4 858.2L736.9 858.5M746.1 863.7L746.9 864.1M1034.4 622.7L1034.8 622.7M1039.6 622.2L1040.1 622.2M1040.5 622.2L1040.9 622.1M1153.8 711L1154.2 711.2M1158.2 713.1L1158.6 713.3M1166.1 716.9L1166.5 717.1M1288.3 794.2L1288.8 794.4M1294.9 798.4L1295.3 798.7M1310.2 809.3L1310.7 809.6M1014.5 618.9L1014.9 619.2M1017.1 620.6L1017.5 620.9M1056.9 655.3L1057.3 655.6M1083.2 675.6L1083.6 675.9M1222.9 761.9L1223.4 762.1M1350.2 855L1350.7 854.9M964.2 616.5L964.6 616.6M965.5 616.8L965.9 616.9M968.1 617.4L968.5 617.5M969.4 617.8L969.8 617.9M1053 687.8L1053.4 688.1M1053.8 688.4L1054.3 688.7M1055.6 689.5L1056.5 690.1M1061.3 693.1L1061.7 693.4M1062.6 693.9L1063.5 694.4M1196.9 777.9L1197.3 778.1M1197.8 778.4L1198.7 778.9M1200.8 780.1L1201.3 780.3M1207 783.7L1207.4 783.9M1208.3 784.5L1208.7 784.7M1215.3 789L1215.7 789.3M1290.5 859.1L1291 859.3M1305.8 862.4L1306.7 862.5" stroke="#ff9900"/><path d="M829.6 771.1L830.1 771M835.3 769.8L835.8 769.7M1277.8 684.2L1278.3 684M1280 683.1L1280.5 682.8M1284.4 680.7L1284.8 680.5M1298 672.6L1298.4 672.4M850.2 812.6L850.6 812.4M854.1 810.2L854.6 809.9M865.9 803.2L866.4 803M867.2 802.5L867.7 802.3M869.9 801.1L870.3 800.8M1314.4 714.6L1315.2 714.4M1323.1 712.7L1323.6 712.6M869 844.4L869.4 844.3M881.2 838.9L881.7 838.6M1362.5 739.1L1363.4 739.2M755.5 725.7L755.9 725.7M904.2 832.8L904.7 832.5M906.4 831.5L906.8 831.2M930 817.6L930.5 817.3M754.2 640.5L754.6 640.3M762.5 636.9L762.9 636.7M904.7 735.6L905.1 735.8M1060.6 830.6L1061.1 830.9M1083.8 849.1L1084.2 849.5M1094.8 858.1L1095.2 858.4M1097.8 860.5L1098.2 860.8M1100.4 862.5L1100.9 862.8M1108.8 868.4L1109.2 868.7M767.7 634.6L768.6 634.3M773.8 632.4L774.3 632.2M777.8 631.1L778.2 631M910.3 730.7L910.8 730.8M912.5 731.4L913 731.5M1057.6 820.8L1058.4 821.4M1062.8 824.6L1063.7 825.3M1068.5 829L1069.4 829.7M1096.5 852.4L1096.9 852.8M1120.6 869.8L1121 870.1M797 662.5L797.5 662.2M799.7 660.9L800.1 660.6M949.7 760.1L950.2 760M957.2 759.1L957.6 759.1M958.5 759L958.9 758.9M821.3 749.9L821.8 750M947.3 851L947.8 850.8M961.8 846.2L962.2 846M962.6 845.8L963.5 845.5M1234.8 609L1235.6 609.5M1236.1 609.7L1236.5 610M1249.6 618.5L1250.5 619.1M1257.9 624.9L1258.4 625.3M1264.9 630.7L1265.4 631.1M1279.8 643.3L1280.2 643.7M1282 645.1L1282.4 645.5M1294.2 654.8L1294.7 655.1M1299.1 658.3L1299.9 659M848 742.4L848.4 742.5M849.3 742.6L849.8 742.7M977.9 844.8L978.4 844.6M984.5 841.9L984.9 841.7M996.8 836.1L997.2 835.9M1264.9 609.9L1265.4 610.2M1270.6 613.8L1271.1 614.2M1273.7 616.1L1274.1 616.4M1283.8 623.9L1284.2 624.3M1295.1 633.1L1295.6 633.4M1298.2 635.6L1298.6 635.9M1300.4 637.3L1300.8 637.6M1306.9 642.4L1307.4 642.7M1312.2 646.3L1312.6 646.7M828.3 698.3L828.8 698.1M1002.4 787.7L1002.9 787.5M849.8 642.8L850.2 642.6M851.1 642.1L851.9 641.7M852.4 641.5L852.8 641.3M859.4 638.3L859.8 638.1M1163.4 837.9L1164.3 838.5M1164.8 838.9L1165.2 839.2M1168.2 841.6L1168.7 841.9M1169.1 842.3L1169.6 842.6M1178.3 849.6L1178.8 850M1187.9 857.4L1188.4 857.8M1201.1 867.4L1201.5 867.8M1203.7 869.3h0M869.4 685L870.3 684.6M870.8 684.3L871.2 684.1M871.6 683.9L872.1 683.7M873.4 683L873.8 682.7M877.3 680.8L877.8 680.6M880.8 678.8L881.2 678.6M889.6 673.6L890 673.3M1047.1 772.5L1047.5 772.4M1051.9 771.2L1052.3 771M1052.8 770.9L1053.2 770.8M1055.8 770.2L1056.2 770.1M907.1 668.2L907.5 667.9M909.7 666.7L910.1 666.4M918.4 661.5L918.9 661.3M1075.9 758L1076.4 758M948.6 690L949.5 689.6M950.4 689.1L950.8 688.9M954.8 687L955.2 686.7M963.9 681.9L964.4 681.7M1127.6 777.1L1128 776.9M1134.1 774.9L1134.6 774.8M989.3 715.7L989.8 715.6M992.4 715.1L992.8 715M995 714.6L995.4 714.5M1002.4 712.8L1002.9 712.7M1153.4 813.4L1153.8 813.1M1156.9 811.2L1157.3 810.9M1161.7 808.3L1162.1 808M1170.9 803.1L1171.8 802.6M1024.5 702.7L1025.4 702.4M1032.8 699.6L1033.3 699.4M1041.6 695.6L1042.5 695.2M1046 693.4L1046.4 693.2M1070 728.1L1070.9 728.2M1072.2 728.2L1072.7 728.2M1074 728.2L1074.4 728.2M1223.6 830.2L1224 829.9M1226.2 828.7L1226.7 828.4M1229.7 826.7L1230.2 826.4M1232.8 824.9L1233.2 824.7M752 819.7L752.4 820M754.6 821.6L755 821.9M757.2 823.5L757.7 823.9M773.8 836.8L774.3 837.1M788.7 849.5L789.2 849.9M794 853.9L794.4 854.3M811.5 866.9L811.9 867.2M1096.3 632.6L1096.7 632.5M945.8 619.5L949.3 622.2M958 629.3L958.5 629.7M966.8 636.6L967.2 636.9M967.7 637.3L968.1 637.7M969.4 638.7L970.3 639.5M1140.2 745.7L1141.1 745.9M1145.9 747.1L1146.4 747.2M1279.8 845.5L1280.7 845.2M855.7 844.4L856.5 845.1M864 850.8L864.4 851.1M1160.2 648.7L1160.6 648.5M1161.5 648L1161.9 647.8M1163.2 647.1L1163.7 646.9M1166.7 645.3L1167.2 645M1168 644.6L1168.5 644.4M1179.8 638.8L1180.3 638.6M1317.7 744.6L1318.1 744.7M1178.3 682L1179.2 681.5M1360.3 768.6L1360.8 768.5M1361.2 768.4L1361.6 768.4M1362.5 768.2L1362.9 768.1M741.2 756.4L741.7 756.4M1210.2 659.9L1210.7 659.7M1223.8 651.8L1224.2 651.6M1361.6 757.2L1362.1 757.1M761.4 760L761.6 760M1214.2 670.1L1214.6 669.8M1218.6 667.5L1219 667.3M1225.1 663.6L1225.6 663.3M803.4 833.5L803.8 833.2M810.8 829.3L811.2 829.1M1284.2 730.8L1284.6 730.8M1295.1 730.9L1295.6 730.9M795.5 747.2L795.9 747.2M1262.8 652.4L1264.1 651.7M1264.5 651.5L1264.9 651.2M1267.1 650L1267.6 649.8M1268.4 649.3L1268.9 649.1M738.6 621.8L739.1 621.8M838.8 708L839.2 708.2M841.4 709.3L841.9 709.5M849.8 713.4L850.2 713.7M852.4 714.7L852.8 715M981.4 796.5L981.9 796.8M1066.8 865.3L1067.2 865.4M1071.6 866.8L1072 866.9M1360.5 621.2L1361 621.2M1361.4 621.2L1361.8 621.3M815.8 622.4L817.2 622.2M1070 793.4L1070.5 793.6M1076.2 797.3L1076.6 797.6M1079.7 799.6L1080.1 799.9M1095.8 811.7L1096.3 812.1M1144 856.1L1144.4 856.4M1158.4 864.4L1158.8 864.6M1161 865.5L1161.5 865.6M1164.1 866.6L1164.5 866.7M1166.3 867.3L1166.7 867.4M1167.2 867.5L1167.6 867.7M744.8 667.4L745.2 667.7M746.1 668.4L746.5 668.8M749.6 671.2L750 671.5M760.1 678.8L760.5 679.1M760.9 679.4L761.4 679.7M765.3 682.3L765.8 682.6M895.9 764.3L896.3 764.5M904.7 768.3L905.1 768.6M906 769L906.4 769.2M1022.3 857.9L1022.8 857.9M1301.5 612.3L1301.9 612.4M1317.7 619.2L1318.1 619.5M1319.4 620.2L1319.8 620.5M1324.7 623.7L1325.1 624M748.2 864.7L748.7 864.9M750.4 865.7L750.9 865.8M1033.5 622.9L1033.9 622.8M1050.1 622.3L1050.6 622.4M1156 712.1L1156.4 712.3M1164.3 716L1164.8 716.2M1288.8 794.4L1289.2 794.7M1290.5 795.5L1291.4 796.1M1298 800.4L1298.4 800.7M1012.3 617.6L1013.2 618.1M1014.9 619.2L1015.3 619.5M1016.2 620.1L1016.7 620.4M1039.8 639.5L1040.3 639.9M1049.5 648.5L1049.9 648.9M1056.5 654.9L1056.9 655.3M1074.4 669.4L1074.8 669.7M1085.8 677.3L1086.7 677.9M1233.4 766.5L1233.9 766.7M1344.1 856.1L1344.6 856M1352.4 854.5L1352.9 854.4M967.2 617.2L967.7 617.3M1046.8 683.5L1047.3 683.8M1198.7 778.9L1199.5 779.4M1293.6 860.1L1294 860.3M1298.4 861.4L1298.8 861.4M1304.1 862.3L1305 862.3" stroke="#ffcc00"/><path d="M819.6 774.3L820 774.1M823.5 773L823.9 772.8M829.2 771.3L829.6 771.1M834 770L834.4 769.9M1280.9 682.6L1281.3 682.4M1288.3 678.5L1288.8 678.2M1296.7 673.5L1297.1 673.2M857.2 808.3L857.6 808.1M862.9 805L863.3 804.7M868.1 802L868.6 801.8M1315.7 714.3L1316.1 714.2M1328.8 711.1L1329.7 710.9M736.4 739.4L736.9 739.5M738.6 739.7L739.1 739.8M743 740.3L743.4 740.4M872.9 842.7L873.4 842.5M879.5 839.7L879.9 839.5M880.4 839.3L880.8 839.1M1363.4 739.2L1363.8 739.3M1364.2 739.3L1364.7 739.4M1366 739.6h0M755.9 725.7L756.3 725.7M758.1 725.7L758.5 725.7M761.2 725.6L761.6 725.6M762 725.6L762.5 725.5M920.8 822.9L921.3 822.7M928.7 818.3L929.2 818.1M929.6 817.8L930 817.6M755.9 639.7L756.3 639.5M763.8 636.3L764.2 636.2M902.9 735.2L903.3 735.3M906.8 736.2L907.3 736.3M1056.2 827.4L1057.1 828M1064.1 833.2L1064.6 833.6M1066.8 835.3L1067.2 835.6M1081.2 846.9L1081.6 847.3M1085.1 850.2L1085.6 850.6M1087.3 852L1087.8 852.4M1093 856.7L1093.4 857M1093.9 857.4L1094.3 857.7M1095.2 858.4L1095.6 858.8M1104.4 865.4L1104.8 865.7M1110.9 869.9L1111.4 870.1M768.6 634.3L769 634.1M773 632.7L773.4 632.5M776 631.7L776.5 631.5M907.7 729.9L908.2 730M1058.4 821.4L1059.3 822M1059.8 822.3L1060.2 822.7M1064.6 825.9L1065 826.3M1065.9 826.9L1066.3 827.3M1070.7 830.7L1071.1 831M1081.6 839.7L1082.1 840.1M1113.1 865.2L1113.6 865.5M1114.4 866L1114.9 866.3M807.1 656.4L807.5 656.1M957.6 759.1L958.5 759M962.2 846L962.6 845.8M1266.7 632.2L1267.1 632.6M1277.2 641.1L1277.6 641.5M1295.6 655.8L1296.4 656.4M1298.2 657.7L1298.6 658M841.4 741.2L841.9 741.3M843.2 741.6L843.6 741.6M979.7 844L980.1 843.8M996.3 836.3L996.8 836.1M1264.5 609.6L1264.9 609.9M1266.2 610.8L1266.7 611.1M1267.1 611.4L1267.6 611.7M1269.3 612.9L1269.8 613.2M1287.7 627.1L1288.1 627.4M1298.6 635.9L1299.1 636.2M1301.7 638.3L1302.1 638.7M1306.1 641.7L1306.5 642.1M1311.3 645.7L1311.8 646M816.9 702.7L817.4 702.6M821.3 701.1L821.8 701M825.2 699.6L825.7 699.4M828.8 698.1L829.2 697.9M987.6 795.2L988 794.9M1003.3 787.3L1004.2 786.9M850.6 642.4L851.1 642.1M853.2 641.1L853.7 640.9M854.1 640.7L854.6 640.5M863.3 636.6L863.8 636.5M869.9 634L870.3 633.9M998.9 738.9L999.4 738.9M1004.2 739.9L1004.6 740M1165.2 839.2L1166.1 839.9M1171.8 844.3L1172.2 844.7M1174.8 846.8L1175.2 847.2M1193.6 861.9L1194.1 862.2M870.3 684.6L870.8 684.3M890.9 672.7L891.3 672.4M1054.9 770.4L1055.8 770.2M912.8 664.9L913.2 664.6M926.8 656.5L927.2 656.3M933.3 652.6L933.8 652.3M1070.2 758.8L1070.7 758.7M1081.2 757.6L1081.6 757.5M1082.9 757.5L1083.4 757.4M949.5 689.6L950.4 689.1M957.8 685.4L958.2 685.1M960.4 683.9L960.9 683.7M1121 779.6L1121.4 779.5M1126.2 777.6L1126.7 777.4M1133.7 775L1134.1 774.9M1134.6 774.8L1135.4 774.5M988.4 715.8L988.9 715.7M1160.4 809.1L1160.8 808.8M1163 807.5L1163.4 807.3M1165.6 806L1166.5 805.5M1168.7 804.3L1169.1 804M1169.6 803.8L1170 803.5M1025.4 702.4L1026.3 702M1039 696.9L1039.4 696.7M1191.7 797.4L1192.1 797.1M1212.7 786.6L1213.1 786.4M1081.4 728L1081.8 728M1235.4 823.4L1235.8 823.1M1242 819.6L1242.4 819.4M753.3 820.7L754.6 821.6M772.1 835.3L772.5 835.7M773 836L773.4 836.4M780.8 842.7L781.3 843.1M798.3 857.4L798.8 857.8M808.8 865.2L809.3 865.5M814.5 868.8L815 869M1103.7 630.3L1104.2 630.1M1237.6 731.4L1238 731.5M1239.3 731.9h0M949.3 622.2L950.6 623.2M951.5 623.9L951.9 624.3M952.3 624.6L953.2 625.4M953.7 625.7L954.1 626.1M954.5 626.4L956.3 627.9M957.2 628.6L958 629.3M959.3 630.4L962.4 632.9M962.8 633.3L964.6 634.8M965 635.1L965.5 635.5M965.9 635.9L966.8 636.6M1141.1 745.9L1141.6 746M1145.1 746.9L1145.5 747M1278.9 845.9L1279.4 845.7M857 845.4L858.3 846.4M860.9 848.4L861.3 848.8M867.5 853.6L867.9 853.9M871.8 857L872.3 857.3M873.2 858L873.6 858.4M881.5 864.5L881.9 864.8M1179.6 681.3L1180.1 681M1189.2 675.9L1189.7 675.6M1199.8 669.4L1200.2 669.1M1355.1 769.9L1355.5 769.8M1359 768.9L1359.4 768.8M1362.1 768.3L1362.5 768.2M736.9 756.8L737.3 756.7M739.1 756.6L739.5 756.5M1211.1 659.4L1212.4 658.6M1212.9 658.4L1213.3 658.1M1220.8 653.7L1221.2 653.4M1214.6 669.8L1215.1 669.5M1215.5 669.3L1215.9 669M809.5 830.1L809.9 829.8M1284.6 730.8L1285.1 730.8M1268 649.5L1268.4 649.3M1271.9 647.4L1272.4 647.2M1276.8 644.9L1277.2 644.7M829.6 703L830.5 703.5M851.1 714.1L851.5 714.3M851.9 714.5L852.4 714.7M970.9 789.9L971.4 790.1M973.6 791.5L974 791.8M984.5 798.5L984.9 798.8M993.7 805.1L994.1 805.4M1064.6 864.4L1065 864.6M1355.7 621.2L1356.2 621.2M1359.7 621.2L1360.1 621.2M827.2 621.7L827.7 621.7M923.9 703.9L924.3 704.2M929.2 706.8L929.6 707.1M941.4 713L941.8 713.2M945.3 714.9L945.8 715.1M1071.3 794.2L1072.2 794.7M1087.1 804.8L1087.5 805.2M1149.2 859.6L1149.7 859.9M1151.8 861.1L1152.3 861.4M1154 862.3L1154.5 862.5M1168 867.8h0M758.3 677.6L758.8 677.9M763.6 681.1L764 681.4M766.6 683.1L767.1 683.4M767.9 684L768.4 684.3M1013.2 858.4L1013.6 858.4M1014.9 858.4L1015.3 858.4M1024.1 857.7L1024.5 857.6M1025.4 857.5L1026.3 857.4M1301.9 612.4L1302.3 612.5M1313.3 616.9L1313.7 617.1M742.6 861.9L743 862.2M745.2 863.3L745.6 863.5M747.4 864.3L747.8 864.5M753.1 866.6L753.5 866.8M1036.6 622.5L1037 622.4M1052.3 622.6L1052.8 622.6M1163.9 715.8L1164.3 716M1289.7 795L1290.5 795.5M1292.7 796.9L1293.2 797.2M1297.5 800.1L1298 800.4M1301.5 802.8L1301.9 803.1M1306.3 806.3L1306.7 806.6M1315 813.2L1315.5 813.6M999.2 611.3L999.6 611.4M1000 611.6L1000.5 611.8M1010.5 616.6L1011 616.8M1018 621.2L1018.4 621.5M1020.6 623.1L1021 623.4M1032.4 632.7L1033.3 633.5M1038.1 637.9L1038.5 638.3M1060.4 658.3L1060.8 658.7M1075.7 670.4L1076.2 670.7M1077 671.3L1077.5 671.6M1084 676.2L1084.5 676.5M1084.9 676.8L1085.3 677.1M1227.3 763.8L1227.8 764M1235.2 767.3L1235.6 767.5M1337.1 856.7L1337.6 856.7M1347.2 855.6L1347.6 855.5M1348.1 855.4L1348.5 855.3M966.3 617L967.2 617.2M977.7 620.9L978.2 621.1M1042.9 680.5L1043.3 680.8M1060 692.3L1061.3 693.1M1204.8 782.4L1205.2 782.6" stroke="#ffff00"/><path d="M820.4 774L820.9 773.8M830.5 770.9L830.9 770.8M832.7 770.4L833.1 770.2M833.6 770.1L834 770M1279.2 683.5L1279.6 683.3M862.4 805.2L862.9 805M866.8 802.8L867.2 802.5M867.7 802.3L868.1 802M1315.2 714.4L1315.7 714.3M1316.1 714.2L1316.6 714.2M1318.8 713.7L1319.2 713.6M736 739.3L736.4 739.4M741.7 740.2L742.1 740.2M878.2 840.3L878.6 840.1M879.1 839.9L879.5 839.7M1364.7 739.4L1365.1 739.5M757.7 725.7L758.1 725.7M765.5 725.4L766 725.3M927.8 818.9L928.3 818.6M755.5 639.9L755.9 639.7M778.7 631L779.1 630.9M1057.1 828L1058 828.6M1062.8 832.2L1063.2 832.6M1074.6 841.5L1075.1 841.9M1079 845.1L1079.4 845.5M770.3 633.6L770.8 633.5M909.9 730.6L910.3 730.7M913.4 731.6L913.8 731.8M1060.6 823L1061.9 824M1079.9 838.2L1080.3 838.6M1092.6 849.1L1093 849.5M1116.2 867.2L1116.6 867.5M797.5 662.2L798.8 661.4M799.2 661.2L799.7 660.9M952.3 759.7L952.8 759.6M956.7 759.2L957.2 759.1M828.3 751.9L828.8 752M956.1 848.2L956.5 848.1M956.9 847.9L957.4 847.8M959.1 847.1L959.6 847M960.4 846.7L960.9 846.5M1237.8 610.7L1238.2 611M1238.7 611.2L1239.6 611.8M1244.8 615.1L1245.2 615.4M1262.3 628.5L1262.8 628.9M1274.6 638.9L1275 639.3M1278.1 641.8L1278.5 642.2M1286.8 649L1287.2 649.4M1294.7 655.1L1295.6 655.8M839.7 740.9L840.1 741M977.5 844.9L977.9 844.8M995.4 836.8L995.9 836.5M1262.3 608.2L1262.8 608.5M1275 617.1L1275.4 617.4M1276.3 618.1L1276.8 618.4M1278.1 619.4L1278.5 619.8M1280.7 621.5L1281.1 621.8M1287.2 626.7L1287.7 627.1M1288.6 627.8L1289.4 628.5M1296.9 634.5L1297.3 634.9M1303.4 639.7L1303.9 640M1305.6 641.4L1306.1 641.7M817.4 702.6L818.7 702.1M826.1 699.2L826.6 699M989.3 794.2L989.8 794M1001.1 788.3L1001.6 788.1M1002 787.9L1002.4 787.7M855.9 639.9L856.3 639.7M1000.7 739.2L1001.1 739.3M1003.3 739.7L1003.8 739.8M1167.4 840.9L1168.2 841.6M1172.2 844.7L1172.6 845M1182.7 853.2L1183.1 853.5M1188.8 858.1L1189.2 858.5M1190.1 859.2L1190.6 859.5M1196.2 863.9L1196.7 864.2M1200.6 867.1L1201.1 867.4M1201.5 867.8L1201.9 868.1M1202.4 868.4L1203.2 869M872.1 683.7L872.5 683.4M885.6 676L886.1 675.7M1040.5 774.7L1040.9 774.5M1047.9 772.2L1048.4 772.1M1053.6 770.7L1054.1 770.6M908.4 667.4L908.8 667.2M909.2 666.9L909.7 666.7M955.2 686.7L955.6 686.5M965.7 680.9L966.1 680.7M989.8 715.6L990.2 715.5M996.8 714.2L997.2 714.1M999.8 713.5L1000.2 713.4M1006.4 711.6L1006.8 711.5M1169.1 804L1169.6 803.8M1026.3 702L1027.2 701.7M1036.8 697.9L1037.2 697.7M1211.3 787.2L1211.8 787M1215.3 834.9L1215.7 834.7M1221 831.7L1221.4 831.5M1240.7 820.4L1242 819.6M755.5 822.2L755.9 822.6M774.3 837.1L774.7 837.5M785.7 846.9L786.1 847.2M789.6 850.2L790 850.6M796.6 856L797 856.4M812.3 867.4L812.8 867.7M813.7 868.3L814.1 868.5M815.8 869.5L816.7 870.1M817.2 870.3L817.6 870.5M1093.7 633.6L1095 633.1M1099.8 631.5L1100.2 631.3M1102.8 630.5L1103.3 630.4M1110.7 628.5L1111.2 628.4M1231.5 729.4L1231.9 729.6M1235.4 730.7L1235.8 730.8M1142 746.1L1142.9 746.4M1144.2 746.7L1144.6 746.8M858.7 846.7L860 847.7M860.5 848.1L860.9 848.4M876.7 860.8L877.1 861.1M1158 649.9L1159.3 649.2M1176.8 640.3L1177.2 640.1M1184.2 636.8L1184.4 636.8M1309.3 743.7L1309.8 743.8M1180.1 681L1180.5 680.8M1180.9 680.6L1181.4 680.3M1183.6 679.1L1184 678.9M1190.6 675.1L1191 674.8M1212.4 658.6L1212.9 658.4M755.2 760.7L755.7 760.6M1216.4 668.8L1217.2 668.3M1238.7 655.2L1239.1 654.9M808.2 830.8L809.1 830.3M1285.9 730.9L1286.8 730.9M787.6 746.7L788.1 746.7M790.7 746.8L791.1 746.9M796.4 747.3L797.2 747.4M1265.8 650.7L1266.2 650.5M1272.4 647.2L1272.8 647M1273.7 646.5L1274.1 646.3M736.4 621.5L736.9 621.5M849.3 713.2L849.8 713.4M851.5 714.3L851.9 714.5M987.1 800.3L987.6 800.6M988.4 801.2L988.9 801.5M989.8 802.2L990.2 802.5M1072 866.9L1072.4 867M1348.7 621.7L1349.2 621.7M1355.3 621.2L1355.7 621.2M1359.2 621.2L1359.7 621.2M817.6 622.1L818.9 622M819.8 621.9L820.2 621.9M823.7 621.7L824.2 621.7M943.6 714L944 714.2M1072.7 795L1073.5 795.6M1154.5 862.5L1154.9 862.8M1158.8 864.6L1159.3 864.8M895.5 764.1L895.9 764.3M896.3 764.5L896.8 764.7M900.3 766.3L900.7 766.5M1024.5 857.6L1025.4 857.5M1303.2 612.8L1303.7 612.9M1304.1 613.1L1304.5 613.2M1307.6 614.4L1308 614.5M1308.9 614.9L1309.3 615.1M1150.3 709.3L1150.8 709.5M1159.5 713.8L1159.9 714M1162.1 715L1163.4 715.6M1291.4 796.1L1292.7 796.9M1293.2 797.2L1293.6 797.5M1297.1 799.8L1297.5 800.1M1313.7 812.1L1314.2 812.5M1318.1 815.8L1318.5 816.2M1000.5 611.8L1001.8 612.3M1011 616.8L1011.4 617.1M1072.7 668.1L1073.1 668.5M1073.5 668.8L1074 669.1M1079.2 672.9L1080.1 673.5M1082.7 675.3L1083.2 675.6M1219.4 760.5L1219.9 760.6M1224.2 762.5L1224.7 762.7M1232.6 766.1L1233 766.3M1351.1 854.8L1351.6 854.7M967.7 617.3L968.1 617.4M1048.2 684.4L1048.6 684.8M1049.9 685.7L1050.3 686M1058.7 691.5L1060 692.3M1201.3 780.3L1201.7 780.6M1205.2 782.6L1205.7 782.9M1298.8 861.4L1299.3 861.5M1301.9 862L1303.2 862.2" stroke="#ccff00"/><path d="M830.9 770.8L831.8 770.6M832.2 770.5L832.7 770.4M1280.5 682.8L1280.9 682.6M1281.3 682.4L1281.8 682.1M1282.2 681.9L1282.7 681.7M1291.8 676.4L1292.3 676.2M860.2 806.5L860.7 806.2M864.6 804L865.5 803.5M1317 714.1L1317.4 714M1317.9 713.9L1318.3 713.8M1329.7 710.9L1330.1 710.7M736.9 739.5L738.6 739.7M739.9 739.9L740.4 740M876 841.3L878.2 840.3M1365.1 739.5L1366 739.6M759.4 725.6L759.8 725.6M761.6 725.6L762 725.6M767.3 725.2L767.7 725.2M924.8 820.6L925.2 820.4M926.5 819.6L927 819.4M756.3 639.5L756.8 639.3M764.2 636.2L764.7 636M770.3 633.8L770.8 633.6M892.8 732.9L893.3 733M1059.3 829.6L1059.8 829.9M1064.6 833.6L1065 833.9M1065.9 834.6L1066.3 834.9M1067.6 835.9L1068.1 836.3M1071.6 839.1L1072 839.4M1080.8 846.6L1081.2 846.9M1104.8 865.7L1105.2 866M770.8 633.5L772.1 633M776.5 631.5L776.9 631.4M777.3 631.3L777.8 631.1M902.5 728.3L902.9 728.4M903.8 728.7L904.2 728.8M910.8 730.8L911.2 731M913 731.5L913.4 731.6M913.8 731.8L914.3 731.9M1063.7 825.3L1064.1 825.6M1072.4 832.1L1072.9 832.4M1074.2 833.5L1074.6 833.9M1082.9 840.8L1083.4 841.2M1110.9 863.7L1111.4 864M1117.1 867.7L1117.5 868M798.8 661.4L799.2 661.2M800.1 660.6L801 660.1M955 759.4L955.8 759.2M956.3 759.2L956.7 759.2M816.1 748.3L816.5 748.4M816.9 748.6L817.4 748.7M942.5 852.2L942.9 852.1M951.2 849.8L951.7 849.7M959.6 847L960.4 846.7M1239.6 611.8L1240 612M1240.4 612.3L1241.3 612.8M1242.2 613.4L1243.1 614M1246.6 616.3L1247 616.6M1258.4 625.3L1258.8 625.6M1267.6 632.9L1268 633.3M1271.9 636.7L1272.4 637M1272.8 637.4L1273.2 637.8M1276.8 640.7L1277.2 641.1M1290.8 652.1L1292.1 653.1M1292.5 653.5L1293.4 654.1M976.6 845.3L977.1 845.1M978.4 844.6L978.8 844.4M994.1 837.4L994.6 837.2M995 837L995.4 836.8M1263.2 608.7L1264.5 609.6M1307.8 643.1L1308.2 643.4M1308.7 643.7L1309.1 644.1M1309.6 644.4L1310 644.7M818.7 702.1L820.4 701.5M822.6 700.6L823.1 700.4M990.2 793.7L990.6 793.5M993.7 791.9L994.1 791.7M999.8 788.9L1000.2 788.7M1000.7 788.5L1001.1 788.3M1001.6 788.1L1002 787.9M852.8 641.3L853.2 641.1M853.7 640.9L854.1 640.7M856.8 639.5L857.2 639.3M862 637.2L862.9 636.8M995.9 738.3L996.3 738.4M1004.6 740L1004.8 740M1171.3 844L1171.8 844.3M1172.6 845L1174.8 846.8M1175.2 847.2L1177.9 849.3M1186.6 856.4L1187.1 856.7M1193.2 861.6L1193.6 861.9M1194.1 862.2L1194.5 862.6M1194.9 862.9L1195.4 863.2M1195.8 863.6L1196.2 863.9M1196.7 864.2L1197.1 864.6M1198 865.2L1198.9 865.9M1199.3 866.2L1199.8 866.5M872.9 683.2L873.4 683M874.2 682.5L874.7 682.3M1053.2 770.8L1053.6 770.7M908.8 667.2L909.2 666.9M931.1 653.9L931.6 653.6M1072.4 758.4L1072.9 758.4M1077.7 757.8L1078.1 757.8M1082.5 757.5L1082.9 757.5M951.7 688.5L952.1 688.3M953 687.8L953.9 687.4M956.5 686.1L956.9 685.8M1124.1 778.4L1124.5 778.2M1132.8 775.3L1133.7 775M990.6 715.4L992.4 715.1M1166.5 805.5L1168.2 804.5M1027.6 701.6L1028.5 701.3M1028.9 701.1L1029.3 700.9M1032.4 699.7L1032.8 699.6M1037.2 697.7L1037.7 697.5M1203 791.1L1203.5 790.9M1203.9 790.7L1204.3 790.4M1204.8 790.2L1205.2 790M1208.7 788.3L1209.6 787.9M1210 787.7L1210.9 787.3M1239.8 820.9L1240.7 820.4M757.7 823.9L759.4 825.2M759.8 825.5L760.7 826.2M762 827.2L762.5 827.5M764.2 828.9L764.7 829.2M768.6 832.4L769.5 833.1M771.7 834.9L772.1 835.3M793.1 853.2L793.5 853.5M812.8 867.7L813.2 868M815 869L815.8 869.5M1095 633.1L1096.3 632.6M1231 729.3L1231.5 729.4M1237.2 731.2L1237.6 731.4M1143.8 746.6L1144.2 746.7M1275.4 847.2L1276.3 846.9M1277.2 846.5L1277.6 846.4M860 847.7L860.5 848.1M861.3 848.8L863.1 850.1M1160.6 648.5L1161 648.2M1169.3 643.9L1169.8 643.7M1178.5 639.4L1179 639.2M1310.2 743.8L1310.7 743.9M1316.8 744.5L1317.2 744.6M1181.4 680.3L1183.6 679.1M1189.7 675.6L1190.1 675.3M1359.4 768.8L1360.3 768.6M739.5 756.5L740.8 756.4M1213.8 657.8L1214.2 657.6M1214.6 657.3L1215.1 657.1M1215.5 656.8L1215.9 656.5M760.9 760L761.4 760M1217.2 668.3L1218.6 667.5M806.4 831.8L806.9 831.5M807.3 831.3L808.2 830.8M1286.8 730.9L1287.7 730.9M1288.1 730.9L1288.6 730.9M797.2 747.4L798.1 747.5M1266.7 650.3L1267.1 650M1269.8 648.6L1270.2 648.4M840.1 708.7L840.6 708.9M850.2 713.7L850.6 713.9M972.2 790.7L973.1 791.2M977.5 793.9L977.9 794.2M997.2 807.8L997.6 808.1M1053.2 858.6L1053.6 858.9M1073.8 867.4h0M1349.2 621.7L1350.5 621.5M1353.5 621.3L1354.4 621.2M1356.6 621.2L1357 621.2M818.9 622L819.8 621.9M820.2 621.9L820.7 621.9M928.7 706.6L929.2 706.8M941.8 713.2L942.7 713.6M1074 795.9L1074.4 796.1M1075.7 797L1076.2 797.3M1077 797.9L1077.5 798.1M1147.5 858.5L1147.9 858.8M1164.5 866.7L1165 866.9M1165.4 867L1166.3 867.3M759.2 678.2L759.6 678.5M763.1 680.8L763.6 681.1M764 681.4L764.9 682M897.7 765.1L898.5 765.5M1023.7 857.7L1024.1 857.7M1304.5 613.2L1305 613.4M1305.4 613.5L1306.3 613.9M1314.2 617.3L1314.6 617.5M743.4 862.4L743.9 862.6M754.4 867.1L754.8 867.2M755.2 867.4L755.7 867.5M1037 622.4L1038.3 622.3M1047.5 622.1L1047.9 622.2M1160.4 714.2L1160.8 714.4M1161.2 714.6L1162.1 715M1293.6 797.5L1294.9 798.4M1310.7 809.6L1311.1 810M1311.5 810.3L1312 810.7M1001.8 612.3L1002.7 612.7M1003.5 613.1L1004 613.3M1007 614.7L1007.5 614.9M1011.8 617.3L1012.3 617.6M1015.8 619.8L1016.2 620.1M1067 663.7L1067.4 664.1M1071.3 667.1L1071.8 667.5M1080.1 673.5L1081.4 674.4M1081.8 674.7L1082.7 675.3M1218.1 759.9L1219.4 760.5M1219.9 760.6L1220.3 760.8M1228.6 764.4L1229.1 764.6M1336.7 856.8L1337.1 856.7M1341.1 856.4L1341.5 856.4M1345.9 855.8L1346.3 855.7M1348.5 855.3L1349.4 855.1M969 617.7L969.4 617.8M969.8 617.9L970.7 618.2M976 620.1L976.4 620.3M977.3 620.7L977.7 620.9M1049.5 685.4L1049.9 685.7M1056.5 690.1L1058.7 691.5M1201.7 780.6L1203.9 781.9M1300.2 861.7L1301.9 862" stroke="#99ff00"/><path d="M827.4 771.7L827.9 771.6M830.1 771L830.5 770.9M1282.7 681.7L1283.1 681.4M1283.5 681.2L1284.4 680.7M1284.8 680.5L1285.3 680.2M1287.5 679L1287.9 678.7M855.4 809.4L855.9 809.1M857.6 808.1L858.1 807.8M862 805.5L862.4 805.2M863.3 804.7L864.6 804M1318.3 713.8L1318.8 713.7M1319.2 713.6L1320.5 713.3M739.1 739.8L739.9 739.9M740.4 740L740.8 740M873.8 842.3L875.6 841.5M760.3 725.6L761.2 725.6M769.5 725L769.9 725M921.7 822.4L922.2 822.2M923 821.7L923.5 821.4M923.9 821.2L924.8 820.6M758.1 638.8L758.5 638.6M761.6 637.3L762 637.1M904.2 735.5L904.7 735.6M909 736.7L909.2 736.8M1061.1 830.9L1061.9 831.6M1086.9 851.7L1087.3 852M1089.9 854.2L1090.4 854.5M1093.4 857L1093.9 857.4M1110.5 869.6L1110.9 869.9M774.3 632.2L775.2 632M902.9 728.4L903.3 728.6M911.2 731L912.1 731.2M1066.8 827.6L1068.1 828.6M1069.4 829.7L1070.2 830.3M1077.2 836L1077.7 836.4M1081.2 839.4L1081.6 839.7M1091.7 848.3L1092.1 848.7M1099.6 854.9L1100 855.3M1112.7 864.9L1113.1 865.2M1113.6 865.5L1114.4 866M1114.9 866.3L1116.2 867.2M1116.6 867.5L1117.1 867.7M801.4 659.8L802.3 659.3M803.2 658.8L803.6 658.5M805.8 657.2L806.2 656.9M952.8 759.6L953.7 759.5M954.1 759.5L955 759.4M817.8 748.8L819.1 749.2M819.6 749.3L820 749.5M951.7 849.7L952.6 849.4M956.5 848.1L956.9 847.9M957.4 847.8L957.8 847.6M1243.5 614.2L1244.4 614.8M1246.1 616L1246.6 616.3M1261.9 628.1L1262.3 628.5M1268 633.3L1268.4 633.7M1286.4 648.7L1286.8 649M1287.2 649.4L1287.7 649.7M1288.1 650.1L1288.6 650.4M1289 650.8L1290.3 651.8M847.6 742.3L848 742.4M970.9 847.5L971.4 847.3M992.8 838L993.7 837.6M1265.4 610.2L1265.8 610.5M1266.7 611.1L1267.1 611.4M1277.6 619.1L1278.1 619.4M1296 633.8L1296.4 634.1M1304.8 640.7L1305.6 641.4M1306.5 642.1L1306.9 642.4M1307.4 642.7L1307.8 643.1M820.4 701.5L820.9 701.3M821.8 701L822.2 700.8M998.1 789.7L998.9 789.3M854.6 640.5L855.9 639.9M856.3 639.7L856.8 639.5M860.7 637.8L861.1 637.6M1002 739.5L1002.4 739.5M1002.9 739.6L1003.3 739.7M1178.8 850L1179.6 850.7M1180.1 851.1L1182.7 853.2M1183.1 853.5L1184.9 855M1185.3 855.3L1186.6 856.4M1187.1 856.7L1187.9 857.4M1189.7 858.8L1190.1 859.2M1190.6 859.5L1191.4 860.2M1191.9 860.5L1192.8 861.2M875.1 682L876.4 681.3M876.9 681.1L877.3 680.8M886.1 675.7L886.5 675.5M1049.7 771.7L1050.1 771.6M1050.6 771.5L1051 771.4M910.1 666.4L910.6 666.2M935.1 651.5L935.5 651.2M1079 757.7L1079.4 757.7M954.3 687.2L954.8 687M1124.5 778.2L1124.9 778.1M1130.6 776L1131.9 775.6M993.7 714.9L994.1 714.8M1163.4 807.3L1164.3 806.8M1029.3 700.9L1031.5 700.1M1202.6 791.3L1203 791.1M1206.5 789.4L1207.4 789M1207.8 788.8L1208.7 788.3M1076.6 728.2L1077 728.1M1084 727.8L1084.5 727.8M760.7 826.2L761.6 826.9M762.5 827.5L763.3 828.2M763.8 828.6L764.2 828.9M769.5 833.1L769.9 833.5M770.8 834.2L771.2 834.6M779.5 841.6L780 842M787.4 848.4L787.8 848.7M809.3 865.5L809.7 865.7M810.6 866.3L811 866.6M811.9 867.2L812.3 867.4M1097.2 632.3L1097.6 632.2M1098.5 631.9L1098.9 631.7M1105.5 629.8L1105.9 629.7M1107.2 629.3L1107.7 629.2M1225.3 727.6L1225.8 727.7M1234.5 730.4L1235.4 730.7M1235.8 730.8L1236.3 730.9M1144.6 746.8L1145.1 746.9M1146.4 747.2L1146.8 747.3M1273.2 848L1273.7 847.8M1274.1 847.6L1275 847.3M863.5 850.5L864 850.8M864.4 851.1L867 853.2M868.3 854.2L869.2 854.9M881 864.2L881.5 864.5M881.9 864.8L882.1 865M1159.7 648.9L1160.2 648.7M1184 678.9L1185.3 678.1M1357.2 769.3L1357.7 769.2M737.3 756.7L738.6 756.6M1215.9 656.5L1218.6 655M1365.6 756.7L1366 756.7M758.8 760.2L759.2 760.2M759.6 760.2L760.9 760M1219.4 667L1219.9 666.7M1220.3 666.5L1222.1 665.4M803.8 833.2L804.2 833M804.7 832.7L805.6 832.2M1288.6 730.9L1290.3 730.9M795.1 747.2L795.5 747.2M795.9 747.2L796.4 747.3M1270.2 648.4L1271.1 647.9M844.5 710.9L844.9 711.1M974.4 792L974.9 792.3M976.6 793.4L977.1 793.7M998.5 808.9L998.9 809.2M1052.8 858.3L1053.2 858.6M1350.5 621.5L1350.9 621.5M1352.2 621.4L1352.7 621.3M820.7 621.9L822.8 621.8M940.1 712.3L940.5 712.5M1077.5 798.1L1078.8 799M1084.9 803.3L1085.3 803.6M1162.3 866L1164.1 866.6M750.4 671.9L750.9 672.2M760.5 679.1L760.9 679.4M761.8 680L762.7 680.6M898.5 765.5L899.4 765.9M899.8 766.1L900.3 766.3M903.8 767.9L904.2 768.1M1020.2 858.1L1020.6 858.1M1021 858.1L1021.9 858M1306.7 614L1307.6 614.4M1308.5 614.7L1308.9 614.9M1311.1 615.8L1311.5 616M751.3 866L753.1 866.6M753.5 866.8L753.9 867M1038.3 622.3L1039.6 622.2M1040.1 622.2L1040.5 622.2M1146.4 707.2L1146.8 707.5M1151.6 709.9L1152.1 710.2M1158.6 713.3L1159.5 713.8M1295.8 798.9L1296.2 799.2M1296.7 799.5L1297.1 799.8M1004 613.3L1005.7 614.1M1006.2 614.3L1007 614.7M1010.1 616.3L1010.5 616.6M1076.6 671L1077 671.3M1077.5 671.6L1077.9 672M1078.3 672.3L1079.2 672.9M1220.3 760.8L1220.8 761M1221.2 761.2L1221.6 761.4M1225.6 763L1226 763.2M1335.4 856.8L1335.8 856.8M1346.3 855.7L1347.2 855.6M1347.6 855.5L1348.1 855.4M970.7 618.2L971.2 618.3M971.6 618.5L972.9 618.9M1054.3 688.7L1055.2 689.3M1203.9 781.9L1204.8 782.4M1205.7 782.9L1206.5 783.4M1298 861.3L1298.4 861.4M1299.3 861.5L1300.2 861.7" stroke="#66ff00"/><path d="M826.6 772L827.4 771.7M827.9 771.6L829.2 771.3M1285.3 680.2L1286.2 679.7M1286.6 679.5L1287 679.2M1287.9 678.7L1288.3 678.5M1291 676.9L1291.4 676.7M858.9 807.3L860.2 806.5M861.1 806L862 805.5M1320.5 713.3L1321.4 713.1M1321.8 713L1322.7 712.8M740.8 740L741.7 740.2M742.1 740.2L743 740.3M870.8 843.7L872.1 843.1M873.4 842.5L873.8 842.3M762.5 725.5L764.2 725.4M919.1 824L920 823.5M920.4 823.2L920.8 822.9M758.5 638.6L759 638.4M759.4 638.2L759.8 638M760.3 637.8L760.7 637.6M762 637.1L762.5 636.9M766 635.5L766.4 635.3M1062.4 831.9L1062.8 832.2M1063.2 832.6L1063.7 832.9M1077.2 843.7L1077.7 844.1M1088.6 853.1L1089.1 853.5M1099.6 861.8L1100 862.2M1101.3 863.1L1101.8 863.5M1110.1 869.3L1110.5 869.6M1111.4 870.1h0M775.2 632L775.6 631.8M776.9 631.4L777.3 631.3M780.8 630.2L781.3 630.1M908.6 730.2L909.9 730.6M1070.2 830.3L1070.7 830.7M1071.6 831.4L1072.4 832.1M1073.3 832.8L1074.2 833.5M1074.6 833.9L1077.2 836M1106.6 860.5L1107.4 861.1M1107.9 861.4L1110.1 863M1111.4 864L1111.8 864.3M804 658.3L805.8 657.2M806.2 656.9L806.7 656.6M950.6 760L952.3 759.7M820.4 749.6L821.3 749.9M821.8 750L822.6 750.2M828.8 752L829.2 752.1M953.4 849.1L955.6 848.4M1247.9 617.2L1249.6 618.5M1250.5 619.1L1253.1 621.1M1253.6 621.5L1254.9 622.5M1255.8 623.2L1256.2 623.5M1278.5 642.2L1279.8 643.3M1280.7 644L1282 645.1M1282.4 645.5L1283.3 646.2M1283.8 646.6L1285.5 648M1285.9 648.3L1286.4 648.7M848.4 742.5L848.9 742.6M984.1 842.1L984.5 841.9M988 840.3L988.4 840.1M991.5 838.7L992.8 838M1267.6 611.7L1268 612M1268.9 612.6L1269.3 612.9M1269.8 613.2L1270.2 613.5M1274.6 616.7L1275 617.1M1283.3 623.6L1283.8 623.9M1300.8 637.6L1301.7 638.3M1303 639.4L1303.4 639.7M1303.9 640L1304.3 640.4M823.1 700.4L824.8 699.7M995 791.2L997.6 789.9M857.2 639.3L859.4 638.3M859.8 638.1L860.2 637.9M990.2 737.3L990.6 737.4M999.8 739L1000.7 739.2M1001.1 739.3L1001.6 739.4M878.2 680.3L880.4 679.1M1048.4 772.1L1048.8 772M1049.2 771.9L1049.7 771.7M912.3 665.1L912.8 664.9M916.7 662.6L917.1 662.3M921.9 659.4L922.4 659.2M1077.2 757.9L1077.7 757.8M956.1 686.3L956.5 686.1M957.4 685.6L957.8 685.4M958.7 684.9L959.1 684.6M969.6 678.5L970.1 678.3M1128 776.9L1128.4 776.8M1128.9 776.6L1129.8 776.3M994.1 714.8L995 714.6M995.4 714.5L996.3 714.3M1158.2 810.4L1158.6 810.1M1160.8 808.8L1161.7 808.3M1162.1 808L1162.6 807.8M1031.5 700.1L1032.4 699.7M1033.3 699.4L1034.2 699M1203.5 790.9L1203.9 790.7M1205.2 790L1206.5 789.4M1068.7 728.1L1069.2 728.1M1225.3 829.2L1225.8 828.9M1229.3 826.9L1229.7 826.7M1236.7 822.6L1238.5 821.6M765.5 829.9L766.4 830.6M766.8 831L767.3 831.3M767.7 831.7L768.6 832.4M769.9 833.5L770.8 834.2M771.2 834.6L771.7 834.9M802.3 860.5L806.2 863.4M806.7 863.7L808.4 864.9M1100.2 631.3L1102 630.8M1231.9 729.6L1232.3 729.7M1232.8 729.9L1233.2 730M1146.8 747.3L1148.6 747.7M1149 747.8L1149.4 747.9M1270.6 848.8L1271.1 848.7M1271.5 848.6L1273.2 848M869.7 855.3L871.4 856.7M872.3 857.3L872.7 857.7M874 858.7L874.9 859.4M875.3 859.8L875.8 860.1M877.1 861.1L877.5 861.5M878.8 862.5L881 864.2M1161.9 647.8L1162.8 647.3M1177.7 639.9L1178.1 639.6M1316.3 744.5L1316.8 744.5M1186.2 677.6L1186.6 677.4M1187.1 677.1L1188.8 676.1M1355.5 769.8L1355.9 769.7M1356.4 769.6L1356.8 769.4M736 756.9L736.4 756.8M1218.6 655L1219.9 654.2M1220.3 653.9L1220.8 653.7M1221.2 653.4L1221.6 653.1M1363.4 757L1365.1 756.8M757 760.5L758.8 760.2M1222.1 665.4L1222.5 665.2M1224.2 664.1L1224.7 663.9M800.3 835.1L802.1 834.2M802.5 833.9L803.4 833.5M1290.3 730.9L1291.2 730.9M1291.6 730.9L1292.5 730.9M792.4 747L795.1 747.2M1271.5 647.7L1271.9 647.4M1272.8 647L1273.7 646.5M1278.5 644L1278.9 643.8M846.2 711.7L846.7 711.9M848 712.6L848.9 713M974.9 792.3L975.3 792.6M975.8 792.8L976.6 793.4M1060.2 862.5L1060.6 862.7M1067.6 865.6L1068.1 865.7M1072.4 867L1073.3 867.3M1351.3 621.4L1351.8 621.4M1352.7 621.3L1353.1 621.3M822.8 621.8L823.7 621.7M824.2 621.7L825.9 621.7M936.2 710.4L937.9 711.3M938.3 711.5L939.2 711.9M1078.8 799L1079.7 799.6M1080.1 799.9L1082.3 801.4M1083.2 802L1083.6 802.3M1092.3 808.9L1092.8 809.2M1100.7 815.8L1101.1 816.2M1159.3 864.8L1160.6 865.3M1161.5 865.6L1162.3 866M748.2 670.2L748.7 670.5M753.1 673.8L753.5 674.1M756.1 676L758.3 677.6M758.8 677.9L759.2 678.2M901.6 766.9L903.8 767.9M1017.5 858.3L1018.8 858.2M1019.7 858.2L1020.2 858.1M1309.3 615.1L1311.1 615.8M1311.5 616L1312 616.2M748.7 864.9L750 865.5M750.9 865.8L751.3 866M1040.9 622.1L1043.1 622.1M1048.8 622.2L1049.2 622.2M1155.1 711.7L1156 712.1M1156.4 712.3L1157.8 712.9M1298.4 800.7L1301.5 802.8M1303.2 804.1L1303.7 804.4M1007.5 614.9L1010.1 616.3M1019.7 622.5L1020.2 622.8M1061.3 659.1L1061.7 659.4M1068.3 664.8L1068.7 665.1M1073.1 668.5L1073.5 668.8M1074 669.1L1074.4 669.4M1074.8 669.7L1075.7 670.4M1076.2 670.7L1076.6 671M1221.6 761.4L1222.9 761.9M1223.4 762.1L1224.2 762.5M1341.9 856.3L1342.4 856.3M1343.7 856.1L1344.1 856.1M1344.6 856L1345.9 855.8M972.9 618.9L976 620.1M1051.2 686.6L1051.7 686.9M1052.1 687.2L1052.5 687.5M1206.5 783.4L1207 783.7M1207.4 783.9L1208.3 784.5M1208.7 784.7L1209.6 785.3M1294.9 860.5L1296.7 861M1297.1 861.1L1298 861.3" stroke="#33ff00"/><path d="M823.9 772.8L826.6 772M1288.8 678.2L1289.2 678M1289.7 677.7L1291 676.9M855 809.7L855.4 809.4M855.9 809.1L857.2 808.3M858.5 807.5L858.9 807.3M1322.7 712.8L1323.1 712.7M1323.6 712.6L1326.2 711.9M743.4 740.4L746.1 740.7M867.2 845.2L869 844.4M869.9 844.1L870.8 843.7M764.2 725.4L765.5 725.4M766 725.3L767.3 725.2M771.7 724.8L772.1 724.8M906.8 831.2L907.3 831M914.7 826.6L919.1 824M760.7 637.6L761.6 637.3M769.5 634.1L769.9 634M771.2 633.5L771.7 633.3M907.3 736.3L907.7 736.4M908.6 736.6L909 736.7M1067.2 835.6L1067.6 835.9M1068.1 836.3L1069.8 837.7M1096.5 859.5L1096.9 859.8M1105.2 866L1105.7 866.3M1106.6 866.9L1107 867.2M1107.4 867.5L1107.9 867.8M1108.3 868.1L1108.8 868.4M1109.2 868.7L1109.6 869M779.1 630.7L780 630.5M780.4 630.3L780.8 630.2M904.7 729L906.4 729.5M907.3 729.8L907.7 729.9M1077.7 836.4L1079 837.5M1079.4 837.9L1079.9 838.2M1080.3 838.6L1080.8 839M1082.1 840.1L1082.9 840.8M1083.4 841.2L1089.9 846.8M1090.4 847.2L1091.7 848.3M1092.1 848.7L1092.6 849.1M1093 849.5L1093.4 849.8M1094.8 850.9L1095.2 851.3M1095.6 851.7L1096.5 852.4M1096.9 852.8L1097.4 853.1M1097.8 853.5L1099.6 854.9M1100 855.3L1104.8 859.1M1105.2 859.5L1105.7 859.8M806.7 656.6L807.1 656.4M807.5 656.1L811 653.9M947.5 760.5L949.7 760.1M950.2 760L950.6 760M822.6 750.2L823.9 750.6M824.8 750.9L825.7 751.1M949.5 850.4L951.2 849.8M952.6 849.4L953.4 849.1M1256.2 623.5L1257.1 624.2M1258.8 625.6L1261.9 628.1M1262.8 628.9L1264.9 630.7M1265.8 631.4L1266.7 632.2M1267.1 632.6L1267.6 632.9M1268.4 633.7L1268.9 634M1269.3 634.4L1269.8 634.8M1270.2 635.2L1271.9 636.7M1272.4 637L1272.8 637.4M1273.2 637.8L1274.1 638.5M1275 639.3L1276.8 640.7M1277.6 641.5L1278.1 641.8M837.9 740.5L838.4 740.6M838.8 740.7L839.7 740.9M988.9 839.9L991.1 838.9M1271.9 614.8L1273.7 616.1M1275.4 617.4L1276.3 618.1M1276.8 618.4L1277.6 619.1M1278.5 619.8L1279.8 620.8M1292.9 631.3L1294.2 632.4M1294.7 632.7L1295.1 633.1M1295.6 633.4L1296 633.8M1296.4 634.1L1296.9 634.5M1297.3 634.9L1298.2 635.6M1299.5 636.6L1299.9 636.9M825.7 699.4L826.1 699.2M826.6 699L828.3 698.3M991.1 793.3L993.7 791.9M994.1 791.7L994.6 791.4M860.2 637.9L860.7 637.8M861.6 637.4L862 637.2M862.9 636.8L863.3 636.6M995.4 738.2L995.9 738.3M996.3 738.4L996.8 738.4M997.2 738.5L997.6 738.6M998.1 738.7L998.9 738.9M880.4 679.1L880.8 678.8M882.1 678.1L883 677.6M883.4 677.3L884.3 676.8M1043.6 773.6L1046.2 772.8M1046.6 772.6L1047.1 772.5M913.2 664.6L915.4 663.3M1083.4 757.4L1083.6 757.4M959.1 684.6L959.6 684.4M960 684.2L960.4 683.9M960.9 683.7L963.1 682.4M1125.8 777.7L1126.2 777.6M1126.7 777.4L1127.6 777.1M997.2 714.1L998.5 713.8M998.9 713.7L999.8 713.5M1156 811.7L1156.4 811.5M1157.3 810.9L1158.2 810.4M1159.1 809.9L1160.4 809.1M1034.2 699L1034.6 698.8M1035 698.6L1035.9 698.3M1036.3 698.1L1036.8 697.9M1200 792.7L1201.7 791.8M1069.6 728.1L1070 728.1M1070.9 728.2L1071.3 728.2M1074.8 728.2L1075.3 728.2M1222.3 830.9L1222.7 830.7M1232.3 825.2L1232.8 824.9M1234.5 823.9L1235.4 823.4M1235.8 823.1L1236.3 822.9M773.4 836.4L773.8 836.8M774.7 837.5L779.5 841.6M780 842L780.8 842.7M781.3 843.1L785.7 846.9M786.1 847.2L787.4 848.4M787.8 848.7L788.7 849.5M790.5 851L790.9 851.3M791.3 851.7L793.1 853.2M793.5 853.5L794 853.9M794.4 854.3L796.6 856M797 856.4L798.3 857.4M798.8 857.8L801 859.5M801.4 859.8L802.3 860.5M1102 630.8L1102.8 630.5M1103.3 630.4L1103.7 630.3M1104.2 630.1L1104.6 630M1105 629.9L1105.5 629.8M1228.4 728.5L1229.7 728.9M1230.2 729L1231 729.3M1149.4 747.9L1152.5 748.7M1267.1 849.9L1268 849.7M1268.4 849.5L1270.6 848.8M1162.8 647.3L1163.2 647.1M1163.7 646.9L1165 646.2M1166.3 645.5L1166.7 645.3M1175.5 640.9L1175.9 640.7M1315.5 744.4L1315.9 744.4M1319.4 744.9L1320.3 745M1188.8 676.1L1189.2 675.9M1190.1 675.3L1190.6 675.1M1191 674.8L1192.3 674M1192.8 673.8L1193.2 673.5M1351.1 771L1353.8 770.3M1221.6 653.1L1223.8 651.8M1224.2 651.6L1226 650.5M1360.3 757.3L1360.8 757.3M1361.2 757.2L1361.6 757.2M1362.1 757.1L1362.9 757M753.1 761L754.4 760.8M754.8 760.8L755.2 760.7M755.7 760.6L756.1 760.6M1225.6 663.3L1226.4 662.8M1226.9 662.5L1227.3 662.3M1227.8 662L1229.5 660.9M796.8 837L800.3 835.1M1292.5 730.9L1295.1 730.9M789.4 746.8L790.7 746.8M791.1 746.9L792.4 747M1274.1 646.3L1274.6 646M1275 645.8L1276.8 644.9M1277.6 644.4L1278.1 644.2M845.8 711.5L846.2 711.7M846.7 711.9L847.6 712.4M977.1 793.7L977.5 793.9M977.9 794.2L979.2 795.1M990.2 802.5L990.6 802.8M1071.1 866.7L1071.6 866.8M1357 621.2L1357.5 621.1M826.3 621.7L827.2 621.7M827.7 621.7L829 621.8M834.2 622.3L834.7 622.4M932.7 708.6L936.2 710.4M1082.7 801.7L1083.2 802M1083.6 802.3L1084.9 803.3M1085.3 803.6L1087.1 804.8M1154.9 862.8L1156.2 863.4M1157.1 863.8L1157.5 864M1158 864.2L1158.4 864.4M750.9 672.2L753.1 673.8M753.5 674.1L755.2 675.4M755.7 675.7L756.1 676M905.1 768.6L906 769M906.4 769.2L907.7 769.8M1013.6 858.4L1014.9 858.4M1015.3 858.4L1017.1 858.3M1312.4 616.4L1312.8 616.7M1313.7 617.1L1314.2 617.3M1314.6 617.5L1317.2 619M741.7 861.4L742.1 861.7M743.9 862.6L745.2 863.3M745.6 863.5L746.1 863.7M746.9 864.1L747.4 864.3M747.8 864.5L748.2 864.7M1043.1 622.1L1046.6 622.1M1047.9 622.2L1048.4 622.2M1151.2 709.7L1151.6 709.9M1152.1 710.2L1153.8 711M1154.2 711.2L1155.1 711.7M1301.9 803.1L1302.3 803.4M1302.8 803.7L1303.2 804.1M1304.1 804.7L1306.3 806.3M1011.4 617.1L1011.8 617.3M1013.2 618.1L1014.5 618.9M1015.3 619.5L1015.8 619.8M1066.5 663.4L1067 663.7M1067.4 664.1L1068.3 664.8M1069.2 665.5L1071.3 667.1M1071.8 667.5L1072.7 668.1M1224.7 762.7L1225.1 762.9M1226 763.2L1226.9 763.6M1227.8 764L1228.2 764.2M1231.7 765.7L1232.1 765.9M1339.8 856.6L1341.1 856.4M1341.5 856.4L1341.9 856.3M1342.4 856.3L1343.2 856.2M976.4 620.3L977.3 620.7M978.2 621.1L980.3 622.2M1046 682.8L1046.8 683.5M1047.3 683.8L1048.2 684.4M1048.6 684.8L1049.5 685.4M1209.6 785.3L1213.5 787.8M1291 859.3L1291.4 859.4M1292.3 859.7L1293.2 860M1294 860.3L1294.9 860.5" stroke="#00ff00"/><path d="M820 774.1L820.4 774M820.9 773.8L822.2 773.4M822.6 773.2L823.1 773.1M1292.7 675.9L1293.6 675.4M1294 675.1L1296.2 673.7M851.1 812.1L854.1 810.2M1326.2 711.9L1327.1 711.7M1327.5 711.5L1328.8 711.1M746.5 740.8L749.1 741.1M863.3 846.8L867.2 845.2M767.7 725.2L769.5 725M769.9 725L770.3 725M910.8 828.9L914.7 826.6M763.3 636.5L763.8 636.3M892.4 732.8L892.8 732.9M905.5 735.9L906.8 736.2M1069.8 837.7L1071.6 839.1M1072 839.4L1074.6 841.5M1075.1 841.9L1075.5 842.3M1100.9 862.8L1101.3 863.1M1101.8 863.5L1102.6 864.1M1103.1 864.4L1103.9 865.1M781.7 630L782.6 629.7M783 629.6L783.5 629.5M783.9 629.4L784.3 629.3M784.8 629.2L785.2 629.1M901.6 728L902.5 728.3M904.2 728.8L904.7 729M811 653.9L814.8 651.6M944.2 761.1L947.5 760.5M825.7 751.1L826.1 751.2M826.6 751.4L828.3 751.9M946 851.3L947.3 851M947.8 850.8L949.5 850.4M840.1 741L841.4 741.2M846.7 742.2L847.1 742.3M987.1 840.7L987.6 840.5M988.4 840.1L988.9 839.9M1279.8 620.8L1280.2 621.1M1281.1 621.8L1281.6 622.2M1282 622.5L1283.3 623.6M1284.2 624.3L1284.6 624.6M1285.1 625L1287.2 626.7M1289.9 628.8L1292.1 630.6M829.2 697.9L832.2 696.4M987.1 795.4L987.6 795.2M988 794.9L989.3 794.2M989.8 794L990.2 793.7M864.2 636.3L867.7 634.9M992.4 737.7L993.7 737.9M994.1 738L995.4 738.2M884.3 676.8L884.8 676.5M885.2 676.3L885.6 676M886.9 675.2L887.8 674.6M1040.9 774.5L1043.6 773.6M915.4 663.3L916.7 662.6M917.1 662.3L917.6 662.1M1072 758.5L1072.4 758.4M1081.6 757.5L1082.5 757.5M963.1 682.4L963.9 681.9M965.2 681.2L965.7 680.9M966.1 680.7L967 680.1M1121.9 779.3L1124.1 778.4M1000.7 713.3L1002.4 712.8M1002.9 712.7L1003.3 712.5M1152.1 814.2L1153.4 813.4M1153.8 813.1L1155.1 812.3M1155.6 812L1156 811.7M1037.7 697.5L1039 696.9M1039.4 696.7L1041.2 695.9M1196.5 794.6L1198.7 793.4M1199.1 793.2L1199.5 792.9M1071.3 728.2L1072.2 728.2M1224.9 829.4L1225.3 829.2M1233.2 824.7L1233.7 824.4M1106.8 629.4L1107.2 629.3M1107.7 629.2L1109.4 628.8M1224.9 727.4L1225.3 727.6M1225.8 727.7L1228.4 728.5M1152.5 748.7L1152.9 748.8M1153.4 748.9L1155.3 749.3M1263.4 851L1267.1 849.9M1165 646.2L1165.4 645.9M1313.7 744.2L1314.2 744.2M1318.5 744.8L1319.4 744.9M1193.2 673.5L1194.5 672.7M1194.9 672.4L1196.2 671.6M1196.7 671.3L1197.1 671.1M1348.1 772L1348.5 771.8M1348.9 771.7L1350.7 771.1M1226 650.5L1229.7 648.3M1357 757.8L1360.3 757.3M750.4 761.5L752.6 761.1M1229.5 660.9L1233.9 658.2M792.2 839.5L796.4 837.3M1295.6 730.9L1298.6 730.8M786.3 746.6L787.6 746.7M788.1 746.7L789.4 746.8M1278.1 644.2L1278.5 644M1278.9 643.8L1280.2 643.1M1281.1 642.6L1282 642.2M843.6 710.4L844.5 710.9M844.9 711.1L845.8 711.5M979.2 795.1L981 796.2M996.3 807.1L996.8 807.4M1068.5 865.9L1069.8 866.3M1070.2 866.4L1070.7 866.6M1354.8 621.2L1355.3 621.2M1356.2 621.2L1356.6 621.2M1361 621.2L1361.4 621.2M829.4 621.8L829.8 621.8M830.3 621.9L831.2 621.9M831.6 622L832.9 622.1M929.6 707.1L930.9 707.7M931.8 708.2L932.7 708.6M1088 805.5L1089.3 806.5M1090.2 807.1L1091 807.8M1091.5 808.2L1092.3 808.9M1149.7 859.9L1151.8 861.1M1152.3 861.4L1152.7 861.6M1153.2 861.9L1154 862.3M745.6 668.1L746.1 668.4M746.5 668.8L748.2 670.2M749.1 670.8L749.6 671.2M750 671.5L750.4 671.9M907.7 769.8L911.2 771.6M1010.1 858.3L1010.5 858.3M1011 858.3L1013.2 858.4M1317.2 619L1317.7 619.2M1318.1 619.5L1319 620M1319.8 620.5L1322 621.9M738.6 859.6L741.7 861.4M742.1 861.7L742.6 861.9M743 862.2L743.4 862.4M1046.6 622.1L1047.5 622.1M1049.2 622.2L1050.1 622.3M1147.7 707.9L1150.3 709.3M1150.8 709.5L1151.2 709.7M1307.2 807L1307.6 807.3M1308 807.6L1310.2 809.3M1311.1 810L1311.5 810.3M1016.7 620.4L1017.1 620.6M1017.5 620.9L1018 621.2M1018.4 621.5L1018.8 621.8M1019.3 622.2L1019.7 622.5M1020.2 622.8L1020.6 623.1M1021 623.4L1021.5 623.7M1021.9 624.1L1022.8 624.7M1051.2 650.1L1051.7 650.5M1060 657.9L1060.4 658.3M1060.8 658.7L1061.3 659.1M1061.7 659.4L1062.6 660.2M1063 660.5L1064.8 662M1065.2 662.3L1066.5 663.4M1228.2 764.2L1228.6 764.4M1229.5 764.7L1230.8 765.3M1231.2 765.5L1231.7 765.7M1337.6 856.7L1339.8 856.6M980.3 622.2L984.5 624.5M1041.4 679.2L1042.9 680.5M1043.3 680.8L1046 682.8M1213.5 787.8L1215.3 789M1215.7 789.3L1217.5 790.6M1287.2 857.8L1290.5 859.1" stroke="#00ff33"/><path d="M816.9 775.3L819.1 774.5M1297.1 673.2L1298 672.6M1298.4 672.4L1300.2 671.2M847.1 814.6L850.2 812.6M850.6 812.4L851.1 812.1M1330.1 710.7L1330.6 710.6M1331 710.5L1332.3 710M749.1 741.1L752 741.4M860 848L863.3 846.8M770.3 725L771.7 724.8M772.1 724.8L773 724.7M907.3 831L910.8 828.9M765.1 635.8L766 635.5M766.8 635.1L767.7 634.8M775.2 632.1L775.6 632M902.5 735.1L902.9 735.2M903.3 735.3L904.2 735.5M905.1 735.8L905.5 735.9M1075.5 842.3L1077.2 843.7M1078.1 844.4L1079 845.1M1079.4 845.5L1080.3 846.2M1081.6 847.3L1083.8 849.1M1084.2 849.5L1085.1 850.2M1086 850.9L1086.4 851.3M1087.8 852.4L1088.6 853.1M1089.5 853.8L1089.9 854.2M1090.4 854.5L1091.7 855.6M1092.1 856L1093 856.7M1094.3 857.7L1094.8 858.1M1096.1 859.1L1096.5 859.5M1096.9 859.8L1097.8 860.5M1098.2 860.8L1099.1 861.5M785.2 629.1L785.7 629M786.1 628.9L788.7 628.3M898.5 727.1L901.6 728M814.8 651.6L818.7 649.1M941.4 761.7L944.2 761.1M829.2 752.1L831.4 752.8M831.8 752.9L832.2 753M942.9 852.1L946 851.3M842.3 741.4L843.2 741.6M843.6 741.6L844.5 741.8M984.9 841.7L985.8 841.3M986.2 841.1L987.1 840.7M832.2 696.4L833.1 696M833.6 695.8L835.8 694.7M983.6 797.5L987.1 795.4M867.7 634.9L869.9 634M870.3 633.9L871.2 633.6M989.3 737.1L990.2 737.3M990.6 737.4L992.4 737.7M888.2 674.4L889.6 673.6M890 673.3L890.9 672.7M891.3 672.4L892.2 671.9M1037.4 775.9L1040.5 774.7M917.6 662.1L918 661.8M918.9 661.3L919.8 660.8M920.2 660.5L921.9 659.4M1078.1 757.8L1079 757.7M1079.4 757.7L1080.8 757.6M967 680.1L969.6 678.5M970.1 678.3L970.5 678M1117.5 781.2L1120.6 779.8M1003.3 712.5L1004.6 712.2M1005.1 712L1005.5 711.9M1005.9 711.8L1006.4 711.6M1148.1 816.7L1152.1 814.2M1041.2 695.9L1041.6 695.6M1042.5 695.2L1044.7 694.1M1192.5 796.9L1196 794.9M1073.1 728.2L1074 728.2M1074.4 728.2L1074.8 728.2M1075.3 728.2L1076.2 728.2M1228 827.7L1228.4 827.4M1228.8 827.2L1229.3 826.9M1230.2 826.4L1230.6 826.2M1231 825.9L1232.3 825.2M1109.4 628.8L1110.7 628.5M1111.2 628.4L1111.6 628.3M1221.8 726.5L1224.5 727.3M1155.3 749.3L1158.4 750.1M1260.1 851.8L1263.4 851M1167.6 644.8L1168 644.6M1168.5 644.4L1169.3 643.9M1169.8 643.7L1171.1 643.1M1314.6 744.3L1315.5 744.4M1315.9 744.4L1316.3 744.5M1317.2 744.6L1317.7 744.6M1197.1 671.1L1197.6 670.8M1198 670.5L1199.8 669.4M1200.2 669.1L1201.1 668.5M1345 773L1345.4 772.9M1345.9 772.7L1346.8 772.4M1347.2 772.3L1348.1 772M1229.7 648.3L1233.7 645.9M1354.2 758.3L1357 757.8M747.4 762L750 761.5M1233.9 658.2L1234.8 657.7M1235.2 657.4L1237.8 655.8M788.5 841.4L792.2 839.5M1298.6 730.8L1301.5 730.7M783.2 746.5L786.3 746.6M1282 642.2L1282.4 642M1282.9 641.7L1285.1 640.7M1285.5 640.4L1285.9 640.2M840.6 708.9L841.4 709.3M841.9 709.5L842.3 709.8M842.8 710L843.6 710.4M981.9 796.8L983.6 797.9M984.1 798.2L984.5 798.5M984.9 798.8L985.4 799.1M999.8 809.9L1000.2 810.3M1065 864.6L1066.8 865.3M1067.2 865.4L1067.6 865.6M1068.1 865.7L1068.5 865.9M1357.5 621.1L1359.2 621.2M1365.8 621.6L1366 621.7M832.9 622.1L834.2 622.3M834.7 622.4L836 622.6M925.2 704.7L927.8 706.1M1092.8 809.2L1094.5 810.6M1095 811L1095.8 811.7M1096.3 812.1L1098 813.5M1144.8 856.8L1147.5 858.5M1147.9 858.8L1149.2 859.6M739.5 662.9L741.2 664.4M741.7 664.8L744.3 667M745.2 667.7L745.6 668.1M911.2 771.6L914.7 773.4M1007 858L1010.1 858.3M1322 621.9L1322.9 622.5M1323.3 622.8L1323.8 623.1M1324.2 623.4L1324.7 623.7M1325.1 624L1328.2 626.2M736 857.9L736.4 858.2M737.3 858.8L738.6 859.6M1050.6 622.4L1052.3 622.6M1052.8 622.6L1053.6 622.8M1144.2 706.1L1145.5 706.8M1145.9 707L1146.4 707.2M1146.8 707.5L1147.7 707.9M1312.4 811L1312.8 811.4M1313.3 811.8L1313.7 812.1M1314.2 812.5L1315 813.2M1315.5 813.6L1315.9 813.9M1316.3 814.3L1317.7 815.4M1361.8 856.2L1366 859.1M1022.8 624.7L1023.7 625.4M1024.1 625.8L1032 632.3M1049.9 648.9L1051.2 650.1M1051.7 650.5L1056.5 654.9M1057.3 655.6L1059.5 657.6M1232.1 765.9L1232.6 766.1M1233 766.3L1233.4 766.5M1233.9 766.7L1234.8 767.1M1333.2 856.8L1333.6 856.8M1334.5 856.8L1335.4 856.8M1335.8 856.8L1336.2 856.8M984.5 624.5L989.3 627.8M1036.3 675L1041.4 679.2M1217.5 790.6L1221.4 793.5M1283.3 855.8L1287.2 857.8" stroke="#00ff66"/><path d="M814.1 776.4L816.9 775.3M1300.6 671L1303 669.4M843.6 816.9L847.1 814.6M1332.3 710L1334.1 709.4M1334.3 709.4L1334.7 709.2M752 741.4L754.2 741.7M857.2 849L860 848M773.4 724.6L775.6 724.3M903.6 833.2L904.2 832.8M904.7 832.5L905.1 832.3M905.5 832L906.4 831.5M767.7 634.8L768.6 634.5M769 634.3L769.5 634.1M769.9 634L770.3 633.8M899.8 734.5L900.7 734.7M901.2 734.8L902.5 735.1M788.7 628.3L791.1 627.9M895.7 726.2L897.2 726.7M897.7 726.8L898.1 727M818.7 649.1L821.8 647.2M939 762.3L941.4 761.7M832.2 753L834.4 753.7M940.1 852.7L942.5 852.2M844.5 741.8L846.7 742.2M851.9 743.1L852.4 743.2M980.6 843.7L983.2 842.5M835.8 694.7L838.4 693.3M980.6 799.3L983.6 797.5M871.2 633.6L874 632.5M987.1 736.8L989.3 737.1M892.2 671.9L895 670M1034.6 777L1036.1 776.4M1036.6 776.2L1037.4 775.9M922.4 659.2L925 657.6M1076.4 758L1077.2 757.9M970.5 678L973.3 676.2M1114.9 782.4L1115.3 782.2M1116.2 781.8L1117.5 781.2M1006.8 711.5L1008.6 710.9M1144.8 818.9L1145.5 818.4M1145.9 818.1L1148.1 816.7M1044.7 694.1L1046 693.4M1046.4 693.2L1047.3 692.7M1189.7 798.6L1191.7 797.4M1192.1 797.1L1192.5 796.9M1076.2 728.2L1076.6 728.2M1077 728.1L1078.8 728.1M1225.8 828.9L1226.2 828.7M1226.7 828.4L1228 827.7M1112.5 628.1L1115.1 627.7M1219.4 725.7L1221.8 726.5M1158.4 750.1L1160.6 750.7M1257.5 852.3L1260.1 851.8M1171.1 643.1L1171.5 642.8M1172 642.6L1173.3 642M1312 744L1312.4 744M1313.3 744.1L1313.7 744.2M1314.2 744.2L1314.6 744.3M1201.1 668.5L1202.4 667.7M1202.8 667.4L1203.9 666.7M1342.4 774L1345 773M1233.7 645.9L1236.5 644.2M1351.8 758.7L1354.2 758.3M744.5 762.7L746.9 762.1M1237.8 655.8L1238.7 655.2M1239.1 654.9L1240 654.4M1240.2 654.3L1240.9 653.8M785.7 842.8L788.5 841.4M1301.5 730.7L1303.7 730.5M780.8 746.4L782.4 746.5M782.8 746.5L783.2 746.5M1285.9 640.2L1288.8 638.8M837.1 707.1L838.8 708M839.2 708.2L839.7 708.4M985.8 799.4L986.7 800M987.6 800.6L988 800.9M988.9 801.5L989.8 802.2M1061.1 862.9L1064.6 864.4M1360.1 621.2L1360.5 621.2M1361.8 621.3L1362.3 621.3M836 622.6L838.2 623M838.4 623.1L838.8 623.2M922.6 703.1L923.9 703.9M924.8 704.4L925.2 704.7M1098 813.5L1100.7 815.8M1101.5 816.6L1102.8 817.8M1139.8 853L1144 856.1M736 659.8L739.5 662.9M914.7 773.4L915.2 773.6M915.6 773.9L917.1 774.7M1004.2 857.6L1007 858M1328.2 626.2L1333.8 630.9M1361.4 657.1L1362.7 658.4M1364 659.6L1366 661.3M1053.6 622.8L1056.2 623.2M1141.3 704.4L1144.2 706.1M1317.7 815.4L1318.1 815.8M1318.5 816.2L1322.9 820.1M1356.6 852.2L1358.3 853.6M1358.8 853.9L1361.8 856.2M1032 632.3L1032.4 632.7M1033.3 633.5L1034.2 634.3M1034.6 634.7L1038.1 637.9M1038.5 638.3L1039.8 639.5M1040.3 639.9L1046 645.2M1046.4 645.7L1049.5 648.5M1234.8 767.1L1235.2 767.3M1235.6 767.5L1236.1 767.7M1236.5 768L1237.4 768.4M1330.3 856.7L1333.2 856.8M989.3 627.8L993.5 631M1032 670.9L1036.3 675M1221.4 793.5L1224.9 796.4M1280 853.9L1283.3 855.8" stroke="#00ff99"/><path d="M811.7 777.5L814.1 776.4M1303 669.4L1306.3 667.2M840.6 819L843.6 816.9M1334.7 709.2L1337.1 708.3M754.2 741.7L756.3 742M854.6 849.9L857.2 849M775.6 724.3L778 724M900.5 835L903.6 833.2M770.8 633.6L771.2 633.5M771.7 633.3L773.4 632.7M897.2 733.9L899.4 734.4M791.1 627.9L793.8 627.5M893.3 725.4L895.7 726.2M821.8 647.2L824.6 645.4M936.8 762.9L939 762.3M834.4 753.7L836.8 754.4M937.5 853.1L940.1 852.7M847.1 742.3L847.6 742.3M848.9 742.6L849.3 742.6M978.8 844.4L979.7 844M838.4 693.3L841 691.9M977.7 801.1L980.6 799.3M874 632.5L876.7 631.7M984.7 736.3L987.1 736.8M895 670L898.1 668M1032.2 778.1L1034.6 777M925 657.6L926.3 656.8M927.6 656L928.1 655.7M1073.3 758.3L1075.5 758.1M973.3 676.2L976.4 674.2M1112.2 783.7L1114.9 782.4M1008.6 710.9L1011 710.1M1141.8 820.9L1144.8 818.9M1047.3 692.7L1049.9 691.2M1186.8 800.4L1189.7 798.6M1079.2 728.1L1081 728M1217.9 833.4L1218.3 833.2M1221.4 831.5L1221.8 831.2M1222.7 830.7L1223.6 830.2M1224.5 829.7L1224.9 829.4M1115.1 627.7L1117.7 627.3M1217 724.9L1219.4 725.7M1160.6 750.7L1163 751.3M1254.9 852.8L1257.5 852.3M1174.6 641.3L1175.5 640.9M1175.9 640.7L1176.8 640.3M1309.8 743.8L1310.2 743.8M1310.7 743.9L1311.1 743.9M1311.5 743.9L1312 744M1203.9 666.7L1207.2 664.5M1339.8 775.1L1342.4 774M1236.5 644.2L1239.6 642.4M1349.6 759.2L1351.8 758.7M742.1 763.2L744.5 762.7M1240.9 653.8L1243.9 651.9M782.8 844.3L785.7 842.8M1303.7 730.5L1305.8 730.4M778.7 746.4L780.8 746.4M1288.8 638.8L1291.6 637.5M736 621.5L736.4 621.5M736.9 621.5L737.3 621.6M834.4 705.7L834.9 705.9M835.3 706.2L837.1 707.1M990.6 802.8L991.5 803.4M991.9 803.8L992.4 804.1M992.8 804.4L993.2 804.7M1058 861.4L1060.2 862.5M1060.6 862.7L1061.1 862.9M1362.7 621.3L1364.5 621.5M1364.9 621.5L1365.3 621.6M838.8 623.2L841.4 623.9M919.8 701.4L922.6 703.1M1102.8 817.8L1109.2 823.7M1133.7 847.8L1139.8 853M917.1 774.7L920 776.4M1001.3 857L1004.2 857.6M1333.8 630.9L1341.9 638.2 1361.4 657.1M1056.2 623.2L1058.9 623.9M1138.5 702.7L1141.3 704.4M1322.9 820.1L1330.3 827.2M1349.4 845.9L1356.6 852.2M1237.4 768.4L1240 769.7M1327.7 856.5L1330.3 856.7M993.5 631L998.7 635.6M1026.7 665.7L1032 670.9M1224.9 796.4L1228.4 799.5M1276.8 851.7L1280 853.9" stroke="#00ffcc"/><path d="M809.3 778.6L811.7 777.5M1306.3 667.2L1309.3 665.1M837.5 821.1L840.6 819M1337.1 708.3L1339.5 707.4M756.3 742L758.5 742.3M851.9 850.6L854.6 849.9M778 724L780.2 723.6M897.4 836.8L900.5 835M773.4 632.7L775.2 632.1M775.6 632L776.5 631.7M895 733.4L896.8 733.8M793.8 627.5L796.4 627.2M891.1 724.7L893.3 725.4M824.6 645.4L827.7 643.5M934.6 763.5L936.8 762.9M836.8 754.4L839 755.2M934.8 853.5L937.5 853.1M849.8 742.7L851.9 743.1M974.4 846.2L976.6 845.3M977.1 845.1L977.5 844.9M841 691.9L843.6 690.4M974.9 803L977.7 801.1M876.7 631.7L879.3 630.9M982.5 736L984.7 736.3M898.1 668L901.2 665.9M1029.6 779.3L1032.2 778.1M928.1 655.7L931.1 653.9M1070.7 758.7L1072 758.5M1072.9 758.4L1073.3 758.3M976.4 674.2L979.5 672.1M1109.6 785.1L1112.2 783.7M1011 710.1L1013.4 709.2M1138.7 823L1141.8 820.9M1049.9 691.2L1052.5 689.7M1183.8 802.4L1186.8 800.4M1081.8 728L1083.6 727.9M1218.3 833.2L1219.7 832.4M1220.1 832.2L1220.5 832M1117.7 627.3L1120.3 627M1214.6 724L1217 724.9M1163 751.3L1165.2 752M1252.2 853.1L1254.9 852.8M1177.2 640.1L1177.7 639.9M1178.1 639.6L1178.5 639.4M1179 639.2L1179.8 638.8M1307.2 743.5L1308.5 743.6M1308.9 743.7L1309.3 743.7M1207.2 664.5L1210.2 662.3M1337.3 776.1L1339.8 775.1M1239.6 642.4L1242.4 640.7M1347.4 759.6L1349.6 759.2M739.9 763.8L742.1 763.2M1243.9 651.9L1247 649.9M780.2 845.5L782.8 844.3M1305.8 730.4L1308 730.2M776.5 746.3L778.7 746.4M1291.6 637.5L1294.5 636.2M737.3 621.6L738.6 621.8M739.1 621.8L739.9 622M831.4 704L832.2 704.5M832.7 704.7L834.4 705.7M993.2 804.7L993.7 805.1M994.1 805.4L996.3 807.1M996.8 807.4L997.2 807.8M1054.1 859.1L1055.4 859.9M1055.8 860.2L1058 861.4M1365.3 621.6L1365.8 621.6M841.4 623.9L844.3 624.8M916.9 699.6L919.8 701.4M1109.2 823.7L1126.2 840.8 1133.7 847.8M920 776.4L922.6 778M998.7 856.3L1001.3 857M1058.9 623.9L1061.7 624.8M1135.7 700.9L1138.5 702.7M1330.3 827.2L1349.4 845.9M1240 769.7L1242.6 771.1M1325.1 856.1L1327.7 856.5M998.7 635.6L1007.2 644.3M1018 656.3L1026.7 665.7M1228.4 799.5L1232.3 803.2M1272.8 848.6L1276.8 851.7" stroke="#00ffff"/><path d="M806.7 779.8L809.3 778.6M1309.3 665.1L1312.4 662.9M834.4 823.2L837.5 821.1M1339.5 707.4L1341.9 706.3M758.5 742.3L760.7 742.6M849.3 851.4L851.9 850.6M780.2 723.6L782.6 723.2M894.6 838.5L897.4 836.8M776.5 631.7L778.2 631.2M893.3 733L895 733.4M796.4 627.2L798.8 627M888.7 723.8L891.1 724.7M827.7 643.5L830.5 641.6M932.2 764.2L934.6 763.5M839 755.2L841.4 756M932.2 853.7L934.8 853.5M852.4 743.2L854.1 743.4M971.8 847.2L974.4 846.2M843.6 690.4L846.2 688.8M972 805L974.9 803M879.3 630.9L881.9 630.1M980.1 735.5L982.5 736M901.2 665.9L904.2 663.7M1027.2 780.5L1029.6 779.3M931.6 653.6L932 653.4M932.4 653.1L933.3 652.6M933.8 652.3L934.6 651.8M1068.5 759L1070.2 758.8M979.5 672.1L982.3 670.1M1107 786.6L1109.6 785.1M1013.4 709.2L1015.8 708.2M1135.4 825.3L1138.7 823M1052.5 689.7L1055.4 688M1180.9 804.3L1183.8 802.4M1083.6 727.9L1084 727.8M1084.5 727.8L1085.8 727.7M1215.7 834.7L1217.9 833.4M1120.3 627L1123 626.9M1212.2 723.2L1214.6 724M1165.2 752L1167.4 752.7M1249.8 853.3L1252.2 853.1M1180.3 638.6L1182.9 637.4M1305 743.4L1307.2 743.5M1210.2 662.3L1213.3 660.2M1334.9 777.2L1337.3 776.1M1242.4 640.7L1245.2 639M1345.2 760.1L1347.4 759.6M737.5 764.5L739.9 763.8M1247 649.9L1250.1 647.9M1365.8 764.5L1366 764.4M777.3 846.9L780.2 845.5M1308 730.2L1310.2 730.1M774.1 746.3L776.5 746.3M1294.5 636.2L1297.3 634.9M739.9 622L742.6 622.5M828.8 702.5L829.6 703M830.5 703.5L831.4 704M997.6 808.1L998.5 808.9M998.9 809.2L999.8 809.9M1000.2 810.3L1001.6 811.4M1050.1 856.6L1050.6 856.9M1051 857.2L1051.4 857.5M1051.9 857.8L1052.8 858.3M1053.6 858.9L1054.1 859.1M844.3 624.8L847.1 625.9M914.1 697.6L916.9 699.6M922.6 778L925.4 779.8M995.9 855.4L998.7 856.3M1061.7 624.8L1064.6 625.8M1132.8 699L1135.7 700.9M1242.6 771.1L1245.2 772.6M1322.5 855.6L1325.1 856.1M1007.2 644.3L1018 656.3M1232.3 803.2L1236.9 808M1268.4 844.7L1272.8 848.6" stroke="#00ccff"/><path d="M804 781.2L806.7 779.8M1312.4 662.9L1315.7 660.5M830.9 825.7L834.4 823.2M1341.9 706.3L1344.6 705.2M760.7 742.6L763.3 743M846.7 852L849.3 851.4M782.6 723.2L785 722.7M891.3 840.4L894.6 838.5M779.1 630.9L781.9 630.1M889.8 732.2L891.5 732.6M892 732.7L892.4 732.8M798.8 627L801.6 626.9M886.1 722.8L888.7 723.8M830.5 641.6L833.8 639.5M929.8 765L932.2 764.2M841.4 756L844.1 756.9M929.4 853.9L932.2 853.7M854.1 743.4L856.8 743.9M968.3 848.4L970.9 847.5M971.4 847.3L971.8 847.2M846.2 688.8L849.3 686.8M968.8 807.3L972 805M881.9 630.1L885 629.4M977.7 735.1L980.1 735.5M904.2 663.7L907.7 661.1M1024.3 782L1027.2 780.5M934.6 651.8L935.1 651.5M935.5 651.2L937.9 649.7M1065.7 759.5L1067.6 759.2M1068.1 759.1L1068.5 759M982.3 670.1L985.8 667.5M1104.2 788.2L1107 786.6M1015.8 708.2L1018.4 707.1M1132.2 827.6L1135.4 825.3M1055.4 688L1058.2 686.1M1177.9 806.5L1180.9 804.3M1085.8 727.7L1088.2 727.5M1212 836.8L1214 835.7M1214.4 835.4L1215.3 834.9M1123 626.9L1125.8 626.8M1209.6 722.1L1212.2 723.2M1167.4 752.7L1170 753.6M1247 853.4L1249.8 853.3M1182.9 637.4L1184.2 636.8M1184.4 636.8L1186 636.1M1302.1 743.1L1305 743.4M1213.3 660.2L1216.6 657.8M1332.3 778.4L1334.9 777.2M1245.2 639L1248.5 637M1342.8 760.7L1345.2 760.1M736 764.9L737.5 764.5M1250.1 647.9L1253.6 645.7M1363.4 765.2L1365.8 764.5M774.5 848.2L777.3 846.9M1310.2 730.1L1312.6 729.9M771.7 746.3L774.1 746.3M1297.3 634.9L1300.4 633.6M742.6 622.5L745.6 623.3M825.2 700.4L828.8 702.5M1001.6 811.4L1006.8 816M1044.9 852.7L1050.1 856.6M847.1 625.9L850.4 627.6M910.8 695.1L914.1 697.6M925.4 779.8L928.5 782M992.8 854.1L995.9 855.4M1064.6 625.8L1067.6 627.2M1129.8 696.7L1132.8 699M1245.2 772.6L1248.1 774.4M1319.4 854.7L1322.5 855.6M1236.9 808L1243.7 815.7M1261.7 837.6L1268.4 844.7" stroke="#0099ff"/><path d="M801.2 782.7L804 781.2M1315.7 660.5L1319.2 657.9M827.4 828.3L830.9 825.7M1344.6 705.2L1347.4 703.8M763.3 743L765.8 743.5M843.8 852.6L846.7 852M785 722.7L787.6 722.2M888 842.3L891.3 840.4M781.9 630.1L785 629.4M887.2 731.5L889.8 732.2M801.6 626.9L804.5 627M883.4 721.7L886.1 722.8M833.8 639.5L837.1 637.4M927.2 765.9L929.8 765M844.1 756.9L846.7 758M926.5 853.9L929.4 853.9M856.8 743.9L859.4 744.3M965.2 849.4L968.3 848.4M849.3 686.8L852.4 684.7M965.5 809.8L968.8 807.3M885 629.4L887.8 628.8M975.1 734.5L977.7 735.1M907.7 661.1L911.2 658.5M1021.7 783.4L1024.3 782M937.9 649.7L941.4 647.6M1063 760L1065.7 759.5M985.8 667.5L989.1 665M1101.3 790L1104.2 788.2M1018.4 707.1L1021 705.9M1128.7 830.1L1132.2 827.6M1058.2 686.1L1061.3 684M1174.4 809.1L1177.9 806.5M1088.2 727.5L1090.8 727.2M1208.5 838.7L1212 836.8M1125.8 626.8L1128.7 627M1207 721L1209.6 722.1M1170 753.6L1172.4 754.5M1244.2 853.4L1247 853.4M1186 636.1L1189.2 634.7M1299.5 743L1302.1 743.1M1216.6 657.8L1220.1 655.2M1329.5 779.9L1332.3 778.4M1248.5 637L1251.6 635.2M1340.2 761.4L1342.8 760.7M1253.6 645.7L1256.8 643.5M1360.8 766L1363.4 765.2M771.4 849.6L774.5 848.2M1312.6 729.9L1315.2 729.7M769.2 746.3L771.7 746.3M1300.4 633.6L1303.4 632.3M745.6 623.3L748.9 624.4M822.2 698.4L825.2 700.4M1006.8 816L1014 822.9M1038.1 846.9L1044.9 852.7M850.4 627.6L853.7 629.5M907.3 692.2L910.8 695.1M928.5 782L931.8 784.6M989.5 852.4L992.8 854.1M1067.6 627.2L1071.1 629.2M1126.2 693.9L1129.8 696.7M1248.1 774.4L1251.2 776.4M1316.3 853.6L1319.4 854.7M1243.7 815.7L1256.4 831.4 1261.7 837.6" stroke="#0066ff"/><path d="M798.1 784.5L801.2 782.7M1319.2 657.9L1323.1 654.8M823.7 831.1L827.4 828.3M1347.4 703.8L1350.2 702.3M765.8 743.5L768.4 744M840.8 853.1L843.8 852.6M787.6 722.2L790.2 721.6M884.5 844.3L888 842.3M785 629.4L788.3 628.7M884.3 730.8L887.2 731.5M804.5 627L807.8 627.3M880.4 720.3L883.4 721.7M837.1 637.4L840.6 635.1M924.6 766.8L927.2 765.9M846.7 758L849.5 759.3M923.5 853.7L926.5 853.9M859.4 744.3L862.2 744.8M962 850.4L965.2 849.4M852.4 684.7L855.7 682.4M961.8 812.7L965.5 809.8M887.8 628.8L890.9 628.3M972.5 733.9L975.1 734.5M911.2 658.5L914.9 655.6M1018.4 785.4L1021.7 783.4M941.4 647.6L945.3 645.2M1060.2 760.7L1063 760M989.1 665L992.8 662.1M1098 792.2L1101.3 790M1021 705.9L1024.1 704.4M1124.9 832.9L1128.7 830.1M1061.3 684L1064.8 681.5M1170.9 811.9L1174.4 809.1M1090.8 727.2L1093.7 726.9M1204.8 840.8L1208.5 838.7M1128.7 627L1131.7 627.3M1204.1 719.6L1207 721M1172.4 754.5L1175.2 755.8M1241.1 853.1L1244.2 853.4M1189.2 634.7L1192.5 633.4M1296.7 742.8L1299.5 743M1220.1 655.2L1224 652.2M1326.4 781.6L1329.5 779.9M1251.6 635.2L1255.1 633.1M1337.6 762.2L1340.2 761.4M1256.8 643.5L1260.6 641M1357.9 767L1360.8 766M768.2 851L771.4 849.6M1315.2 729.7L1317.9 729.4M766.6 746.3L769.2 746.3M1303.4 632.3L1306.7 631.1M748.9 624.4L752.4 625.8M818.5 695.8L822.2 698.4M1014 822.9L1030.7 839.8 1038.1 846.9M853.7 629.5L857.8 632.5M903.1 688.4L907.3 692.2M931.8 784.6L935.5 787.8M985.8 850.1L989.5 852.4M1071.1 629.2L1075.1 631.9M1122.3 690.4L1126.2 693.9M1251.2 776.4L1254.4 778.9M1313.1 852.1L1316.3 853.6" stroke="#0033ff"/><path d="M794.8 786.6L798.1 784.5M1323.1 654.8L1326.8 651.7M819.8 834.1L823.7 831.1M1350.2 702.3L1353.3 700.6M768.4 744L771 744.7M837.7 853.3L840.8 853.1M790.2 721.6L793.1 720.9M881 846.3L884.5 844.3M788.3 628.7L791.6 628.2M881.5 730L884.3 730.8M807.8 627.3L810.8 627.9M877.5 718.8L880.4 720.3M840.6 635.1L844.1 632.8M921.7 768L924.6 766.8M849.5 759.3L852.6 760.8M920.2 853.2L923.5 853.7M862.2 744.8L865.1 745.3M958.7 851.3L962 850.4M855.7 682.4L859.2 679.7M958 815.8L961.8 812.7M890.9 628.3L894.2 627.9M969.6 733.2L972.5 733.9M914.9 655.6L918.9 652.3M1015.3 787.4L1018.4 785.4M945.3 645.2L949.1 642.9M1057.3 761.3L1060.2 760.7M992.8 662.1L996.8 658.8M1094.8 794.6L1098 792.2M1024.1 704.4L1026.9 702.9M1121 835.9L1124.9 832.9M1064.8 681.5L1068.3 678.8M1167.2 815L1170.9 811.9M1093.7 726.9L1096.5 726.6M1201.3 842.7L1204.8 840.8M1131.7 627.3L1135 628M1201.1 718L1204.1 719.6M1175.2 755.8L1178.1 757.3M1238 852.5L1241.1 853.1M1192.5 633.4L1196 632.1M1293.8 742.6L1296.7 742.8M1224 652.2L1227.8 649.2M1323.3 783.4L1326.4 781.6M1255.1 633.1L1258.4 631.2M1334.7 763.1L1337.6 762.2M1260.6 641L1264.1 638.7M1355.1 768.1L1357.9 767M765.1 852.2L768.2 851M1317.9 729.4L1320.5 729.2M763.8 746.2L766.6 746.3M1306.7 631.1L1309.8 630M752.4 625.8L756.1 627.8M814.5 692.7L818.5 695.8M857.8 632.5L862.4 636.6M898.5 683.6L903.1 688.4M935.5 787.8L939.7 791.9M981.7 846.9L985.8 850.1M1075.1 631.9L1079.2 635.4M1117.9 685.9L1122.3 690.4M1254.4 778.9L1257.9 781.8M1309.3 850L1313.1 852.1" stroke="#0000ff"/><path d="M791.6 788.9L794.8 786.6M1326.8 651.7L1330.8 648.4M815.8 837.3L819.8 834.1M1353.3 700.6L1356.6 698.6M771 744.7L773.8 745.5M834.4 853.4L837.7 853.3M793.1 720.9L795.9 720.2M877.5 848.3L881 846.3M791.6 628.2L794.8 627.8M878.4 729.1L881.5 730M810.8 627.9L814.1 628.9M874.5 717L877.5 718.8M844.1 632.8L847.6 630.4M918.9 769.2L921.7 768M852.6 760.8L855.7 762.5M916.9 852.4L920.2 853.2M865.1 745.3L867.9 745.9M955.4 852L958.7 851.3M859.2 679.7L862.9 676.6M954.1 819.3L958 815.8M894.2 627.9L897.2 627.8M966.8 732.3L969.6 733.2M918.9 652.3L922.8 649M1012.1 789.7L1015.3 787.4M949.1 642.9L952.8 640.6M1054.5 762.1L1057.3 761.3M996.8 658.8L1000.7 655.3M1091.2 797.3L1094.8 794.6M1026.9 702.9L1030 701.2M1117.1 839L1121 835.9M1068.3 678.8L1071.8 675.8M1163.2 818.4L1167.2 815M1096.5 726.6L1099.3 726.2M1197.6 844.7L1201.3 842.7M1135 628L1138.3 629M1198 716.1L1201.1 718M1178.1 757.3L1181.2 759.2M1235 851.5L1238 852.5M1196 632.1L1199.5 630.8M1291 742.4L1293.8 742.6M1227.8 649.2L1231.9 645.7M1320.3 785.4L1323.3 783.4M1258.4 631.2L1261.9 629.1M1331.9 764L1334.7 763.1M1264.1 638.7L1267.8 636.1M1352.2 769.3L1355.1 768.1M761.8 853.5L765.1 852.2M1320.5 729.2L1323.1 729M760.9 746.2L763.8 746.2M1309.8 630L1313.3 628.8M756.1 627.8L760.3 630.4M810.4 689.1L814.5 692.7M862.4 636.6L868.1 642.7M892.8 676.8L898.5 683.6M939.7 791.9L944.5 797.3M976.8 842.3L981.7 846.9M1079.2 635.4L1084.7 641.1M1112.7 679.8L1117.9 685.9M1257.9 781.8L1261.9 785.7M1305.4 847L1309.3 850" stroke="#3300ff"/><path d="M788.3 791.4L791.6 788.9M1330.8 648.4L1334.9 644.7M811.9 840.7L815.8 837.3M1356.6 698.6L1359.7 696.5M773.8 745.5L776.7 746.6M831.2 853.1L834.4 853.4M795.9 720.2L798.8 719.4M873.8 850.5L877.5 848.3M794.8 627.8L798.3 627.6M875.3 728.1L878.4 729.1M814.1 628.9L817.6 630.3M871.2 714.7L874.5 717M847.6 630.4L851.3 627.8M915.8 770.7L918.9 769.2M855.7 762.5L858.7 764.6M913.6 851.2L916.9 852.4M867.9 745.9L871 746.6M951.9 852.7L955.4 852M862.9 676.6L866.6 673.2M949.9 823.2L954.1 819.3M897.2 627.8L900.5 627.9M963.7 731.2L966.8 732.3M922.8 649L927 645.2M1008.6 792.3L1012.1 789.7M952.8 640.6L956.7 638.1M1051.4 762.9L1054.5 762.1M1000.7 655.3L1004.8 651.4M1087.5 800.4L1091.2 797.3M1030 701.2L1033.3 699.1M1113.1 842.2L1117.1 839M1071.8 675.8L1075.7 672.2M1159.1 822.4L1163.2 818.4M1099.3 726.2L1102.4 725.7M1193.8 846.6L1197.6 844.7M1138.3 629L1141.8 630.6M1194.7 713.7L1198 716.1M1181.2 759.2L1184.2 761.5M1231.5 849.9L1235 851.5M1199.5 630.8L1203 629.7M1288.1 742.1L1291 742.4M1231.9 645.7L1235.8 642.3M1316.8 787.9L1320.3 785.4M1261.9 629.1L1265.4 627M1329 765.1L1331.9 764M1267.8 636.1L1271.7 633.3M1349.2 770.6L1352.2 769.3M758.5 854.6L761.8 853.5M1323.1 729L1326.2 728.8M758.1 746.1L760.9 746.2M1313.3 628.8L1316.6 627.9M760.3 630.4L765.1 634.2M805.6 684.5L810.4 689.1M868.1 642.7L874.7 651.2 887.2 669.1 892.8 676.8M944.5 797.3L951 805.9M970.3 834.4L973.6 838.6 976.8 842.3M1084.7 641.1L1088.8 646.1 1093.4 652.4M1103.9 667.8L1108.5 674.4 1112.7 679.8M1261.9 785.7L1266.2 790.6M1300.8 842.7L1305.4 847" stroke="#6600ff"/><path d="M784.8 794.3L788.3 791.4M1334.9 644.7L1339.3 640.5M807.8 844.4L811.9 840.7M1359.7 696.5L1363.2 693.9M776.7 746.6L779.8 748.1 782.4 749.7 784.8 751.7 787 753.9 788.9 756.4 790.9 759.5 792.7 762.8 794.2 766.4 796.6 773.3 799 782.2 805.8 813.8 808.2 823.7 811 833 813.9 839.6 815.4 842.4 817.2 845 819.1 847.2 821.1 849 823.3 850.5 825.7 851.7 828.3 852.6 831.2 853.1M798.8 719.4L801.8 718.4M870.3 852.5L873.8 850.5M798.3 627.6L801.6 627.7M872.3 726.9L875.3 728.1M817.6 630.3L821.3 632.5M867.7 711.7L871.2 714.7M851.3 627.8L858.1 622.7 863.5 618 867.9 613.5 871.4 608.9 874.2 603.9 876.7 598.1 878.6 591.5 880.2 584.2M880.4 898L881.7 889.1 883 877.3 886.3 838.5 887.8 823 889.8 809.1 890.9 803.7 892 799.3 893.5 794.5 895.5 789.9 897.7 786 900.3 782.5 903.3 779.2 906.8 776.3 911 773.4 915.8 770.7M858.7 764.6L862.2 767.4M909.9 849.2L913.6 851.2M871 746.6L874 747.3M948.4 853.1L951.9 852.7M866.6 673.2L870.5 669.3M945.6 827.7L949.9 823.2M900.5 627.9L904 628.3M960.9 730L963.7 731.2M927 645.2L931.1 641.2M1005.1 795.3L1008.6 792.3M956.7 638.1L960.7 635.7M1048.4 763.9L1051.4 762.9M1004.8 651.4L1009.2 647M1083.8 803.9L1087.5 800.4M1033.3 699.1L1036.6 696.8M1109 845.8L1113.1 842.2M1075.7 672.2L1079.7 668.3M1154.7 826.9L1159.1 822.4M1102.4 725.7L1105.2 725.2M1189.9 848.6L1193.8 846.6M1141.8 630.6L1145.5 632.9M1191.2 710.7L1194.7 713.7M1184.2 761.5L1187.9 765 1191.4 769.2 1194.7 774.4 1197.8 780.4 1200.2 786 1202.6 792.5 1212.7 822.5 1215.5 829.5 1218.1 835 1221.2 840.1 1224.2 844 1227.8 847.4 1231.5 849.9M1203 629.7L1206.5 628.8M1285.1 741.8L1288.1 742.1M1235.8 642.3L1240 638.4M1313.5 790.5L1316.8 787.9M1265.4 627L1274.6 621.2 1280.7 616.8 1285.3 612.8 1288.6 608.9 1289.9 606.9 1291.2 604.4 1293.2 599 1294.7 592.2 1295.8 584.3M1296 897.2L1296.7 889.5M1296.9 886.3h0M1297.1 882.8h0M1297.3 878.9h0M1297.5 874.7h0M1297.8 870h0M1298 865.1h0M1298.2 859.8h0M1298.4 854.3h0M1298.6 848.8h0M1298.8 843.3h0M1299.1 838h0M1299.3 832.9h0M1299.5 828.2h0M1299.7 823.8h0M1299.9 819.9h0M1300.2 816.3h0M1300.4 813.1L1301.5 801.1 1302.8 792.7 1304.5 786 1305.8 782.8 1307.2 780.3 1308.7 778.1 1310.4 776 1312.6 774 1315 772.1 1317.9 770.3 1321.2 768.5 1329 765.1M1271.7 633.3L1275.4 630.7M1346.1 772.2L1349.2 770.6M736 853.3L737.5 854.8 739.5 856.1 741.7 856.8 744.3 857.2 747.2 857.2 750.4 856.7 754.2 855.9 758.5 854.6M1326.2 728.8L1334.1 728.8 1336.9 729.1 1339.5 729.7 1341.7 730.5 1343.7 731.7 1345.2 733.1 1346.8 735.1 1348.1 737.6 1349.2 740.4 1350.9 747.4 1352.4 758 1353.8 772.6M1354 775.6h0M1354.2 778.8h0M1354.4 782.1h0M1354.6 785.5h0M1354.8 789h0M1355.1 792.6h0M1355.3 796.2h0M1355.5 799.8h0M1355.7 803.3h0M1355.9 806.7h0M1356.2 809.9h0M1356.4 813.1L1357.9 830.3 1358.8 836.8 1359.9 842.6 1361.2 847.3 1362.5 850.5 1364 853 1366 855M755.2 745.9L758.1 746.1M1316.6 627.9L1319.8 627.1M765.1 634.2L770.8 639.8M799.9 678.1L805.6 684.5M951 805.9L965 827 970.3 834.4M1093.4 652.4L1103.9 667.8M1266.2 790.6L1271.9 798.3M1295.3 836.1L1298.2 839.8 1300.8 842.7" stroke="#9900ff"/><path d="M781.1 797.8L784.8 794.3M1339.3 640.5L1343.7 635.9M736 693L738.4 690.9M803.4 848.6L807.8 844.4M1363.2 693.9L1366 691.6M801.8 718.4L804.9 717.4M866.4 854.7L870.3 852.5M801.6 627.7L805.3 628.1M869 725.5L872.3 726.9M821.3 632.5L825.2 635.7M864 707.9L867.7 711.7M862.2 767.4L865.9 771.1M906 846.3L909.9 849.2M874 747.3L877.1 748.3M944.9 853.3L948.4 853.1M870.5 669.3L874.9 664.4M941 832.9L945.6 827.7M904 628.3L907.5 629.3M957.6 728.2L960.9 730M931.1 641.2L935.7 636.4M1001.3 798.9L1005.1 795.3M960.7 635.7L964.8 633.1M1045.1 765L1048.4 763.9M1009.2 647L1013.8 641.9M1079.9 808.1L1083.8 803.9M1036.6 696.8L1040.1 694M1104.8 849.7L1109 845.8M1079.7 668.3L1084 663.4M1150.1 832.1L1154.7 826.9M1105.2 725.2L1108.5 724.6M1186.2 850.5L1189.9 848.6M1145.5 632.9L1149.4 636.2M1187.3 706.6L1191.2 710.7M1206.5 628.8L1210.2 628M1282 741.5L1285.1 741.8M1240 638.4L1244.6 633.8M1309.8 793.8L1313.5 790.5M1275.4 630.7L1279.4 627.7M1342.8 774L1346.1 772.2M752.2 745.6L755.2 745.9M1319.8 627.1L1323.6 626.4M770.8 639.8L775.6 645.4 781.1 652.6M789.6 664.6L795.1 672.1 799.9 678.1M1271.9 798.3L1277.4 806.9 1289.2 827 1295.3 836.1" stroke="#cc00ff"/><path d="M736 603.9L739.5 594.7 743 583.5M743.2 897.7L746.5 885.2 755 850 758.1 839.3 761.4 829.7 765.3 820.5 767.5 816.2 769.9 812 772.5 808 775.2 804.5 778 801.1 781.1 797.8M1343.7 635.9L1347.4 631.7 1350.7 627.6 1353.8 623.3 1356.6 619 1359.2 614.4 1361.6 609.8 1363.8 605 1366 599.6M738.4 690.9L741.7 687.8 744.8 684.4 747.4 681.1 750 677.3 752.4 673.2 754.6 668.9 756.6 664.4 758.5 659.2 761.4 650.1 764.2 638.8 766.6 627.7 772.5 598.2 776 583.3M776.2 897.5L778.7 889.3 781.1 882.5 783.7 876.2 786.8 870.2 790 864.7 794 859.2 798.3 853.9 803.4 848.6M804.9 717.4L812.6 714.4 818.7 711.3 823.1 708.2 824.8 706.5 826.3 704.6 828.5 700.8 829.4 698.5 830.3 695.5 831.6 688.1 832.5 679M832.7 675.8h0M832.9 672h0M833.1 667.5h0M833.3 662.3h0M833.6 656.1h0M833.8 649.1h0M834 641.2h0M834.2 632.9h0M834.4 624.4h0M834.7 616.3h0M834.9 608.9h0M835.1 602.3h0M835.3 596.7h0M835.5 591.9h0M835.8 587.8h0M836 584.4h0M836.2 896.4L837.1 888 838.4 881 840.1 875.9 841.2 873.7 842.5 871.7 845.8 868.1 850.2 864.6 856.3 860.6 866.4 854.7M805.3 628.1L808.2 628.8 811 629.8 813.7 631 816.1 632.5 818.2 634.2 820.4 636.3 822.4 638.7 824.4 641.4 827.9 647.6 831.4 655.7 834.7 664.9 843.4 691.7 846.5 699.5 849.5 705.9 851.5 709.4 853.5 712.4 855.7 715.2 858.1 717.8 860.5 720 863.1 722 865.9 723.8 869 725.5M825.2 635.7L827.9 638.5 830.5 641.9 832.9 645.5 835.3 649.7 839.9 659.3 849.3 682.3 853.5 691.4 855.9 696.1 858.5 700.5 861.1 704.3 864 707.9M865.9 771.1L868.8 774.6 871.4 778.4 874 782.8 876.7 787.8 881 797.8 890.4 821.6 892.8 827 895.2 831.9 897.9 836.5 900.5 840.3 903.1 843.5 906 846.3M877.1 748.3L880.8 749.7 884.3 751.4 887.4 753.3 890 755.4 892.4 757.8 894.8 760.7 896.8 763.7 898.8 767.3 901.8 774.5 904.7 783.1 907.3 792.7 913 815.5 916 826 919.3 834.8 921.1 838.4 923 841.7 925 844.5 927.2 846.9 929.6 848.9 932.2 850.5 935.1 851.8 938.1 852.6 941.4 853.1 944.9 853.3M874.9 664.4L880.2 657.6 884.8 650.7 889.1 642.8 893.1 634.4 896.6 625.6 900.3 614.9 909.9 583M910.1 897.3L913.8 885.4 917.1 875.9 920.4 867.5 923.9 859.6 927.6 852.4 931.8 845.4 936.2 839 941 832.9M907.5 629.3L909.7 630.2 911.9 631.4 913.8 632.8 915.6 634.4 917.3 636.3 919.1 638.5 922.2 643.7 925 650.2 927.6 657.7 930.2 666.9 937.5 694.5 939.9 702.2 942.3 708.5 945.6 715.3 949.1 720.5 951 722.8 953 724.8 955.2 726.6 957.6 728.2M935.7 636.4L940.5 630.8 944.9 625 948.6 619.3 952.1 613.1 955.2 606.7 958 599.8 960.9 591.7 963.5 583.1M963.7 897.3L966.8 885.7 975.5 850.4 978.6 839.9 981.9 830.4 985.8 821.3 988 817 990.4 812.9 992.8 809.2 995.4 805.6 998.3 802.2 1001.3 798.9M964.8 633.1L976 625.8 983.6 620.3 989.3 615.5 993.7 610.8 995.4 608.3 997 605.8 998.3 603.2 999.6 599.9 1001.6 593.2 1003.3 583.8M1003.5 897.3L1004.6 887.9 1005.7 874.8M1005.9 871.7h0M1006.2 868.5h0M1006.4 865.1h0M1006.6 861.6h0M1006.8 858.1h0M1007 854.4h0M1007.2 850.8h0M1007.5 847.2h0M1007.7 843.6h0M1007.9 840.1h0M1008.1 836.7h0M1008.3 833.5h0M1008.6 830.4L1010.1 813 1011.8 800.9 1012.9 795.9 1014 792 1015.3 788.4 1017.1 784.8 1019.1 781.7 1021.2 779 1023.9 776.4 1027.2 773.8 1030.9 771.4 1035 769.2 1039.8 767 1045.1 765M1013.8 641.9L1018.6 635.9 1023 629.7 1026.9 623.3 1030.4 616.8 1033.7 609.7 1036.8 602 1039.8 593.3 1042.9 583.5M1043.1 897.7L1054.1 858.9 1057.6 848.2 1061.1 838.9 1065.2 829.8 1069.6 821.9 1074.4 814.8 1079.9 808.1M1040.1 694L1043.6 690.8 1046.6 687.6 1049.5 684.1 1052.1 680.3 1054.5 676.3 1056.7 672 1058.7 667.4 1060.6 662 1063.2 653.2 1065.9 642.3 1068.3 630.2 1074 599.3 1077.5 583.6M1077.7 897.8L1079.9 890.1 1082.3 883.1 1084.9 876.8 1088 870.8 1091.2 865.5 1095.2 860.2 1099.6 855 1104.8 849.7M1084 663.4L1089.3 656.6 1093.9 649.6 1098.2 641.7 1102.2 633.3 1105.7 624.6 1109.4 614 1112.9 602.9 1118.8 583M1119 897.3L1122.8 885.4 1126.2 875.2 1129.5 866.8 1133 858.9 1136.8 851.7 1140.9 844.7 1145.3 838.3 1150.1 832.1M1108.5 724.6L1124.9 721.4 1130.2 720.5 1134.8 720.3 1136.5 720.5 1137.8 720.9 1139.2 721.7 1140.2 722.8 1141.1 724.2 1141.8 725.9 1142.9 730.7 1143.8 739.1M1144 742.6h0M1144.2 747h0M1144.4 752.8h0M1144.6 760.2h0M1144.8 769.7h0M1145.1 781.3h0M1145.3 794h0M1145.5 806.3h0M1145.7 817.1h0M1145.9 825.7h0M1146.2 832.3h0M1146.4 837.5h0M1146.6 841.5h0M1146.8 844.7L1147.7 852.4 1148.3 855.5 1149 857.4 1149.9 859.1 1151 860.4 1152.3 861.2 1153.8 861.7 1155.8 861.8 1158.4 861.5 1161.5 860.8 1165.2 859.6 1174.6 855.9 1186.2 850.5M1149.4 636.2L1152.1 639.1 1154.5 642.2 1156.9 645.8 1159.3 650 1163.9 659.6 1173.1 681.6 1177.2 690.7 1179.6 695.3 1182 699.3 1184.7 703.2 1187.3 706.6M1210.2 628L1214.8 627.3 1218.8 627.1 1222.5 627.4 1225.8 628.1 1228.6 629.3 1231.2 631.1 1233.7 633.5 1235.6 636.2 1237.4 639.4 1239.1 643.6 1240.7 648.2 1242.2 654 1244.8 666.9 1249.4 694.9 1251.4 705.4 1254 716.2 1255.3 720.3 1256.8 724.2 1258.8 728.1 1261 731.4 1263.4 734 1266 736.2 1269.1 738 1272.8 739.5 1277 740.6 1282 741.5M1244.6 633.8L1249.4 628.4 1253.6 623.2 1257.3 617.8 1260.8 611.8 1263.8 605.6 1266.7 598.8 1269.3 591.3 1271.7 583.2M1271.9 897.5L1275.2 884.3 1281.3 856.5 1284 845.4 1286.8 834.9 1289.9 825.6 1293.8 816.2 1296 811.9 1298.4 807.8 1301 803.9 1303.7 800.4 1306.5 797.2 1309.8 793.8M1279.4 627.7L1285.7 622.5 1290.8 617.8 1294.9 613 1298.2 608.3 1301 603.1 1303.4 597.2 1305.4 590.7 1307.2 583M1307.4 896.9L1308.9 887.6 1310.2 877.6 1314.2 839.9 1315.9 825.5 1317.9 813.5 1320.3 803.4 1322 798.1 1323.8 794 1326 789.9 1328.6 786.1 1331.4 782.8 1334.7 779.7 1338.4 776.8 1342.8 774M736 737.1L737.5 739 739.1 740.5 740.8 741.9 742.6 742.9 746.9 744.5 752.2 745.6M1323.6 626.4L1327.7 626.1 1331.2 626.3 1334.3 627 1337.1 628.3 1339.5 630.1 1341.5 632.3 1343.2 635.2 1345 639.1 1346.3 643.1 1347.4 647.3 1349.4 657.6 1351.1 670.1 1355.1 703.3 1356.4 712.2 1357.7 719.2 1359.4 726.3 1361.2 731.4 1363.4 735.8 1366 739.2M781.1 652.6L789.6 664.6" stroke="#ff00ff"/></g><path d="M1310.9 715.1h0M1204.3 644.6h0M1171.5 619h0M1171.8 619.2h0M1172 619.4h0M755.5 725.7h0M909.2 736.8h0M763.3 636.4h0M1121.7 870.5h0M962 758.7h0M1233.4 608.3h0M1305.8 663.1h0M997.8 835.6h0M1301.5 638.2h0M1301.7 638.3h0M1301.9 638.5h0M812.1 704.2h0M1004.8 740h0M1175 847h0M1175.2 847.2h0M1175.5 847.3h0M904.9 669.4h0M1243.3 818.9h0M817.6 870.5h0M928.7 608h0M930.2 608.9h0M930.5 609h0M930.7 609.1h0M862.7 849.8h0M862.9 849.9h0M863.1 850.1h0M1197.1 667.5h0M1208.9 673h0M972.5 853.8h0M972.7 854h0M972.9 854.1h0M1348.7 621.7h0M949.9 717.1h0M895.5 764.1h0M757.4 868h0M1285.3 792.3h0M1091.7 681.2h0M1354.4 854h0M1074.8 701.1h0" stroke="#000" stroke-width="2.4" stroke-linecap="square" fill="none"/>
<path d="M736 845H1366" stroke="#000" stroke-width="1" shape-rendering="crispEdges" transform="translate(0,.5)"/>
<path d="M736 845h6M1366 845h-6" stroke="#000" stroke-width="3" shape-rendering="crispEdges" transform="translate(0,.5)"/>
<path d="M736 793H1366" stroke="#000" stroke-width="1" shape-rendering="crispEdges" transform="translate(0,.5)"/>
<path d="M736 793h6M1366 793h-6" stroke="#000" stroke-width="3" shape-rendering="crispEdges" transform="translate(0,.5)"/>
<path d="M736 740H1366" stroke="#000" stroke-width="1" shape-rendering="crispEdges" transform="translate(0,.5)"/>
<path d="M736 740h6M1366 740h-6" stroke="#000" stroke-width="3" shape-rendering="crispEdges" transform="translate(0,.5)"/>
<path d="M736 688H1366" stroke="#000" stroke-width="1" shape-rendering="crispEdges" transform="translate(0,.5)"/>
<path d="M736 688h6M1366 688h-6" stroke="#000" stroke-width="3" shape-rendering="crispEdges" transform="translate(0,.5)"/>
<path d="M736 635H1366" stroke="#000" stroke-width="1" shape-rendering="crispEdges" transform="translate(0,.5)"/>
<path d="M736 635h6M1366 635h-6" stroke="#000" stroke-width="3" shape-rendering="crispEdges" transform="translate(0,.5)"/>
<path d="M814.8 583v6M814.8 898v-6M893.5 583v6M893.5 898v-6M972.2 583v6M972.2 898v-6M1051.0 583v6M1051.0 898v-6M1129.8 583v6M1129.8 898v-6M1208.5 583v6M1208.5 898v-6M1287.2 583v6M1287.2 898v-6M762.2 583v4M762.2 898v-4M788.5 583v4M788.5 898v-4M841.0 583v4M841.0 898v-4M867.2 583v4M867.2 898v-4M919.8 583v4M919.8 898v-4M946.0 583v4M946.0 898v-4M998.5 583v4M998.5 898v-4M1024.8 583v4M1024.8 898v-4M1077.2 583v4M1077.2 898v-4M1103.5 583v4M1103.5 898v-4M1156.0 583v4M1156.0 898v-4M1182.2 583v4M1182.2 898v-4M1234.8 583v4M1234.8 898v-4M1261.0 583v4M1261.0 898v-4M1313.5 583v4M1313.5 898v-4M1339.8 583v4M1339.8 898v-4" stroke="#000" stroke-width="1.6"/>
<rect x="736" y="583" width="630" height="315" fill="none" stroke="#000" stroke-width="4"/>
<text transform="translate(1410.5,905.6) scale(1,1.065)" font-size="21.3" text-anchor="end">0</text>
<text transform="translate(1410.5,853.1) scale(1,1.065)" font-size="21.3" text-anchor="end">60</text>
<text transform="translate(1410.5,800.6) scale(1,1.065)" font-size="21.3" text-anchor="end">120</text>
<text transform="translate(1410.5,748.1) scale(1,1.065)" font-size="21.3" text-anchor="end">180</text>
<text transform="translate(1410.5,695.6) scale(1,1.065)" font-size="21.3" text-anchor="end">240</text>
<text transform="translate(1410.5,643.1) scale(1,1.065)" font-size="21.3" text-anchor="end">300</text>
<text transform="translate(1410.5,590.6) scale(1,1.065)" font-size="21.3" text-anchor="end">360</text>
<text transform="translate(736.0,922) scale(1,1.065)" font-size="21.3" text-anchor="middle">0</text>
<text transform="translate(814.75,922) scale(1,1.065)" font-size="21.3" text-anchor="middle">3</text>
<text transform="translate(893.5,922) scale(1,1.065)" font-size="21.3" text-anchor="middle">6</text>
<text transform="translate(972.25,922) scale(1,1.065)" font-size="21.3" text-anchor="middle">9</text>
<text transform="translate(1051.0,922) scale(1,1.065)" font-size="21.3" text-anchor="middle">12</text>
<text transform="translate(1129.75,922) scale(1,1.065)" font-size="21.3" text-anchor="middle">15</text>
<text transform="translate(1208.5,922) scale(1,1.065)" font-size="21.3" text-anchor="middle">18</text>
<text transform="translate(1287.25,922) scale(1,1.065)" font-size="21.3" text-anchor="middle">21</text>
<text transform="translate(1366.0,922) scale(1,1.065)" font-size="21.3" text-anchor="middle">24</text>
<text transform="translate(1439.5,741) rotate(-90)" font-size="21.8" text-anchor="middle">Azimut (grados)</text>
<use href="#ign" x="388" y="1130" style="mix-blend-mode:multiply"/>
<path d="M67 1239.2H697" stroke="#000" stroke-width="1.7"/>
<path d="M67 1186.7H697" stroke="#000" stroke-width="1.7"/>
<path d="M67 1134.2H697" stroke="#000" stroke-width="1.7"/>
<path d="M67 1081.7H697" stroke="#000" stroke-width="1.7"/>
<path d="M67 1029.2H697" stroke="#000" stroke-width="1.7"/>
<g clip-path="url(#k3)" fill="none" stroke-width="2.7" stroke-linecap="round" stroke-linejoin="round"><use href="#b0" stroke="url(#gl0)"/><use href="#b1" stroke="url(#gl1)"/><use href="#b2" stroke="url(#gl2)"/></g><g clip-path="url(#k3)" fill="none" stroke-width="2.7"><use href="#b0" stroke="url(#nl1)" stroke-dasharray="1.6 2.6 1 4.4 2.3 3.1 1.2 6.3 1.8 2.2" stroke-dashoffset="2"/><use href="#b0" stroke="url(#nl0)" stroke-dasharray="1.5 3.4 2.4 5.2 1.1 2.7 1.9 7.1 2.8 4.3" stroke-dashoffset="0"/><use href="#b1" stroke="url(#nl1)" stroke-dasharray="1.6 2.6 1 4.4 2.3 3.1 1.2 6.3 1.8 2.2" stroke-dashoffset="3"/><use href="#b1" stroke="url(#nl0)" stroke-dasharray="1.5 3.4 2.4 5.2 1.1 2.7 1.9 7.1 2.8 4.3" stroke-dashoffset="1"/><use href="#b2" stroke="url(#nl1)" stroke-dasharray="1.6 2.6 1 4.4 2.3 3.1 1.2 6.3 1.8 2.2" stroke-dashoffset="4"/><use href="#b2" stroke="url(#nl0)" stroke-dasharray="1.5 3.4 2.4 5.2 1.1 2.7 1.9 7.1 2.8 4.3" stroke-dashoffset="2"/></g><path d="M432.8 1285.3h0M573.7 1288.4h0M624.9 1267.3h0M624.6 1267.2h0M624.3 1267.2h0M411.7 1275.7h0M389.4 1269h0M590.2 1288h0M122.1 1271.5h0M345.6 1266h0M646.4 1279.6h0M536.7 1288.3h0M191.9 1286.2h0M586.7 1269.5h0M586.4 1269.7h0M586 1270h0M454.5 1287.3h0M382.9 1267.4h0M169 1263.7h0M168.7 1263.5h0M168.3 1263.4h0M524.2 1288.4h0M225.2 1285.4h0M121.9 1271.8h0M647 1279.8h0M645.3 1277h0M645 1276.6h0M644.7 1276.3h0M163.4 1277h0M163.1 1276.8h0M162.8 1276.6h0M527.9 1288.1h0M517 1288.5h0M155.4 1280.8h0M155.1 1280.6h0M154.7 1280.5h0M619.6 1280.3h0M428.9 1285.4h0M334.9 1270.5h0M126.9 1272.3h0M278.5 1284.6h0M500.6 1288.5h0M155 1281.1h0M460.9 1287.5h0" stroke="#000" stroke-width="2.4" stroke-linecap="square" fill="none"/>
<path d="M67 1239.2H697" stroke="#000" stroke-width="1.7"/>
<path d="M67 1239.0h6M697 1239.0h-6" stroke="#000" stroke-width="2.2"/>
<path d="M67 1186.7H697" stroke="#000" stroke-width="1.7"/>
<path d="M67 1186.5h6M697 1186.5h-6" stroke="#000" stroke-width="2.2"/>
<path d="M67 1134.2H697" stroke="#000" stroke-width="1.7"/>
<path d="M67 1134.0h6M697 1134.0h-6" stroke="#000" stroke-width="2.2"/>
<path d="M67 1081.7H697" stroke="#000" stroke-width="1.7"/>
<path d="M67 1081.5h6M697 1081.5h-6" stroke="#000" stroke-width="2.2"/>
<path d="M67 1029.2H697" stroke="#000" stroke-width="1.7"/>
<path d="M67 1029.0h6M697 1029.0h-6" stroke="#000" stroke-width="2.2"/>
<path d="M119.5 977v6M119.5 1292v-6M172.0 977v6M172.0 1292v-6M224.5 977v6M224.5 1292v-6M277.0 977v6M277.0 1292v-6M329.5 977v6M329.5 1292v-6M382.0 977v6M382.0 1292v-6M434.5 977v6M434.5 1292v-6M487.0 977v6M487.0 1292v-6M539.5 977v6M539.5 1292v-6M592.0 977v6M592.0 1292v-6M644.5 977v6M644.5 1292v-6M84.5 977v4M84.5 1292v-4M102.0 977v4M102.0 1292v-4M137.0 977v4M137.0 1292v-4M154.5 977v4M154.5 1292v-4M189.5 977v4M189.5 1292v-4M207.0 977v4M207.0 1292v-4M242.0 977v4M242.0 1292v-4M259.5 977v4M259.5 1292v-4M294.5 977v4M294.5 1292v-4M312.0 977v4M312.0 1292v-4M347.0 977v4M347.0 1292v-4M364.5 977v4M364.5 1292v-4M399.5 977v4M399.5 1292v-4M417.0 977v4M417.0 1292v-4M452.0 977v4M452.0 1292v-4M469.5 977v4M469.5 1292v-4M504.5 977v4M504.5 1292v-4M522.0 977v4M522.0 1292v-4M557.0 977v4M557.0 1292v-4M574.5 977v4M574.5 1292v-4M609.5 977v4M609.5 1292v-4M627.0 977v4M627.0 1292v-4M662.0 977v4M662.0 1292v-4M679.5 977v4M679.5 1292v-4" stroke="#000" stroke-width="1.6"/>
<rect x="67" y="977" width="630" height="315" fill="none" stroke="#000" stroke-width="4"/>
<text transform="translate(58.5,1299.6) scale(1,1.065)" font-size="21.3" text-anchor="end">0</text>
<text transform="translate(58.5,1247.1) scale(1,1.065)" font-size="21.3" text-anchor="end">15</text>
<text transform="translate(58.5,1194.6) scale(1,1.065)" font-size="21.3" text-anchor="end">30</text>
<text transform="translate(58.5,1142.1) scale(1,1.065)" font-size="21.3" text-anchor="end">45</text>
<text transform="translate(58.5,1089.6) scale(1,1.065)" font-size="21.3" text-anchor="end">60</text>
<text transform="translate(58.5,1037.1) scale(1,1.065)" font-size="21.3" text-anchor="end">75</text>
<text transform="translate(58.5,984.6) scale(1,1.065)" font-size="21.3" text-anchor="end">90</text>
<text transform="translate(67.0,1316) scale(1,1.065)" font-size="21.3" text-anchor="middle">0</text>
<text transform="translate(119.5,1316) scale(1,1.065)" font-size="21.3" text-anchor="middle">30</text>
<text transform="translate(172.0,1316) scale(1,1.065)" font-size="21.3" text-anchor="middle">60</text>
<text transform="translate(224.5,1316) scale(1,1.065)" font-size="21.3" text-anchor="middle">90</text>
<text transform="translate(277.0,1316) scale(1,1.065)" font-size="21.3" text-anchor="middle">120</text>
<text transform="translate(329.5,1316) scale(1,1.065)" font-size="21.3" text-anchor="middle">150</text>
<text transform="translate(382.0,1316) scale(1,1.065)" font-size="21.3" text-anchor="middle">180</text>
<text transform="translate(434.5,1316) scale(1,1.065)" font-size="21.3" text-anchor="middle">210</text>
<text transform="translate(487.0,1316) scale(1,1.065)" font-size="21.3" text-anchor="middle">240</text>
<text transform="translate(539.5,1316) scale(1,1.065)" font-size="21.3" text-anchor="middle">270</text>
<text transform="translate(592.0,1316) scale(1,1.065)" font-size="21.3" text-anchor="middle">300</text>
<text transform="translate(644.5,1316) scale(1,1.065)" font-size="21.3" text-anchor="middle">330</text>
<text transform="translate(697.0,1316) scale(1,1.065)" font-size="21.3" text-anchor="middle">360</text>
<text x="381.3" y="1344.5" font-size="22.2" text-anchor="middle" >Azimut (grados)</text>
<text transform="translate(21,1133.4) rotate(-90)" font-size="22" text-anchor="middle">Elevación (grados)</text>
<use href="#ign" x="1054" y="1128" style="mix-blend-mode:multiply"/>
<path d="M736 1239.2H1366" stroke="#000" stroke-width="1.7"/>
<path d="M736 1186.7H1366" stroke="#000" stroke-width="1.7"/>
<path d="M736 1134.2H1366" stroke="#000" stroke-width="1.7"/>
<path d="M736 1081.7H1366" stroke="#000" stroke-width="1.7"/>
<path d="M736 1029.2H1366" stroke="#000" stroke-width="1.7"/>
<g clip-path="url(#k4)" fill="none" stroke-width="2.7" stroke-linecap="round" stroke-linejoin="round"><use href="#a0" stroke="url(#gl0)"/><use href="#a1" stroke="url(#gl1)"/><use href="#a2" stroke="url(#gl2)"/></g><g clip-path="url(#k4)" fill="none" stroke-width="2.7"><use href="#a0" stroke="url(#nl1)" stroke-dasharray="1.6 2.6 1 4.4 2.3 3.1 1.2 6.3 1.8 2.2" stroke-dashoffset="2"/><use href="#a0" stroke="url(#nl0)" stroke-dasharray="1.5 3.4 2.4 5.2 1.1 2.7 1.9 7.1 2.8 4.3" stroke-dashoffset="0"/><use href="#a1" stroke="url(#nl1)" stroke-dasharray="1.6 2.6 1 4.4 2.3 3.1 1.2 6.3 1.8 2.2" stroke-dashoffset="3"/><use href="#a1" stroke="url(#nl0)" stroke-dasharray="1.5 3.4 2.4 5.2 1.1 2.7 1.9 7.1 2.8 4.3" stroke-dashoffset="1"/><use href="#a2" stroke="url(#nl1)" stroke-dasharray="1.6 2.6 1 4.4 2.3 3.1 1.2 6.3 1.8 2.2" stroke-dashoffset="4"/><use href="#a2" stroke="url(#nl0)" stroke-dasharray="1.5 3.4 2.4 5.2 1.1 2.7 1.9 7.1 2.8 4.3" stroke-dashoffset="2"/></g><path d="M1310.9 1285.3h0M1204.3 1288.4h0M1171.5 1267.3h0M1171.8 1267.2h0M1172 1267.2h0M755.5 1275.7h0M909.2 1269h0M763.3 1288h0M1121.7 1271.5h0M962 1266h0M1233.4 1279.6h0M1305.8 1288.3h0M997.8 1286.2h0M1301.5 1269.5h0M1301.7 1269.7h0M1301.9 1270h0M812.1 1287.3h0M1004.8 1267.4h0M1175 1263.7h0M1175.2 1263.5h0M1175.5 1263.4h0M904.9 1288.4h0M1243.3 1285.4h0M817.6 1271.8h0M928.7 1279.8h0M930.2 1277h0M930.5 1276.6h0M930.7 1276.3h0M862.7 1277h0M862.9 1276.8h0M863.1 1276.6h0M1197.1 1288.1h0M1208.9 1288.5h0M972.5 1280.8h0M972.7 1280.6h0M972.9 1280.5h0M1348.7 1280.3h0M949.9 1285.4h0M895.5 1270.5h0M757.4 1272.3h0M1285.3 1284.6h0M1091.7 1288.5h0M1354.4 1281.1h0M1074.8 1287.5h0" stroke="#000" stroke-width="2.4" stroke-linecap="square" fill="none"/>
<path d="M736 1239.2H1366" stroke="#000" stroke-width="1.7"/>
<path d="M736 1239.0h6M1366 1239.0h-6" stroke="#000" stroke-width="2.2"/>
<path d="M736 1186.7H1366" stroke="#000" stroke-width="1.7"/>
<path d="M736 1186.5h6M1366 1186.5h-6" stroke="#000" stroke-width="2.2"/>
<path d="M736 1134.2H1366" stroke="#000" stroke-width="1.7"/>
<path d="M736 1134.0h6M1366 1134.0h-6" stroke="#000" stroke-width="2.2"/>
<path d="M736 1081.7H1366" stroke="#000" stroke-width="1.7"/>
<path d="M736 1081.5h6M1366 1081.5h-6" stroke="#000" stroke-width="2.2"/>
<path d="M736 1029.2H1366" stroke="#000" stroke-width="1.7"/>
<path d="M736 1029.0h6M1366 1029.0h-6" stroke="#000" stroke-width="2.2"/>
<path d="M814.8 977v6M814.8 1292v-6M893.5 977v6M893.5 1292v-6M972.2 977v6M972.2 1292v-6M1051.0 977v6M1051.0 1292v-6M1129.8 977v6M1129.8 1292v-6M1208.5 977v6M1208.5 1292v-6M1287.2 977v6M1287.2 1292v-6M762.2 977v4M762.2 1292v-4M788.5 977v4M788.5 1292v-4M841.0 977v4M841.0 1292v-4M867.2 977v4M867.2 1292v-4M919.8 977v4M919.8 1292v-4M946.0 977v4M946.0 1292v-4M998.5 977v4M998.5 1292v-4M1024.8 977v4M1024.8 1292v-4M1077.2 977v4M1077.2 1292v-4M1103.5 977v4M1103.5 1292v-4M1156.0 977v4M1156.0 1292v-4M1182.2 977v4M1182.2 1292v-4M1234.8 977v4M1234.8 1292v-4M1261.0 977v4M1261.0 1292v-4M1313.5 977v4M1313.5 1292v-4M1339.8 977v4M1339.8 1292v-4" stroke="#000" stroke-width="1.6"/>
<rect x="736" y="977" width="630" height="315" fill="none" stroke="#000" stroke-width="4"/>
<text transform="translate(1397.5,1299.6) scale(1,1.065)" font-size="21.3" text-anchor="end">0</text>
<text transform="translate(1397.5,1247.1) scale(1,1.065)" font-size="21.3" text-anchor="end">15</text>
<text transform="translate(1397.5,1194.6) scale(1,1.065)" font-size="21.3" text-anchor="end">30</text>
<text transform="translate(1397.5,1142.1) scale(1,1.065)" font-size="21.3" text-anchor="end">45</text>
<text transform="translate(1397.5,1089.6) scale(1,1.065)" font-size="21.3" text-anchor="end">60</text>
<text transform="translate(1397.5,1037.1) scale(1,1.065)" font-size="21.3" text-anchor="end">75</text>
<text transform="translate(1397.5,984.6) scale(1,1.065)" font-size="21.3" text-anchor="end">90</text>
<text transform="translate(736.0,1316) scale(1,1.065)" font-size="21.3" text-anchor="middle">0</text>
<text transform="translate(814.75,1316) scale(1,1.065)" font-size="21.3" text-anchor="middle">3</text>
<text transform="translate(893.5,1316) scale(1,1.065)" font-size="21.3" text-anchor="middle">6</text>
<text transform="translate(972.25,1316) scale(1,1.065)" font-size="21.3" text-anchor="middle">9</text>
<text transform="translate(1051.0,1316) scale(1,1.065)" font-size="21.3" text-anchor="middle">12</text>
<text transform="translate(1129.75,1316) scale(1,1.065)" font-size="21.3" text-anchor="middle">15</text>
<text transform="translate(1208.5,1316) scale(1,1.065)" font-size="21.3" text-anchor="middle">18</text>
<text transform="translate(1287.25,1316) scale(1,1.065)" font-size="21.3" text-anchor="middle">21</text>
<text transform="translate(1366.0,1316) scale(1,1.065)" font-size="21.3" text-anchor="middle">24</text>
<text x="1050.1" y="1344.5" font-size="22.2" text-anchor="middle" >Tiempo (horas)</text>
<text transform="translate(1428.1,1133.4) rotate(-90)" font-size="22" text-anchor="middle">Elevación (grados)</text>
</svg></body></html>
